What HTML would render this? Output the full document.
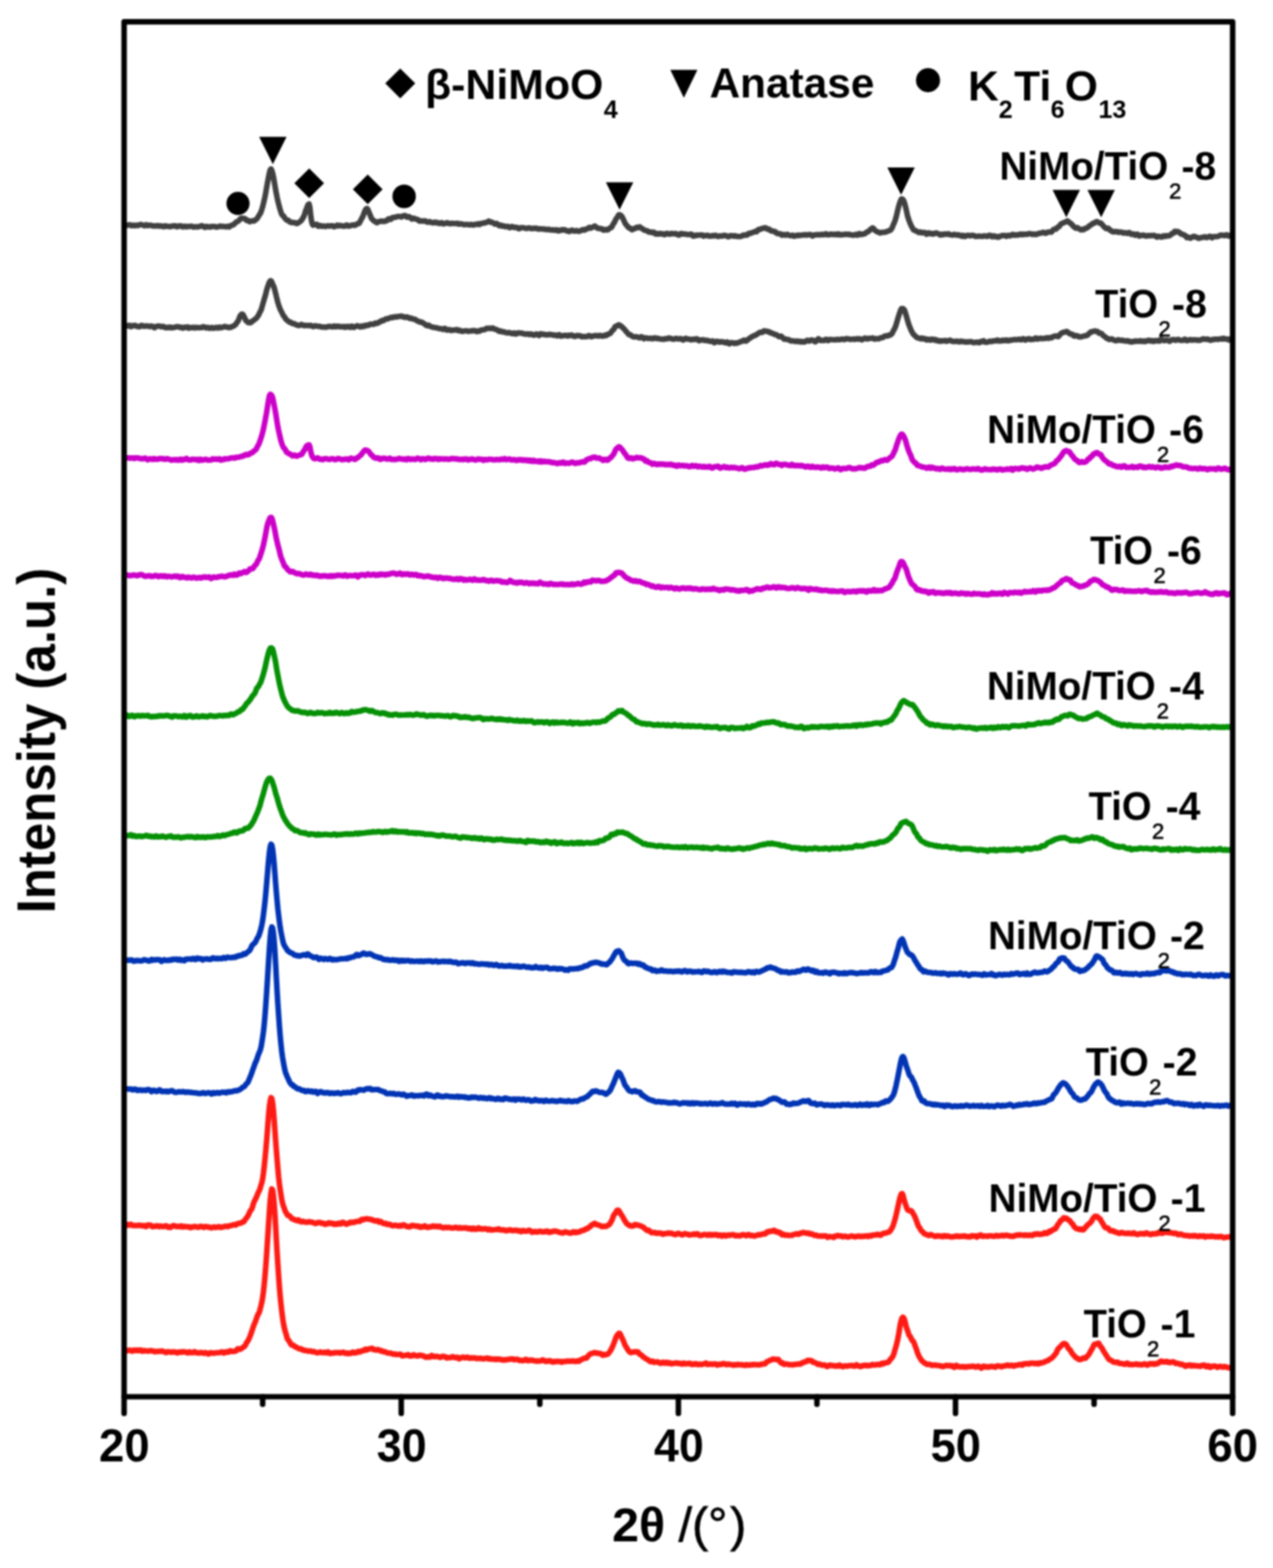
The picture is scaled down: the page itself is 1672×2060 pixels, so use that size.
<!DOCTYPE html>
<html><head><meta charset="utf-8"><title>XRD patterns</title>
<style>
html,body{margin:0;padding:0;background:#fff;}
svg{display:block;filter:blur(0.8px);}
text{font-family:"Liberation Sans",Arial,sans-serif;font-weight:bold;fill:#000;}
</style></head>
<body>
<svg width="1672" height="2060" viewBox="0 0 1672 2060">
<rect width="1672" height="2060" fill="#fff"/>
<g fill="none" stroke-width="7.3" stroke-linejoin="round" stroke-linecap="round">
<path d="M166.0 296.1L167.0 296.1L168.0 295.8L169.0 295.5L170.0 295.4L171.0 295.5L172.0 296.2L173.0 296.6L174.0 296.1L175.0 295.9L176.0 296.3L177.0 296.5L178.0 296.1L179.0 295.8L180.0 296.2L181.0 296.3L182.0 295.7L183.0 295.4L184.0 295.1L185.0 294.9L186.0 295.2L187.0 295.6L188.0 295.8L189.0 296.3L190.0 296.5L191.0 295.9L192.0 295.2L193.0 295.7L194.0 296.4L195.0 296.3L196.0 295.8L197.0 295.8L198.0 295.9L199.0 296.3L200.0 296.8L201.0 296.6L202.0 296.7L203.0 297.0L204.0 296.7L205.0 296.6L206.0 296.8L207.0 296.6L208.0 296.3L209.0 296.9L210.0 297.2L211.0 296.7L212.0 297.0L213.0 297.1L214.0 297.2L215.0 297.9L216.0 297.5L217.0 296.7L218.0 296.9L219.0 297.3L220.0 297.3L221.0 297.4L222.0 297.4L223.0 297.8L224.0 297.8L225.0 297.3L226.0 297.0L227.0 297.1L228.0 296.9L229.0 296.6L230.0 296.7L231.0 297.3L232.0 297.9L233.0 297.8L234.0 296.8L235.0 296.9L236.0 297.1L237.0 296.6L238.0 296.8L239.0 297.6L240.0 298.2L241.0 298.0L242.0 297.4L243.0 297.2L244.0 297.7L245.0 298.1L246.0 297.6L247.0 297.4L248.0 297.7L249.0 297.6L250.0 297.3L251.0 297.1L252.0 297.3L253.0 297.7L254.0 298.3L255.0 298.2L256.0 298.0L257.0 297.9L258.0 298.0L259.0 298.1L260.0 298.1L261.0 297.7L262.0 297.4L263.0 297.3L264.0 296.7L265.0 296.4L266.0 297.0L267.0 297.4L268.0 298.2L269.0 298.7L270.0 297.8L271.0 297.4L272.0 297.9L273.0 298.1L274.0 297.9L275.0 297.9L276.0 298.3L277.0 298.1L278.0 297.5L279.0 297.7L280.0 297.7L281.0 297.5L282.0 297.6L283.0 297.9L284.0 298.3L285.0 298.3L286.0 298.0L287.0 297.8L288.0 297.4L289.0 296.9L290.0 297.2L291.0 297.5L292.0 297.4L293.0 297.5L294.0 297.6L295.0 297.7L296.0 297.9L297.0 298.0L298.0 297.7L299.0 297.3L300.0 298.0L301.0 298.2L302.0 297.3L303.0 296.6L304.0 296.1L305.0 295.8L306.0 295.6L307.0 294.9L308.0 293.9L309.0 293.0L310.0 291.9L311.0 291.3L312.0 291.1L313.0 290.4L314.0 289.5L315.0 288.3L316.0 287.2L317.0 286.7L318.0 286.6L319.0 286.8L320.0 287.0L321.0 287.1L322.0 287.3L323.0 288.4L324.0 289.7L325.0 289.6L326.0 289.7L327.0 290.8L328.0 291.3L329.0 290.7L330.0 290.5L331.0 290.3L332.0 290.0L333.0 290.4L334.0 290.2L335.0 289.3L336.0 288.5L337.0 287.8L338.0 286.6L339.0 285.1L340.0 283.2L341.0 281.7L342.0 280.3L343.0 277.8L344.0 274.8L345.0 271.5L346.0 267.4L347.0 263.2L348.0 258.7L349.0 253.3L350.0 247.5L351.0 241.9L352.0 236.6L353.0 231.2L354.0 226.4L355.0 222.9L356.0 222.0L357.0 224.0L358.0 227.4L359.0 231.5L360.0 237.1L361.0 243.2L362.0 249.2L363.0 254.5L364.0 259.6L365.0 264.2L366.0 268.1L367.0 272.0L368.0 275.6L369.0 278.7L370.0 281.5L371.0 283.0L372.0 283.4L373.0 284.6L374.0 286.5L375.0 287.5L376.0 288.7L377.0 289.5L378.0 289.2L379.0 289.6L380.0 291.0L381.0 291.8L382.0 292.1L383.0 292.3L384.0 292.1L385.0 292.2L386.0 292.7L387.0 292.6L388.0 292.7L389.0 293.4L390.0 293.7L391.0 293.3L392.0 292.6L393.0 291.9L394.0 291.1L395.0 290.4L396.0 289.4L397.0 287.8L398.0 286.1L399.0 284.4L400.0 281.8L401.0 278.3L402.0 275.5L403.0 273.0L404.0 270.3L405.0 268.4L406.0 268.1L407.0 272.5L408.0 281.7L409.0 289.4L410.0 293.8L411.0 295.8L412.0 295.7L413.0 295.1L414.0 295.2L415.0 294.8L416.0 294.6L417.0 296.0L418.0 297.3L419.0 296.9L420.0 296.1L421.0 296.5L422.0 297.2L423.0 297.3L424.0 297.0L425.0 297.0L426.0 297.2L427.0 297.5L428.0 297.5L429.0 297.0L430.0 296.7L431.0 296.8L432.0 297.0L433.0 297.0L434.0 296.6L435.0 296.6L436.0 296.6L437.0 296.7L438.0 297.7L439.0 297.9L440.0 297.2L441.0 297.2L442.0 296.6L443.0 295.8L444.0 296.3L445.0 296.9L446.0 296.6L447.0 296.2L448.0 296.3L449.0 296.8L450.0 297.2L451.0 297.0L452.0 297.0L453.0 297.1L454.0 296.5L455.0 295.7L456.0 295.8L457.0 296.8L458.0 297.2L459.0 297.0L460.0 296.6L461.0 296.2L462.0 296.0L463.0 295.7L464.0 295.5L465.0 295.8L466.0 296.1L467.0 295.7L468.0 294.8L469.0 294.0L470.0 293.8L471.0 293.9L472.0 292.9L473.0 291.2L474.0 289.2L475.0 287.1L476.0 285.5L477.0 283.4L478.0 280.4L479.0 277.7L480.0 275.8L481.0 274.3L482.0 273.9L483.0 275.0L484.0 277.2L485.0 279.8L486.0 282.1L487.0 284.8L488.0 287.1L489.0 288.1L490.0 289.0L491.0 290.2L492.0 290.7L493.0 291.0L494.0 292.0L495.0 292.6L496.0 292.0L497.0 291.3L498.0 291.1L499.0 291.0L500.0 290.5L501.0 290.5L502.0 290.9L503.0 290.6L504.0 290.9L505.0 290.9L506.0 290.2L507.0 290.1L508.0 290.0L509.0 288.9L510.0 287.7L511.0 287.3L512.0 287.7L513.0 288.2L514.0 287.5L515.0 286.2L516.0 285.6L517.0 285.6L518.0 285.6L519.0 285.4L520.0 285.2L521.0 284.9L522.0 284.5L523.0 284.4L524.0 284.3L525.0 284.3L526.0 284.7L527.0 285.1L528.0 284.7L529.0 283.8L530.0 283.4L531.0 283.6L532.0 283.2L533.0 283.6L534.0 284.9L535.0 285.4L536.0 284.9L537.0 284.6L538.0 285.0L539.0 285.8L540.0 287.0L541.0 287.8L542.0 287.4L543.0 286.7L544.0 286.8L545.0 287.5L546.0 287.8L547.0 287.9L548.0 288.3L549.0 288.8L550.0 289.8L551.0 290.5L552.0 290.4L553.0 290.2L554.0 290.4L555.0 290.5L556.0 290.4L557.0 290.3L558.0 290.1L559.0 290.5L560.0 291.4L561.0 291.7L562.0 291.9L563.0 291.9L564.0 291.2L565.0 291.3L566.0 292.1L567.0 292.3L568.0 292.4L569.0 292.8L570.0 292.5L571.0 291.8L572.0 292.1L573.0 292.9L574.0 292.6L575.0 292.3L576.0 293.1L577.0 293.7L578.0 293.5L579.0 293.0L580.0 292.5L581.0 293.1L582.0 294.0L583.0 294.0L584.0 293.7L585.0 293.4L586.0 292.9L587.0 292.6L588.0 293.1L589.0 293.6L590.0 293.5L591.0 293.9L592.0 293.9L593.0 293.3L594.0 293.3L595.0 293.6L596.0 293.7L597.0 293.6L598.0 293.6L599.0 293.6L600.0 293.4L601.0 293.5L602.0 294.3L603.0 294.5L604.0 294.0L605.0 294.1L606.0 294.1L607.0 294.3L608.0 294.8L609.0 295.1L610.0 295.2L611.0 295.0L612.0 294.9L613.0 294.8L614.0 294.8L615.0 295.2L616.0 295.4L617.0 295.4L618.0 295.1L619.0 294.8L620.0 295.0L621.0 295.6L622.0 295.6L623.0 295.2L624.0 294.7L625.0 294.7L626.0 294.9L627.0 294.5L628.0 294.0L629.0 294.8L630.0 295.0L631.0 294.0L632.0 293.4L633.0 293.4L634.0 293.3L635.0 293.3L636.0 292.8L637.0 292.5L638.0 292.5L639.0 292.1L640.0 291.7L641.0 291.1L642.0 290.4L643.0 290.8L644.0 291.9L645.0 292.1L646.0 292.0L647.0 292.4L648.0 292.9L649.0 293.7L650.0 294.4L651.0 293.8L652.0 293.5L653.0 294.0L654.0 294.8L655.0 296.1L656.0 296.5L657.0 296.0L658.0 295.9L659.0 296.9L660.0 297.2L661.0 296.6L662.0 297.0L663.0 297.6L664.0 297.9L665.0 297.7L666.0 297.4L667.0 297.3L668.0 297.9L669.0 299.0L670.0 299.1L671.0 298.4L672.0 297.7L673.0 297.6L674.0 298.2L675.0 298.8L676.0 298.9L677.0 298.7L678.0 298.6L679.0 298.9L680.0 299.5L681.0 300.3L682.0 300.5L683.0 299.6L684.0 299.1L685.0 299.2L686.0 299.2L687.0 299.2L688.0 299.3L689.0 299.5L690.0 299.9L691.0 300.1L692.0 300.1L693.0 299.9L694.0 299.5L695.0 299.5L696.0 299.8L697.0 300.1L698.0 300.4L699.0 300.2L700.0 299.9L701.0 300.0L702.0 299.9L703.0 300.0L704.0 300.0L705.0 299.8L706.0 300.5L707.0 301.0L708.0 300.9L709.0 300.7L710.0 300.6L711.0 300.6L712.0 300.8L713.0 301.0L714.0 301.0L715.0 300.9L716.0 301.3L717.0 301.6L718.0 301.5L719.0 301.5L720.0 301.5L721.0 301.2L722.0 301.7L723.0 302.2L724.0 302.2L725.0 302.1L726.0 301.8L727.0 302.0L728.0 302.5L729.0 302.6L730.0 302.1L731.0 301.8L732.0 302.5L733.0 303.3L734.0 303.3L735.0 302.5L736.0 302.1L737.0 302.7L738.0 302.3L739.0 301.6L740.0 302.0L741.0 301.9L742.0 301.8L743.0 302.6L744.0 303.3L745.0 303.1L746.0 303.4L747.0 304.2L748.0 304.1L749.0 303.3L750.0 302.7L751.0 302.3L752.0 302.6L753.0 303.3L754.0 303.5L755.0 303.5L756.0 303.5L757.0 303.0L758.0 303.1L759.0 303.6L760.0 303.8L761.0 303.8L762.0 303.3L763.0 302.9L764.0 302.7L765.0 301.9L766.0 301.7L767.0 302.2L768.0 302.3L769.0 301.6L770.0 300.8L771.0 300.6L772.0 300.4L773.0 299.5L774.0 298.8L775.0 299.2L776.0 299.7L777.0 299.1L778.0 298.3L779.0 298.3L780.0 297.8L781.0 296.9L782.0 297.5L783.0 298.6L784.0 299.2L785.0 299.9L786.0 300.1L787.0 300.0L788.0 300.3L789.0 300.5L790.0 300.5L791.0 300.9L792.0 302.0L793.0 302.4L794.0 301.8L795.0 301.5L796.0 301.9L797.0 302.1L798.0 301.9L799.0 301.4L800.0 300.4L801.0 299.6L802.0 299.3L803.0 298.8L804.0 297.4L805.0 295.1L806.0 293.5L807.0 292.2L808.0 289.9L809.0 287.8L810.0 286.6L811.0 285.1L812.0 283.2L813.0 282.2L814.0 282.1L815.0 282.7L816.0 283.7L817.0 284.8L818.0 286.6L819.0 288.9L820.0 291.0L821.0 293.2L822.0 294.8L823.0 295.8L824.0 297.1L825.0 298.4L826.0 299.3L827.0 299.4L828.0 299.9L829.0 301.1L830.0 301.9L831.0 301.5L832.0 300.5L833.0 300.2L834.0 300.3L835.0 299.4L836.0 298.7L837.0 298.9L838.0 299.0L839.0 298.4L840.0 297.9L841.0 298.6L842.0 299.7L843.0 300.1L844.0 300.6L845.0 301.5L846.0 302.1L847.0 302.5L848.0 302.8L849.0 303.0L850.0 303.2L851.0 303.9L852.0 304.8L853.0 304.9L854.0 304.6L855.0 304.9L856.0 305.5L857.0 305.6L858.0 305.0L859.0 305.1L860.0 306.3L861.0 307.5L862.0 307.3L863.0 306.7L864.0 307.2L865.0 307.6L866.0 306.9L867.0 306.7L868.0 307.3L869.0 307.4L870.0 307.1L871.0 307.2L872.0 308.1L873.0 308.3L874.0 307.8L875.0 307.1L876.0 306.5L877.0 307.0L878.0 307.4L879.0 307.6L880.0 307.6L881.0 307.0L882.0 306.6L883.0 307.0L884.0 307.1L885.0 307.1L886.0 307.1L887.0 306.8L888.0 306.8L889.0 307.8L890.0 308.3L891.0 308.8L892.0 308.9L893.0 307.9L894.0 306.9L895.0 306.8L896.0 307.1L897.0 307.5L898.0 307.5L899.0 307.3L900.0 307.5L901.0 307.6L902.0 308.0L903.0 308.2L904.0 308.1L905.0 308.1L906.0 308.0L907.0 307.7L908.0 307.6L909.0 308.6L910.0 309.9L911.0 310.2L912.0 309.9L913.0 309.2L914.0 309.0L915.0 309.3L916.0 309.2L917.0 308.8L918.0 308.8L919.0 308.9L920.0 308.9L921.0 308.7L922.0 308.6L923.0 309.3L924.0 310.2L925.0 309.7L926.0 309.3L927.0 309.7L928.0 309.6L929.0 309.1L930.0 309.4L931.0 310.0L932.0 310.0L933.0 310.1L934.0 310.3L935.0 309.8L936.0 309.5L937.0 309.9L938.0 310.0L939.0 309.2L940.0 309.1L941.0 309.7L942.0 310.3L943.0 310.8L944.0 310.5L945.0 309.9L946.0 310.1L947.0 310.1L948.0 310.0L949.0 310.1L950.0 309.5L951.0 309.1L952.0 309.4L953.0 309.5L954.0 309.8L955.0 310.5L956.0 311.0L957.0 311.2L958.0 310.4L959.0 309.6L960.0 309.6L961.0 309.6L962.0 309.8L963.0 310.3L964.0 309.9L965.0 309.6L966.0 310.3L967.0 310.6L968.0 310.5L969.0 310.6L970.0 310.6L971.0 310.6L972.0 310.8L973.0 310.5L974.0 310.2L975.0 309.7L976.0 309.0L977.0 308.9L978.0 309.1L979.0 308.7L980.0 308.5L981.0 308.9L982.0 308.3L983.0 306.9L984.0 306.4L985.0 306.6L986.0 306.5L987.0 306.0L988.0 305.6L989.0 305.3L990.0 304.9L991.0 304.3L992.0 304.1L993.0 304.6L994.0 304.3L995.0 302.7L996.0 301.6L997.0 301.5L998.0 301.4L999.0 300.7L1000.0 300.4L1001.0 300.3L1002.0 299.9L1003.0 299.7L1004.0 299.6L1005.0 299.2L1006.0 299.5L1007.0 300.5L1008.0 301.1L1009.0 301.0L1010.0 300.9L1011.0 301.8L1012.0 303.0L1013.0 303.4L1014.0 303.3L1015.0 303.6L1016.0 304.2L1017.0 304.3L1018.0 304.2L1019.0 305.1L1020.0 306.3L1021.0 306.8L1022.0 306.9L1023.0 307.0L1024.0 307.2L1025.0 307.2L1026.0 307.9L1027.0 309.0L1028.0 308.8L1029.0 308.1L1030.0 308.2L1031.0 308.8L1032.0 309.1L1033.0 308.3L1034.0 307.8L1035.0 308.3L1036.0 308.9L1037.0 309.3L1038.0 309.7L1039.0 309.7L1040.0 309.3L1041.0 309.0L1042.0 309.7L1043.0 310.4L1044.0 310.0L1045.0 309.4L1046.0 309.6L1047.0 309.7L1048.0 309.0L1049.0 308.9L1050.0 309.3L1051.0 309.3L1052.0 309.0L1053.0 308.9L1054.0 308.9L1055.0 308.8L1056.0 308.5L1057.0 308.2L1058.0 308.7L1059.0 308.9L1060.0 308.4L1061.0 308.4L1062.0 308.6L1063.0 308.3L1064.0 308.1L1065.0 308.3L1066.0 309.2L1067.0 310.1L1068.0 309.7L1069.0 308.8L1070.0 308.6L1071.0 308.5L1072.0 308.6L1073.0 308.6L1074.0 308.1L1075.0 308.3L1076.0 308.6L1077.0 308.7L1078.0 308.3L1079.0 307.8L1080.0 308.1L1081.0 308.4L1082.0 308.3L1083.0 308.1L1084.0 307.3L1085.0 307.1L1086.0 308.0L1087.0 308.5L1088.0 308.2L1089.0 308.2L1090.0 308.3L1091.0 307.8L1092.0 307.5L1093.0 308.0L1094.0 308.2L1095.0 307.9L1096.0 308.1L1097.0 307.7L1098.0 307.7L1099.0 308.3L1100.0 308.0L1101.0 307.3L1102.0 307.8L1103.0 308.7L1104.0 308.7L1105.0 308.2L1106.0 308.3L1107.0 308.3L1108.0 308.0L1109.0 308.1L1110.0 308.0L1111.0 307.7L1112.0 307.7L1113.0 308.0L1114.0 308.0L1115.0 307.7L1116.0 308.0L1117.0 308.5L1118.0 308.6L1119.0 308.7L1120.0 308.9L1121.0 309.0L1122.0 308.9L1123.0 308.3L1124.0 308.0L1125.0 308.3L1126.0 309.0L1127.0 308.5L1128.0 307.0L1129.0 307.0L1130.0 307.9L1131.0 308.2L1132.0 307.9L1133.0 307.5L1134.0 307.5L1135.0 307.3L1136.0 307.0L1137.0 306.2L1138.0 305.1L1139.0 304.7L1140.0 304.4L1141.0 303.8L1142.0 302.7L1143.0 301.6L1144.0 301.0L1145.0 300.1L1146.0 299.5L1147.0 299.8L1148.0 301.0L1149.0 302.4L1150.0 303.2L1151.0 303.8L1152.0 304.5L1153.0 304.8L1154.0 305.1L1155.0 305.7L1156.0 306.0L1157.0 305.6L1158.0 305.3L1159.0 305.4L1160.0 305.2L1161.0 305.1L1162.0 305.2L1163.0 305.0L1164.0 304.5L1165.0 304.0L1166.0 303.8L1167.0 303.4L1168.0 302.9L1169.0 302.7L1170.0 301.8L1171.0 300.6L1172.0 298.7L1173.0 296.0L1174.0 293.8L1175.0 291.5L1176.0 288.6L1177.0 285.1L1178.0 281.0L1179.0 276.7L1180.0 272.7L1181.0 268.8L1182.0 265.8L1183.0 263.2L1184.0 261.4L1185.0 261.3L1186.0 262.3L1187.0 263.8L1188.0 266.6L1189.0 270.3L1190.0 274.3L1191.0 279.0L1192.0 283.6L1193.0 286.8L1194.0 289.7L1195.0 292.3L1196.0 294.8L1197.0 296.9L1198.0 298.7L1199.0 300.7L1200.0 302.2L1201.0 302.6L1202.0 302.7L1203.0 303.2L1204.0 303.9L1205.0 304.5L1206.0 305.0L1207.0 305.5L1208.0 305.5L1209.0 304.8L1210.0 305.2L1211.0 306.0L1212.0 305.7L1213.0 305.5L1214.0 305.5L1215.0 305.6L1216.0 306.6L1217.0 307.8L1218.0 307.3L1219.0 306.1L1220.0 305.9L1221.0 306.6L1222.0 307.0L1223.0 306.6L1224.0 306.6L1225.0 307.4L1226.0 307.6L1227.0 306.9L1228.0 306.3L1229.0 306.1L1230.0 306.1L1231.0 306.4L1232.0 307.1L1233.0 307.5L1234.0 308.1L1235.0 308.8L1236.0 308.4L1237.0 307.7L1238.0 308.2L1239.0 308.4L1240.0 307.6L1241.0 307.4L1242.0 307.4L1243.0 307.7L1244.0 307.9L1245.0 307.2L1246.0 307.2L1247.0 307.9L1248.0 308.3L1249.0 308.5L1250.0 308.6L1251.0 308.8L1252.0 308.6L1253.0 307.9L1254.0 308.1L1255.0 308.5L1256.0 308.8L1257.0 308.8L1258.0 308.4L1259.0 308.6L1260.0 309.3L1261.0 309.2L1262.0 309.3L1263.0 310.4L1264.0 310.4L1265.0 309.2L1266.0 309.7L1267.0 310.7L1268.0 310.4L1269.0 309.7L1270.0 309.3L1271.0 309.2L1272.0 309.2L1273.0 309.5L1274.0 309.8L1275.0 309.6L1276.0 309.2L1277.0 309.2L1278.0 309.4L1279.0 309.5L1280.0 309.9L1281.0 310.5L1282.0 310.6L1283.0 310.5L1284.0 310.4L1285.0 310.3L1286.0 310.1L1287.0 310.3L1288.0 310.3L1289.0 310.3L1290.0 310.7L1291.0 310.5L1292.0 310.0L1293.0 309.9L1294.0 310.1L1295.0 310.2L1296.0 310.5L1297.0 310.7L1298.0 309.9L1299.0 309.1L1300.0 309.2L1301.0 309.4L1302.0 310.2L1303.0 311.1L1304.0 310.7L1305.0 309.8L1306.0 310.1L1307.0 311.1L1308.0 310.9L1309.0 310.6L1310.0 311.3L1311.0 311.8L1312.0 311.3L1313.0 310.5L1314.0 310.4L1315.0 310.2L1316.0 309.6L1317.0 309.3L1318.0 309.4L1319.0 309.4L1320.0 309.5L1321.0 310.2L1322.0 310.5L1323.0 309.7L1324.0 309.2L1325.0 309.4L1326.0 309.8L1327.0 309.8L1328.0 309.1L1329.0 308.4L1330.0 308.0L1331.0 308.4L1332.0 309.1L1333.0 308.9L1334.0 308.4L1335.0 308.4L1336.0 308.8L1337.0 308.8L1338.0 308.4L1339.0 307.9L1340.0 307.4L1341.0 307.9L1342.0 308.4L1343.0 307.6L1344.0 307.7L1345.0 308.1L1346.0 307.8L1347.0 307.6L1348.0 307.8L1349.0 307.9L1350.0 307.4L1351.0 306.9L1352.0 307.0L1353.0 307.1L1354.0 307.2L1355.0 307.6L1356.0 308.0L1357.0 307.8L1358.0 307.5L1359.0 307.8L1360.0 308.1L1361.0 308.1L1362.0 307.8L1363.0 307.1L1364.0 306.9L1365.0 306.7L1366.0 306.2L1367.0 306.2L1368.0 306.2L1369.0 305.7L1370.0 305.2L1371.0 305.3L1372.0 306.0L1373.0 306.5L1374.0 306.3L1375.0 305.7L1376.0 305.1L1377.0 304.8L1378.0 304.9L1379.0 304.8L1380.0 304.9L1381.0 304.9L1382.0 303.6L1383.0 302.2L1384.0 301.5L1385.0 300.9L1386.0 300.8L1387.0 301.0L1388.0 299.9L1389.0 298.5L1390.0 298.3L1391.0 297.8L1392.0 296.2L1393.0 294.7L1394.0 294.0L1395.0 293.5L1396.0 293.1L1397.0 292.7L1398.0 292.2L1399.0 291.8L1400.0 291.5L1401.0 290.8L1402.0 290.2L1403.0 290.9L1404.0 291.8L1405.0 292.6L1406.0 293.6L1407.0 294.0L1408.0 294.9L1409.0 296.6L1410.0 297.5L1411.0 298.1L1412.0 299.1L1413.0 299.8L1414.0 299.5L1415.0 299.0L1416.0 299.7L1417.0 300.4L1418.0 300.8L1419.0 301.6L1420.0 302.0L1421.0 301.3L1422.0 301.3L1423.0 301.8L1424.0 301.0L1425.0 300.1L1426.0 300.2L1427.0 299.8L1428.0 299.1L1429.0 298.6L1430.0 297.5L1431.0 296.5L1432.0 296.2L1433.0 295.6L1434.0 294.5L1435.0 293.7L1436.0 293.6L1437.0 293.3L1438.0 292.3L1439.0 291.7L1440.0 291.3L1441.0 291.1L1442.0 291.7L1443.0 292.4L1444.0 293.0L1445.0 293.1L1446.0 293.2L1447.0 294.1L1448.0 295.5L1449.0 296.8L1450.0 297.9L1451.0 298.6L1452.0 299.6L1453.0 300.4L1454.0 300.2L1455.0 299.8L1456.0 300.1L1457.0 301.2L1458.0 302.5L1459.0 302.9L1460.0 303.5L1461.0 304.3L1462.0 304.7L1463.0 304.7L1464.0 304.2L1465.0 304.2L1466.0 304.5L1467.0 304.6L1468.0 304.5L1469.0 305.1L1470.0 305.3L1471.0 304.8L1472.0 304.8L1473.0 305.1L1474.0 305.6L1475.0 306.0L1476.0 306.1L1477.0 305.9L1478.0 305.7L1479.0 306.2L1480.0 306.4L1481.0 306.6L1482.0 306.2L1483.0 305.4L1484.0 306.0L1485.0 307.3L1486.0 307.9L1487.0 307.8L1488.0 307.3L1489.0 307.3L1490.0 308.4L1491.0 309.0L1492.0 308.3L1493.0 307.7L1494.0 307.7L1495.0 309.0L1496.0 310.1L1497.0 309.9L1498.0 309.6L1499.0 309.2L1500.0 309.0L1501.0 309.3L1502.0 309.0L1503.0 309.1L1504.0 309.8L1505.0 310.2L1506.0 310.2L1507.0 310.0L1508.0 309.4L1509.0 309.3L1510.0 309.8L1511.0 309.7L1512.0 309.3L1513.0 309.5L1514.0 309.6L1515.0 309.3L1516.0 309.2L1517.0 309.7L1518.0 310.5L1519.0 311.4L1520.0 311.5L1521.0 310.5L1522.0 310.4L1523.0 311.1L1524.0 310.9L1525.0 311.1L1526.0 311.5L1527.0 310.8L1528.0 309.9L1529.0 310.0L1530.0 310.6L1531.0 310.5L1532.0 309.7L1533.0 309.6L1534.0 310.1L1535.0 309.9L1536.0 309.3L1537.0 309.1L1538.0 308.3L1539.0 307.0L1540.0 306.6L1541.0 306.4L1542.0 305.1L1543.0 303.9L1544.0 304.1L1545.0 304.8L1546.0 304.4L1547.0 304.1L1548.0 304.9L1549.0 305.3L1550.0 306.1L1551.0 307.3L1552.0 307.8L1553.0 307.8L1554.0 308.1L1555.0 308.9L1556.0 308.9L1557.0 309.4L1558.0 311.3L1559.0 312.2L1560.0 311.8L1561.0 311.6L1562.0 312.2L1563.0 313.0L1564.0 312.7L1565.0 311.8L1566.0 311.3L1567.0 311.1L1568.0 310.5L1569.0 310.7L1570.0 311.4L1571.0 311.6L1572.0 311.7L1573.0 312.4L1574.0 313.2L1575.0 313.0L1576.0 312.6L1577.0 312.4L1578.0 311.8L1579.0 311.8L1580.0 311.9L1581.0 311.4L1582.0 311.1L1583.0 311.1L1584.0 311.8L1585.0 312.2L1586.0 311.6L1587.0 311.2L1588.0 310.8L1589.0 310.3L1590.0 310.7L1591.0 312.0L1592.0 312.5L1593.0 311.5L1594.0 310.8L1595.0 310.8L1596.0 310.8L1597.0 310.9L1598.0 310.8L1599.0 310.7L1600.0 310.5L1601.0 309.9L1602.0 309.4L1603.0 309.0L1604.0 309.0L1605.0 309.0L1606.0 309.1L1607.0 309.2L1608.0 309.5L1609.0 309.4L1610.0 308.7L1611.0 308.4L1612.0 308.8L1613.0 309.7L1614.0 310.2L1615.0 309.7L1616.0 309.0" stroke="#404040"/>
<path d="M166.0 428.3L167.0 428.0L168.0 428.2L169.0 427.5L170.0 427.3L171.0 429.0L172.0 429.2L173.0 428.1L174.0 427.9L175.0 428.1L176.0 427.9L177.0 427.4L178.0 427.7L179.0 428.4L180.0 428.8L181.0 428.9L182.0 429.2L183.0 429.3L184.0 428.7L185.0 428.0L186.0 427.4L187.0 427.8L188.0 428.6L189.0 428.5L190.0 428.6L191.0 428.5L192.0 428.1L193.0 428.2L194.0 428.3L195.0 428.6L196.0 429.1L197.0 429.1L198.0 428.5L199.0 428.4L200.0 428.8L201.0 429.1L202.0 430.0L203.0 430.6L204.0 429.9L205.0 429.1L206.0 428.8L207.0 428.4L208.0 428.3L209.0 428.4L210.0 428.6L211.0 429.1L212.0 429.3L213.0 429.2L214.0 428.8L215.0 429.1L216.0 429.9L217.0 430.3L218.0 430.5L219.0 430.5L220.0 430.2L221.0 429.8L222.0 430.3L223.0 430.6L224.0 429.8L225.0 430.2L226.0 430.7L227.0 430.3L228.0 430.3L229.0 430.2L230.0 429.7L231.0 429.5L232.0 429.3L233.0 429.1L234.0 429.3L235.0 429.6L236.0 430.0L237.0 429.8L238.0 429.8L239.0 430.7L240.0 431.1L241.0 430.5L242.0 429.9L243.0 430.0L244.0 430.3L245.0 430.0L246.0 429.5L247.0 430.7L248.0 431.2L249.0 430.2L250.0 430.3L251.0 430.5L252.0 430.5L253.0 430.5L254.0 430.0L255.0 430.4L256.0 430.9L257.0 430.4L258.0 430.1L259.0 430.2L260.0 430.5L261.0 430.7L262.0 430.5L263.0 430.3L264.0 430.2L265.0 430.4L266.0 429.9L267.0 429.2L268.0 429.6L269.0 429.9L270.0 430.4L271.0 430.8L272.0 430.1L273.0 430.1L274.0 430.9L275.0 431.2L276.0 431.3L277.0 430.8L278.0 430.2L279.0 430.5L280.0 431.3L281.0 431.2L282.0 430.7L283.0 430.4L284.0 430.2L285.0 430.6L286.0 431.1L287.0 430.5L288.0 429.7L289.0 430.0L290.0 430.6L291.0 430.6L292.0 430.1L293.0 429.7L294.0 429.5L295.0 428.9L296.0 429.1L297.0 429.7L298.0 429.7L299.0 429.9L300.0 430.3L301.0 429.9L302.0 429.9L303.0 430.2L304.0 429.6L305.0 428.9L306.0 428.8L307.0 428.3L308.0 427.3L309.0 426.8L310.0 425.6L311.0 423.9L312.0 422.8L313.0 421.2L314.0 418.6L315.0 415.9L316.0 414.2L317.0 413.1L318.0 412.6L319.0 413.2L320.0 414.9L321.0 416.7L322.0 419.0L323.0 421.2L324.0 421.9L325.0 422.9L326.0 423.9L327.0 423.9L328.0 423.7L329.0 424.0L330.0 423.5L331.0 422.1L332.0 421.4L333.0 420.9L334.0 420.2L335.0 419.4L336.0 418.6L337.0 417.7L338.0 416.2L339.0 414.9L340.0 413.2L341.0 410.9L342.0 409.1L343.0 407.1L344.0 403.8L345.0 400.1L346.0 396.7L347.0 393.1L348.0 389.9L349.0 386.3L350.0 382.0L351.0 378.6L352.0 375.8L353.0 372.8L354.0 370.5L355.0 369.0L356.0 368.9L357.0 370.6L358.0 373.1L359.0 375.2L360.0 377.7L361.0 381.3L362.0 385.4L363.0 389.5L364.0 393.6L365.0 397.5L366.0 400.7L367.0 403.6L368.0 406.3L369.0 408.3L370.0 410.0L371.0 412.3L372.0 414.4L373.0 415.5L374.0 416.8L375.0 418.7L376.0 419.9L377.0 420.6L378.0 421.5L379.0 422.4L380.0 423.0L381.0 423.0L382.0 423.5L383.0 424.6L384.0 425.1L385.0 425.1L386.0 425.1L387.0 425.4L388.0 426.3L389.0 426.7L390.0 426.8L391.0 427.5L392.0 427.7L393.0 427.4L394.0 427.3L395.0 426.6L396.0 426.2L397.0 426.7L398.0 427.3L399.0 427.6L400.0 427.8L401.0 427.6L402.0 427.4L403.0 427.7L404.0 427.7L405.0 427.7L406.0 427.9L407.0 427.6L408.0 427.5L409.0 427.9L410.0 428.6L411.0 429.1L412.0 428.9L413.0 428.3L414.0 428.0L415.0 428.4L416.0 428.4L417.0 428.4L418.0 428.9L419.0 428.9L420.0 428.6L421.0 429.2L422.0 429.6L423.0 429.7L424.0 429.6L425.0 429.6L426.0 429.9L427.0 429.9L428.0 429.7L429.0 429.8L430.0 429.5L431.0 429.0L432.0 428.7L433.0 429.0L434.0 429.2L435.0 428.9L436.0 429.3L437.0 429.6L438.0 428.9L439.0 428.3L440.0 428.9L441.0 429.4L442.0 429.1L443.0 428.6L444.0 428.4L445.0 428.9L446.0 429.4L447.0 429.2L448.0 428.9L449.0 429.2L450.0 429.6L451.0 429.5L452.0 429.0L453.0 429.4L454.0 430.0L455.0 429.3L456.0 428.8L457.0 428.8L458.0 429.1L459.0 430.0L460.0 430.2L461.0 428.9L462.0 428.5L463.0 429.6L464.0 430.1L465.0 430.0L466.0 429.6L467.0 428.8L468.0 428.4L469.0 427.9L470.0 428.1L471.0 428.7L472.0 429.1L473.0 429.5L474.0 428.9L475.0 428.3L476.0 428.9L477.0 429.2L478.0 428.3L479.0 427.5L480.0 427.9L481.0 428.1L482.0 427.3L483.0 427.0L484.0 427.3L485.0 426.9L486.0 426.1L487.0 425.8L488.0 425.8L489.0 425.9L490.0 426.0L491.0 426.1L492.0 425.4L493.0 424.4L494.0 424.6L495.0 424.9L496.0 424.6L497.0 424.1L498.0 423.1L499.0 422.6L500.0 422.6L501.0 421.5L502.0 420.9L503.0 421.4L504.0 421.0L505.0 420.2L506.0 419.5L507.0 418.9L508.0 418.8L509.0 419.0L510.0 418.6L511.0 417.9L512.0 417.8L513.0 417.3L514.0 417.0L515.0 417.4L516.0 416.8L517.0 416.4L518.0 416.8L519.0 416.3L520.0 416.0L521.0 416.3L522.0 416.3L523.0 415.9L524.0 415.7L525.0 415.6L526.0 415.6L527.0 415.2L528.0 415.5L529.0 416.4L530.0 416.2L531.0 416.4L532.0 417.1L533.0 416.7L534.0 416.3L535.0 416.6L536.0 416.9L537.0 417.8L538.0 418.3L539.0 417.9L540.0 418.0L541.0 418.7L542.0 419.0L543.0 419.3L544.0 419.6L545.0 419.5L546.0 420.1L547.0 420.9L548.0 421.6L549.0 422.0L550.0 422.2L551.0 423.0L552.0 423.3L553.0 423.2L554.0 423.2L555.0 423.9L556.0 424.7L557.0 425.1L558.0 425.9L559.0 426.9L560.0 427.6L561.0 427.8L562.0 427.2L563.0 427.2L564.0 428.2L565.0 428.8L566.0 429.1L567.0 429.3L568.0 429.8L569.0 430.2L570.0 430.2L571.0 430.3L572.0 430.4L573.0 430.6L574.0 430.9L575.0 431.1L576.0 431.3L577.0 431.8L578.0 431.9L579.0 431.9L580.0 431.8L581.0 432.2L582.0 432.8L583.0 432.2L584.0 431.5L585.0 431.8L586.0 432.8L587.0 433.7L588.0 433.6L589.0 433.2L590.0 432.9L591.0 433.3L592.0 434.1L593.0 434.2L594.0 433.7L595.0 433.8L596.0 433.7L597.0 433.4L598.0 433.5L599.0 433.3L600.0 433.0L601.0 433.9L602.0 434.4L603.0 433.8L604.0 433.9L605.0 434.8L606.0 435.1L607.0 435.3L608.0 435.3L609.0 434.8L610.0 434.8L611.0 434.7L612.0 434.6L613.0 434.7L614.0 435.0L615.0 435.3L616.0 435.1L617.0 434.8L618.0 434.8L619.0 434.8L620.0 434.4L621.0 434.4L622.0 434.6L623.0 434.5L624.0 434.4L625.0 434.8L626.0 435.6L627.0 435.6L628.0 434.8L629.0 434.7L630.0 435.0L631.0 434.3L632.0 433.6L633.0 433.4L634.0 433.4L635.0 433.3L636.0 433.1L637.0 432.8L638.0 432.0L639.0 431.4L640.0 431.4L641.0 431.6L642.0 431.3L643.0 431.1L644.0 431.7L645.0 431.7L646.0 431.1L647.0 430.9L648.0 431.3L649.0 432.0L650.0 432.6L651.0 432.7L652.0 433.0L653.0 433.4L654.0 433.9L655.0 435.0L656.0 435.3L657.0 434.7L658.0 435.0L659.0 435.7L660.0 436.0L661.0 435.9L662.0 435.9L663.0 436.3L664.0 436.9L665.0 437.1L666.0 437.1L667.0 437.3L668.0 436.9L669.0 436.8L670.0 437.5L671.0 437.8L672.0 437.9L673.0 438.4L674.0 438.3L675.0 437.5L676.0 437.7L677.0 438.8L678.0 438.9L679.0 437.8L680.0 437.3L681.0 437.5L682.0 437.5L683.0 437.5L684.0 437.7L685.0 437.6L686.0 437.8L687.0 438.5L688.0 438.5L689.0 438.6L690.0 439.1L691.0 439.1L692.0 438.8L693.0 438.6L694.0 438.9L695.0 439.7L696.0 439.4L697.0 438.6L698.0 439.0L699.0 439.5L700.0 439.9L701.0 440.4L702.0 440.1L703.0 439.3L704.0 438.9L705.0 438.8L706.0 439.3L707.0 440.2L708.0 440.8L709.0 439.7L710.0 438.5L711.0 438.9L712.0 439.3L713.0 439.0L714.0 439.0L715.0 439.5L716.0 439.9L717.0 439.7L718.0 439.7L719.0 440.0L720.0 439.8L721.0 439.4L722.0 439.2L723.0 439.6L724.0 439.9L725.0 439.6L726.0 440.0L727.0 440.5L728.0 440.4L729.0 440.1L730.0 440.3L731.0 441.0L732.0 441.3L733.0 440.5L734.0 439.6L735.0 440.0L736.0 441.2L737.0 441.7L738.0 441.5L739.0 441.2L740.0 440.8L741.0 440.6L742.0 440.9L743.0 440.7L744.0 440.6L745.0 441.3L746.0 441.5L747.0 440.5L748.0 440.3L749.0 440.8L750.0 440.4L751.0 440.1L752.0 441.1L753.0 441.4L754.0 441.5L755.0 442.1L756.0 441.7L757.0 441.0L758.0 441.0L759.0 440.8L760.0 440.9L761.0 441.3L762.0 441.2L763.0 441.5L764.0 442.3L765.0 442.5L766.0 442.2L767.0 442.1L768.0 442.2L769.0 442.4L770.0 442.4L771.0 442.2L772.0 441.6L773.0 441.0L774.0 440.9L775.0 441.3L776.0 442.2L777.0 442.3L778.0 441.7L779.0 441.5L780.0 441.4L781.0 441.0L782.0 441.0L783.0 441.1L784.0 440.9L785.0 441.3L786.0 441.5L787.0 441.1L788.0 440.6L789.0 441.1L790.0 441.6L791.0 441.5L792.0 441.7L793.0 441.5L794.0 440.5L795.0 440.2L796.0 440.8L797.0 440.7L798.0 439.3L799.0 438.8L800.0 438.7L801.0 438.3L802.0 437.5L803.0 436.0L804.0 434.5L805.0 433.6L806.0 432.9L807.0 430.9L808.0 428.9L809.0 428.4L810.0 428.4L811.0 428.0L812.0 427.0L813.0 426.7L814.0 427.4L815.0 428.1L816.0 428.6L817.0 429.6L818.0 430.6L819.0 431.4L820.0 432.6L821.0 433.7L822.0 434.9L823.0 436.2L824.0 437.1L825.0 438.5L826.0 439.6L827.0 439.6L828.0 439.8L829.0 440.6L830.0 441.6L831.0 442.1L832.0 442.5L833.0 442.6L834.0 442.5L835.0 442.3L836.0 442.3L837.0 443.0L838.0 443.2L839.0 443.3L840.0 443.9L841.0 443.3L842.0 442.4L843.0 442.6L844.0 443.2L845.0 444.4L846.0 445.0L847.0 444.2L848.0 443.8L849.0 443.9L850.0 444.3L851.0 444.7L852.0 444.6L853.0 444.4L854.0 444.5L855.0 444.3L856.0 444.5L857.0 445.1L858.0 444.8L859.0 444.0L860.0 443.8L861.0 444.1L862.0 444.7L863.0 444.8L864.0 444.4L865.0 444.7L866.0 445.2L867.0 445.2L868.0 445.5L869.0 445.7L870.0 445.6L871.0 445.5L872.0 445.8L873.0 445.5L874.0 444.8L875.0 445.1L876.0 445.2L877.0 444.7L878.0 444.2L879.0 444.0L880.0 444.5L881.0 444.9L882.0 445.0L883.0 445.1L884.0 445.7L885.0 445.7L886.0 445.2L887.0 444.9L888.0 444.7L889.0 444.7L890.0 445.0L891.0 445.4L892.0 445.2L893.0 444.9L894.0 445.0L895.0 445.2L896.0 446.0L897.0 446.7L898.0 446.4L899.0 445.4L900.0 444.7L901.0 444.4L902.0 444.9L903.0 445.6L904.0 445.7L905.0 445.6L906.0 445.7L907.0 446.2L908.0 446.5L909.0 446.0L910.0 445.6L911.0 445.9L912.0 446.1L913.0 445.7L914.0 445.2L915.0 445.1L916.0 445.5L917.0 446.9L918.0 447.5L919.0 446.9L920.0 446.9L921.0 446.8L922.0 446.3L923.0 446.4L924.0 446.6L925.0 447.1L926.0 447.4L927.0 446.9L928.0 447.2L929.0 447.6L930.0 447.5L931.0 447.9L932.0 448.3L933.0 448.3L934.0 448.5L935.0 448.2L936.0 447.9L937.0 449.2L938.0 450.2L939.0 449.9L940.0 449.2L941.0 448.5L942.0 448.5L943.0 448.7L944.0 449.1L945.0 449.5L946.0 449.3L947.0 448.9L948.0 448.8L949.0 449.3L950.0 449.7L951.0 449.5L952.0 450.0L953.0 450.5L954.0 449.8L955.0 449.3L956.0 450.0L957.0 451.2L958.0 451.7L959.0 450.9L960.0 450.1L961.0 450.3L962.0 450.6L963.0 450.5L964.0 451.1L965.0 451.2L966.0 450.7L967.0 450.5L968.0 450.8L969.0 450.4L970.0 449.8L971.0 449.7L972.0 449.2L973.0 448.6L974.0 448.6L975.0 448.2L976.0 447.4L977.0 446.8L978.0 447.1L979.0 448.1L980.0 448.2L981.0 447.4L982.0 446.5L983.0 445.5L984.0 444.9L985.0 444.3L986.0 443.3L987.0 442.7L988.0 442.5L989.0 441.8L990.0 441.1L991.0 440.9L992.0 440.6L993.0 440.2L994.0 439.4L995.0 438.5L996.0 438.0L997.0 437.4L998.0 436.7L999.0 436.5L1000.0 436.7L1001.0 436.7L1002.0 436.0L1003.0 434.9L1004.0 434.7L1005.0 435.1L1006.0 435.2L1007.0 435.1L1008.0 435.4L1009.0 436.1L1010.0 436.0L1011.0 436.2L1012.0 437.3L1013.0 437.7L1014.0 437.7L1015.0 438.1L1016.0 438.6L1017.0 439.3L1018.0 439.5L1019.0 439.5L1020.0 440.0L1021.0 440.6L1022.0 441.5L1023.0 442.1L1024.0 442.4L1025.0 441.9L1026.0 441.6L1027.0 442.6L1028.0 443.5L1029.0 444.6L1030.0 445.6L1031.0 445.7L1032.0 445.5L1033.0 445.8L1034.0 446.1L1035.0 446.2L1036.0 446.2L1037.0 446.8L1038.0 447.6L1039.0 447.9L1040.0 448.0L1041.0 447.9L1042.0 447.8L1043.0 448.0L1044.0 448.4L1045.0 448.7L1046.0 448.4L1047.0 447.9L1048.0 448.2L1049.0 448.9L1050.0 448.6L1051.0 448.5L1052.0 449.2L1053.0 449.3L1054.0 448.7L1055.0 448.8L1056.0 449.3L1057.0 449.1L1058.0 448.5L1059.0 447.9L1060.0 447.1L1061.0 447.2L1062.0 447.9L1063.0 448.1L1064.0 447.5L1065.0 446.8L1066.0 446.7L1067.0 446.8L1068.0 447.0L1069.0 447.8L1070.0 448.7L1071.0 449.0L1072.0 448.1L1073.0 446.9L1074.0 445.8L1075.0 445.1L1076.0 445.9L1077.0 446.9L1078.0 447.3L1079.0 447.4L1080.0 447.2L1081.0 447.0L1082.0 447.3L1083.0 447.1L1084.0 446.3L1085.0 445.7L1086.0 446.1L1087.0 447.1L1088.0 447.5L1089.0 446.7L1090.0 446.0L1091.0 446.1L1092.0 446.2L1093.0 446.2L1094.0 446.3L1095.0 446.3L1096.0 446.3L1097.0 446.5L1098.0 446.4L1099.0 446.0L1100.0 445.9L1101.0 446.1L1102.0 446.3L1103.0 446.2L1104.0 446.0L1105.0 445.6L1106.0 445.5L1107.0 445.8L1108.0 445.9L1109.0 446.1L1110.0 445.9L1111.0 445.0L1112.0 445.0L1113.0 445.2L1114.0 445.1L1115.0 445.3L1116.0 445.8L1117.0 445.9L1118.0 445.8L1119.0 445.7L1120.0 445.6L1121.0 445.4L1122.0 445.6L1123.0 445.9L1124.0 445.6L1125.0 445.1L1126.0 444.9L1127.0 445.4L1128.0 445.6L1129.0 445.2L1130.0 445.1L1131.0 446.0L1132.0 446.5L1133.0 445.7L1134.0 445.4L1135.0 444.8L1136.0 444.1L1137.0 444.4L1138.0 445.1L1139.0 445.4L1140.0 445.0L1141.0 444.4L1142.0 444.6L1143.0 444.7L1144.0 444.5L1145.0 444.2L1146.0 443.9L1147.0 444.3L1148.0 445.2L1149.0 445.6L1150.0 445.1L1151.0 444.8L1152.0 445.0L1153.0 445.1L1154.0 445.2L1155.0 444.7L1156.0 444.0L1157.0 443.7L1158.0 443.7L1159.0 443.6L1160.0 443.2L1161.0 442.2L1162.0 441.5L1163.0 441.3L1164.0 441.2L1165.0 441.5L1166.0 441.2L1167.0 440.5L1168.0 440.6L1169.0 440.4L1170.0 439.5L1171.0 439.1L1172.0 437.5L1173.0 435.2L1174.0 433.6L1175.0 431.8L1176.0 429.4L1177.0 426.6L1178.0 423.1L1179.0 419.6L1180.0 416.3L1181.0 413.2L1182.0 410.2L1183.0 407.3L1184.0 405.6L1185.0 405.3L1186.0 405.6L1187.0 406.2L1188.0 407.5L1189.0 410.3L1190.0 413.8L1191.0 417.3L1192.0 420.8L1193.0 424.3L1194.0 427.2L1195.0 429.7L1196.0 432.3L1197.0 434.5L1198.0 436.3L1199.0 438.2L1200.0 439.5L1201.0 440.3L1202.0 441.2L1203.0 442.3L1204.0 443.2L1205.0 443.7L1206.0 444.0L1207.0 444.3L1208.0 444.6L1209.0 445.0L1210.0 444.4L1211.0 444.2L1212.0 445.2L1213.0 445.3L1214.0 444.9L1215.0 445.0L1216.0 445.7L1217.0 446.7L1218.0 446.3L1219.0 445.6L1220.0 446.0L1221.0 446.7L1222.0 446.9L1223.0 446.0L1224.0 445.4L1225.0 446.1L1226.0 446.5L1227.0 446.1L1228.0 446.0L1229.0 447.1L1230.0 447.5L1231.0 446.9L1232.0 447.2L1233.0 447.8L1234.0 448.4L1235.0 448.1L1236.0 447.7L1237.0 448.1L1238.0 447.9L1239.0 447.7L1240.0 447.8L1241.0 447.3L1242.0 447.3L1243.0 448.3L1244.0 448.1L1245.0 447.7L1246.0 447.7L1247.0 447.1L1248.0 447.0L1249.0 447.5L1250.0 447.9L1251.0 448.4L1252.0 448.7L1253.0 448.5L1254.0 448.7L1255.0 448.6L1256.0 448.2L1257.0 448.2L1258.0 448.5L1259.0 449.0L1260.0 449.1L1261.0 448.5L1262.0 448.2L1263.0 448.4L1264.0 448.7L1265.0 449.0L1266.0 448.8L1267.0 448.8L1268.0 449.4L1269.0 449.4L1270.0 449.2L1271.0 449.4L1272.0 449.2L1273.0 449.0L1274.0 449.0L1275.0 448.8L1276.0 448.8L1277.0 449.4L1278.0 450.2L1279.0 450.2L1280.0 449.8L1281.0 449.9L1282.0 449.6L1283.0 449.5L1284.0 449.7L1285.0 450.0L1286.0 450.3L1287.0 449.5L1288.0 448.8L1289.0 449.2L1290.0 449.0L1291.0 448.0L1292.0 447.7L1293.0 448.8L1294.0 449.5L1295.0 449.5L1296.0 449.7L1297.0 449.6L1298.0 449.1L1299.0 448.8L1300.0 448.2L1301.0 448.3L1302.0 448.8L1303.0 448.4L1304.0 447.8L1305.0 448.0L1306.0 447.9L1307.0 447.7L1308.0 447.9L1309.0 447.5L1310.0 446.8L1311.0 447.4L1312.0 448.0L1313.0 447.5L1314.0 447.5L1315.0 448.0L1316.0 447.7L1317.0 447.0L1318.0 447.0L1319.0 447.5L1320.0 447.5L1321.0 446.8L1322.0 446.7L1323.0 447.5L1324.0 447.8L1325.0 447.2L1326.0 446.8L1327.0 446.9L1328.0 447.1L1329.0 446.8L1330.0 446.3L1331.0 446.3L1332.0 446.2L1333.0 446.0L1334.0 446.3L1335.0 446.3L1336.0 446.2L1337.0 446.0L1338.0 445.6L1339.0 445.9L1340.0 446.3L1341.0 446.4L1342.0 446.2L1343.0 445.2L1344.0 444.9L1345.0 445.6L1346.0 446.4L1347.0 446.8L1348.0 446.1L1349.0 445.4L1350.0 445.4L1351.0 444.8L1352.0 445.0L1353.0 446.1L1354.0 446.0L1355.0 445.6L1356.0 445.8L1357.0 445.9L1358.0 445.7L1359.0 445.2L1360.0 444.2L1361.0 444.1L1362.0 445.2L1363.0 445.6L1364.0 445.1L1365.0 444.7L1366.0 444.3L1367.0 444.4L1368.0 444.9L1369.0 444.9L1370.0 444.6L1371.0 444.6L1372.0 444.7L1373.0 444.6L1374.0 444.1L1375.0 443.6L1376.0 444.2L1377.0 444.6L1378.0 443.8L1379.0 443.5L1380.0 443.9L1381.0 443.9L1382.0 443.1L1383.0 442.3L1384.0 442.1L1385.0 441.7L1386.0 441.5L1387.0 441.6L1388.0 441.4L1389.0 441.9L1390.0 442.2L1391.0 441.2L1392.0 439.8L1393.0 438.6L1394.0 437.8L1395.0 437.3L1396.0 436.9L1397.0 436.5L1398.0 436.3L1399.0 436.3L1400.0 435.8L1401.0 435.4L1402.0 435.9L1403.0 436.9L1404.0 437.7L1405.0 438.4L1406.0 438.8L1407.0 438.9L1408.0 439.1L1409.0 439.7L1410.0 441.1L1411.0 441.6L1412.0 441.0L1413.0 441.0L1414.0 441.3L1415.0 441.1L1416.0 441.7L1417.0 442.6L1418.0 442.6L1419.0 442.6L1420.0 442.6L1421.0 442.2L1422.0 442.0L1423.0 441.7L1424.0 441.3L1425.0 441.1L1426.0 441.0L1427.0 440.9L1428.0 440.4L1429.0 439.7L1430.0 438.7L1431.0 437.7L1432.0 436.6L1433.0 435.9L1434.0 436.1L1435.0 435.7L1436.0 435.1L1437.0 435.1L1438.0 434.8L1439.0 434.9L1440.0 435.5L1441.0 435.5L1442.0 435.8L1443.0 437.2L1444.0 437.9L1445.0 437.9L1446.0 438.0L1447.0 438.4L1448.0 439.6L1449.0 441.1L1450.0 441.6L1451.0 441.9L1452.0 443.0L1453.0 444.2L1454.0 444.3L1455.0 444.7L1456.0 445.7L1457.0 446.0L1458.0 445.8L1459.0 445.5L1460.0 445.2L1461.0 445.6L1462.0 446.2L1463.0 446.8L1464.0 447.3L1465.0 447.6L1466.0 447.6L1467.0 447.4L1468.0 446.6L1469.0 446.3L1470.0 446.8L1471.0 447.1L1472.0 447.2L1473.0 447.3L1474.0 447.0L1475.0 447.2L1476.0 447.7L1477.0 447.9L1478.0 447.9L1479.0 448.1L1480.0 447.9L1481.0 447.6L1482.0 448.3L1483.0 448.8L1484.0 448.5L1485.0 448.8L1486.0 449.4L1487.0 448.9L1488.0 448.6L1489.0 448.9L1490.0 448.6L1491.0 448.0L1492.0 448.1L1493.0 448.3L1494.0 448.2L1495.0 448.3L1496.0 448.4L1497.0 447.8L1498.0 447.6L1499.0 448.3L1500.0 448.7L1501.0 448.4L1502.0 447.9L1503.0 448.3L1504.0 448.8L1505.0 448.5L1506.0 447.7L1507.0 447.6L1508.0 447.4L1509.0 446.9L1510.0 447.4L1511.0 448.0L1512.0 447.6L1513.0 447.5L1514.0 448.1L1515.0 448.5L1516.0 448.1L1517.0 447.5L1518.0 447.6L1519.0 447.9L1520.0 447.3L1521.0 447.3L1522.0 448.1L1523.0 448.1L1524.0 446.7L1525.0 445.7L1526.0 446.0L1527.0 446.6L1528.0 447.2L1529.0 447.6L1530.0 447.3L1531.0 447.0L1532.0 447.0L1533.0 446.9L1534.0 446.9L1535.0 447.5L1536.0 448.5L1537.0 448.0L1538.0 446.8L1539.0 446.4L1540.0 446.3L1541.0 446.1L1542.0 446.2L1543.0 446.8L1544.0 447.2L1545.0 446.8L1546.0 446.2L1547.0 445.9L1548.0 446.1L1549.0 446.6L1550.0 447.0L1551.0 447.2L1552.0 447.1L1553.0 447.2L1554.0 447.2L1555.0 446.4L1556.0 445.6L1557.0 445.9L1558.0 447.1L1559.0 447.5L1560.0 447.2L1561.0 446.9L1562.0 446.5L1563.0 446.2L1564.0 446.4L1565.0 446.9L1566.0 446.8L1567.0 446.4L1568.0 446.4L1569.0 446.7L1570.0 446.5L1571.0 446.5L1572.0 447.0L1573.0 446.9L1574.0 446.7L1575.0 447.2L1576.0 447.1L1577.0 446.6L1578.0 446.2L1579.0 445.7L1580.0 445.1L1581.0 445.3L1582.0 445.7L1583.0 445.7L1584.0 445.8L1585.0 445.6L1586.0 445.4L1587.0 445.8L1588.0 446.2L1589.0 446.7L1590.0 447.0L1591.0 446.7L1592.0 446.2L1593.0 446.0L1594.0 446.1L1595.0 445.9L1596.0 445.6L1597.0 445.6L1598.0 445.7L1599.0 445.9L1600.0 445.8L1601.0 445.4L1602.0 445.4L1603.0 445.4L1604.0 444.9L1605.0 445.3L1606.0 445.5L1607.0 444.5L1608.0 444.8L1609.0 445.3L1610.0 445.5L1611.0 445.7L1612.0 445.2L1613.0 445.9L1614.0 446.7L1615.0 446.1L1616.0 445.5" stroke="#404040"/>
<path d="M166.0 601.8L167.0 601.7L168.0 601.7L169.0 601.5L170.0 601.7L171.0 602.0L172.0 601.6L173.0 601.6L174.0 601.7L175.0 601.7L176.0 602.3L177.0 602.1L178.0 601.5L179.0 601.6L180.0 601.6L181.0 601.7L182.0 601.9L183.0 602.2L184.0 602.4L185.0 602.4L186.0 602.6L187.0 602.8L188.0 602.7L189.0 602.3L190.0 601.9L191.0 602.0L192.0 602.7L193.0 603.6L194.0 604.0L195.0 603.7L196.0 603.0L197.0 602.7L198.0 602.8L199.0 603.2L200.0 603.6L201.0 603.4L202.0 602.5L203.0 602.7L204.0 603.4L205.0 603.3L206.0 603.2L207.0 603.4L208.0 603.1L209.0 602.7L210.0 602.4L211.0 602.3L212.0 602.8L213.0 602.7L214.0 602.5L215.0 603.0L216.0 603.4L217.0 603.4L218.0 603.0L219.0 602.6L220.0 602.7L221.0 602.8L222.0 603.4L223.0 603.7L224.0 604.1L225.0 604.6L226.0 604.4L227.0 604.0L228.0 603.8L229.0 603.8L230.0 604.3L231.0 604.1L232.0 603.7L233.0 604.1L234.0 604.5L235.0 604.5L236.0 604.0L237.0 603.2L238.0 603.5L239.0 604.6L240.0 604.2L241.0 603.5L242.0 603.8L243.0 603.6L244.0 602.7L245.0 602.3L246.0 603.0L247.0 603.9L248.0 604.2L249.0 604.1L250.0 604.4L251.0 604.1L252.0 603.4L253.0 603.5L254.0 603.6L255.0 603.4L256.0 603.7L257.0 604.1L258.0 603.8L259.0 603.5L260.0 604.2L261.0 604.9L262.0 603.9L263.0 603.3L264.0 604.1L265.0 604.7L266.0 604.3L267.0 604.0L268.0 604.2L269.0 603.8L270.0 603.3L271.0 603.5L272.0 604.0L273.0 604.5L274.0 604.4L275.0 604.3L276.0 604.4L277.0 604.3L278.0 604.0L279.0 603.0L280.0 602.9L281.0 603.4L282.0 603.2L283.0 603.2L284.0 603.4L285.0 603.2L286.0 603.5L287.0 603.4L288.0 602.7L289.0 603.7L290.0 604.5L291.0 603.7L292.0 603.3L293.0 603.8L294.0 603.7L295.0 602.8L296.0 602.6L297.0 602.8L298.0 602.9L299.0 602.9L300.0 602.7L301.0 602.4L302.0 602.1L303.0 601.7L304.0 601.6L305.0 601.7L306.0 601.4L307.0 601.5L308.0 601.9L309.0 601.3L310.0 600.8L311.0 601.0L312.0 600.8L313.0 600.7L314.0 600.6L315.0 600.3L316.0 599.9L317.0 599.4L318.0 599.7L319.0 599.5L320.0 598.3L321.0 598.1L322.0 598.1L323.0 597.1L324.0 597.0L325.0 597.6L326.0 597.4L327.0 597.1L328.0 596.4L329.0 595.4L330.0 595.0L331.0 594.7L332.0 594.2L333.0 593.2L334.0 592.1L335.0 591.4L336.0 590.7L337.0 589.1L338.0 586.8L339.0 585.1L340.0 583.4L341.0 580.9L342.0 577.9L343.0 574.8L344.0 571.5L345.0 568.0L346.0 563.7L347.0 558.8L348.0 553.7L349.0 548.2L350.0 542.8L351.0 536.5L352.0 530.0L353.0 524.1L354.0 519.6L355.0 518.0L356.0 518.5L357.0 519.8L358.0 522.2L359.0 526.7L360.0 531.9L361.0 536.9L362.0 542.4L363.0 548.8L364.0 555.3L365.0 561.1L366.0 565.9L367.0 570.3L368.0 575.0L369.0 579.0L370.0 582.2L371.0 585.1L372.0 587.4L373.0 588.6L374.0 589.5L375.0 591.2L376.0 593.5L377.0 594.7L378.0 595.1L379.0 595.5L380.0 596.2L381.0 596.8L382.0 597.0L383.0 597.8L384.0 598.9L385.0 598.8L386.0 598.0L387.0 597.8L388.0 598.4L389.0 599.2L390.0 599.3L391.0 598.8L392.0 598.4L393.0 597.8L394.0 597.4L395.0 597.4L396.0 597.1L397.0 596.0L398.0 593.9L399.0 592.3L400.0 591.1L401.0 589.0L402.0 586.8L403.0 585.6L404.0 585.1L405.0 584.6L406.0 584.5L407.0 586.9L408.0 592.2L409.0 596.8L410.0 599.6L411.0 601.1L412.0 602.1L413.0 602.5L414.0 602.5L415.0 602.4L416.0 602.0L417.0 601.5L418.0 601.9L419.0 602.8L420.0 603.3L421.0 603.5L422.0 603.2L423.0 603.4L424.0 603.8L425.0 603.4L426.0 602.7L427.0 602.6L428.0 602.6L429.0 602.6L430.0 603.1L431.0 603.4L432.0 603.4L433.0 603.6L434.0 603.2L435.0 602.8L436.0 602.7L437.0 602.7L438.0 603.0L439.0 603.5L440.0 603.9L441.0 603.8L442.0 603.3L443.0 602.7L444.0 602.3L445.0 602.5L446.0 602.8L447.0 603.2L448.0 603.6L449.0 603.9L450.0 603.9L451.0 603.6L452.0 603.3L453.0 603.2L454.0 603.5L455.0 603.3L456.0 602.9L457.0 603.5L458.0 604.1L459.0 603.3L460.0 602.4L461.0 602.0L462.0 602.1L463.0 602.7L464.0 602.8L465.0 602.8L466.0 603.6L467.0 603.2L468.0 601.9L469.0 601.5L470.0 601.2L471.0 600.3L472.0 599.4L473.0 598.5L474.0 597.8L475.0 596.4L476.0 595.0L477.0 593.9L478.0 592.7L479.0 591.5L480.0 591.2L481.0 591.6L482.0 591.8L483.0 592.0L484.0 592.8L485.0 594.0L486.0 595.4L487.0 597.0L488.0 598.0L489.0 598.4L490.0 599.7L491.0 601.0L492.0 601.2L493.0 601.5L494.0 602.1L495.0 601.8L496.0 601.3L497.0 601.7L498.0 602.5L499.0 603.3L500.0 603.5L501.0 602.8L502.0 602.1L503.0 602.1L504.0 602.3L505.0 602.2L506.0 602.1L507.0 602.7L508.0 603.2L509.0 603.2L510.0 603.0L511.0 602.4L512.0 602.0L513.0 602.7L514.0 603.6L515.0 603.7L516.0 603.4L517.0 603.4L518.0 603.5L519.0 603.8L520.0 603.5L521.0 603.2L522.0 603.2L523.0 602.7L524.0 602.2L525.0 602.3L526.0 602.9L527.0 603.1L528.0 603.0L529.0 603.2L530.0 603.6L531.0 603.1L532.0 603.0L533.0 603.8L534.0 604.1L535.0 603.2L536.0 602.3L537.0 602.6L538.0 603.2L539.0 603.6L540.0 603.5L541.0 603.0L542.0 602.9L543.0 603.2L544.0 603.5L545.0 603.6L546.0 603.4L547.0 602.7L548.0 602.0L549.0 602.1L550.0 602.3L551.0 602.7L552.0 603.7L553.0 604.0L554.0 603.2L555.0 602.6L556.0 602.6L557.0 603.0L558.0 603.6L559.0 603.6L560.0 603.2L561.0 602.5L562.0 601.9L563.0 602.0L564.0 602.4L565.0 602.9L566.0 603.0L567.0 602.6L568.0 603.0L569.0 603.4L570.0 602.7L571.0 602.3L572.0 602.5L573.0 602.5L574.0 602.8L575.0 603.5L576.0 603.5L577.0 602.6L578.0 602.6L579.0 603.0L580.0 602.9L581.0 602.8L582.0 603.0L583.0 603.3L584.0 603.0L585.0 602.9L586.0 603.0L587.0 603.0L588.0 603.2L589.0 603.5L590.0 603.3L591.0 603.1L592.0 602.9L593.0 602.4L594.0 602.3L595.0 602.5L596.0 602.8L597.0 602.6L598.0 602.6L599.0 603.1L600.0 603.1L601.0 602.9L602.0 603.6L603.0 603.6L604.0 603.4L605.0 603.7L606.0 603.4L607.0 603.5L608.0 603.9L609.0 603.2L610.0 603.2L611.0 603.4L612.0 603.0L613.0 603.1L614.0 604.0L615.0 604.3L616.0 603.5L617.0 603.3L618.0 603.7L619.0 603.3L620.0 602.9L621.0 603.3L622.0 603.6L623.0 603.9L624.0 604.3L625.0 604.2L626.0 603.9L627.0 603.4L628.0 603.0L629.0 603.2L630.0 603.5L631.0 603.4L632.0 603.3L633.0 603.5L634.0 604.5L635.0 604.8L636.0 603.9L637.0 603.6L638.0 603.8L639.0 604.2L640.0 604.1L641.0 603.7L642.0 603.5L643.0 603.4L644.0 603.4L645.0 603.5L646.0 603.6L647.0 603.8L648.0 604.1L649.0 604.2L650.0 604.1L651.0 603.9L652.0 603.7L653.0 603.7L654.0 603.8L655.0 603.8L656.0 604.0L657.0 603.7L658.0 603.1L659.0 603.1L660.0 603.5L661.0 603.6L662.0 603.0L663.0 602.5L664.0 603.2L665.0 603.9L666.0 603.7L667.0 603.5L668.0 603.3L669.0 602.9L670.0 603.5L671.0 604.1L672.0 604.2L673.0 604.3L674.0 604.0L675.0 603.9L676.0 604.0L677.0 604.6L678.0 605.1L679.0 604.8L680.0 604.2L681.0 603.8L682.0 604.1L683.0 604.6L684.0 604.0L685.0 603.8L686.0 604.2L687.0 604.8L688.0 604.9L689.0 604.1L690.0 604.5L691.0 605.0L692.0 604.4L693.0 604.5L694.0 605.5L695.0 605.7L696.0 604.8L697.0 604.6L698.0 605.8L699.0 606.2L700.0 605.2L701.0 604.8L702.0 605.7L703.0 606.2L704.0 606.2L705.0 606.0L706.0 605.6L707.0 606.0L708.0 606.9L709.0 606.6L710.0 605.4L711.0 605.8L712.0 606.9L713.0 606.4L714.0 605.8L715.0 606.2L716.0 606.6L717.0 606.5L718.0 606.5L719.0 606.5L720.0 606.7L721.0 606.9L722.0 606.7L723.0 606.8L724.0 607.4L725.0 607.9L726.0 607.8L727.0 607.6L728.0 607.8L729.0 608.1L730.0 608.3L731.0 608.6L732.0 609.0L733.0 608.8L734.0 608.1L735.0 607.9L736.0 608.4L737.0 608.5L738.0 607.8L739.0 607.1L740.0 607.1L741.0 608.2L742.0 608.9L743.0 608.6L744.0 608.2L745.0 608.4L746.0 608.5L747.0 608.6L748.0 608.5L749.0 608.0L750.0 607.5L751.0 607.2L752.0 607.1L753.0 607.5L754.0 608.2L755.0 608.7L756.0 608.8L757.0 608.4L758.0 608.0L759.0 608.0L760.0 608.0L761.0 608.0L762.0 607.7L763.0 607.1L764.0 607.0L765.0 606.9L766.0 606.7L767.0 607.1L768.0 606.9L769.0 605.7L770.0 604.4L771.0 603.6L772.0 603.6L773.0 603.1L774.0 602.3L775.0 602.6L776.0 602.5L777.0 601.7L778.0 601.0L779.0 601.0L780.0 600.9L781.0 600.4L782.0 601.0L783.0 601.9L784.0 601.9L785.0 601.8L786.0 601.7L787.0 601.7L788.0 602.5L789.0 603.0L790.0 603.1L791.0 603.9L792.0 604.9L793.0 604.6L794.0 603.7L795.0 603.3L796.0 603.7L797.0 604.6L798.0 604.7L799.0 603.9L800.0 602.6L801.0 601.7L802.0 601.4L803.0 600.4L804.0 599.0L805.0 597.9L806.0 596.7L807.0 594.7L808.0 592.1L809.0 590.1L810.0 589.2L811.0 588.5L812.0 587.5L813.0 586.9L814.0 587.3L815.0 588.4L816.0 589.5L817.0 590.6L818.0 591.8L819.0 593.5L820.0 595.2L821.0 596.3L822.0 597.4L823.0 599.2L824.0 600.8L825.0 601.8L826.0 602.3L827.0 602.2L828.0 601.7L829.0 601.5L830.0 602.0L831.0 602.8L832.0 602.6L833.0 602.3L834.0 602.0L835.0 601.4L836.0 601.0L837.0 601.1L838.0 601.4L839.0 601.5L840.0 601.5L841.0 601.5L842.0 601.4L843.0 601.8L844.0 602.5L845.0 603.1L846.0 603.1L847.0 604.4L848.0 605.9L849.0 605.6L850.0 605.4L851.0 606.5L852.0 607.5L853.0 607.7L854.0 608.0L855.0 608.2L856.0 609.0L857.0 610.1L858.0 609.6L859.0 608.8L860.0 609.1L861.0 609.7L862.0 610.1L863.0 610.3L864.0 609.8L865.0 609.5L866.0 610.0L867.0 610.1L868.0 609.8L869.0 609.5L870.0 609.7L871.0 610.0L872.0 610.1L873.0 610.0L874.0 610.4L875.0 610.6L876.0 610.2L877.0 610.1L878.0 610.6L879.0 610.6L880.0 610.0L881.0 610.0L882.0 610.2L883.0 610.8L884.0 611.4L885.0 611.2L886.0 611.0L887.0 611.5L888.0 612.3L889.0 612.6L890.0 611.9L891.0 611.0L892.0 611.1L893.0 611.8L894.0 611.8L895.0 611.7L896.0 611.6L897.0 611.5L898.0 611.9L899.0 612.2L900.0 612.0L901.0 611.9L902.0 612.0L903.0 612.1L904.0 612.7L905.0 613.1L906.0 613.0L907.0 612.8L908.0 612.1L909.0 611.5L910.0 612.1L911.0 612.5L912.0 612.4L913.0 612.1L914.0 611.7L915.0 612.2L916.0 613.1L917.0 613.3L918.0 612.6L919.0 612.5L920.0 613.0L921.0 613.2L922.0 613.6L923.0 613.2L924.0 612.8L925.0 613.6L926.0 613.7L927.0 613.2L928.0 613.4L929.0 613.7L930.0 613.7L931.0 613.0L932.0 612.6L933.0 613.4L934.0 614.3L935.0 614.9L936.0 614.8L937.0 614.1L938.0 613.4L939.0 613.2L940.0 613.1L941.0 613.1L942.0 612.8L943.0 612.5L944.0 613.2L945.0 614.4L946.0 615.1L947.0 614.7L948.0 614.0L949.0 613.8L950.0 613.4L951.0 613.0L952.0 613.4L953.0 614.4L954.0 614.4L955.0 613.7L956.0 614.1L957.0 614.7L958.0 614.8L959.0 614.4L960.0 613.9L961.0 613.9L962.0 614.5L963.0 614.7L964.0 614.1L965.0 614.1L966.0 614.6L967.0 614.7L968.0 615.0L969.0 615.2L970.0 615.5L971.0 615.9L972.0 615.6L973.0 615.1L974.0 614.4L975.0 614.5L976.0 615.3L977.0 616.0L978.0 616.4L979.0 616.3L980.0 615.6L981.0 615.2L982.0 615.3L983.0 615.0L984.0 614.5L985.0 614.4L986.0 614.6L987.0 614.4L988.0 614.1L989.0 614.1L990.0 614.1L991.0 614.0L992.0 613.7L993.0 613.1L994.0 613.3L995.0 613.6L996.0 613.1L997.0 612.7L998.0 612.0L999.0 611.4L1000.0 612.0L1001.0 612.1L1002.0 611.6L1003.0 611.5L1004.0 611.0L1005.0 610.6L1006.0 610.7L1007.0 611.1L1008.0 611.3L1009.0 610.6L1010.0 610.7L1011.0 610.6L1012.0 609.2L1013.0 609.1L1014.0 609.9L1015.0 610.1L1016.0 610.4L1017.0 610.6L1018.0 609.9L1019.0 608.9L1020.0 608.7L1021.0 609.4L1022.0 609.8L1023.0 610.2L1024.0 610.1L1025.0 610.1L1026.0 611.1L1027.0 611.5L1028.0 610.8L1029.0 610.1L1030.0 610.0L1031.0 610.2L1032.0 610.2L1033.0 610.3L1034.0 610.9L1035.0 611.2L1036.0 611.1L1037.0 611.3L1038.0 611.7L1039.0 611.0L1040.0 610.0L1041.0 610.5L1042.0 611.5L1043.0 611.9L1044.0 611.6L1045.0 611.4L1046.0 611.6L1047.0 611.9L1048.0 611.7L1049.0 611.4L1050.0 611.7L1051.0 612.1L1052.0 611.7L1053.0 611.5L1054.0 612.1L1055.0 612.3L1056.0 612.6L1057.0 613.1L1058.0 613.5L1059.0 613.3L1060.0 612.7L1061.0 612.3L1062.0 612.7L1063.0 613.5L1064.0 613.9L1065.0 613.8L1066.0 612.9L1067.0 612.6L1068.0 613.6L1069.0 613.8L1070.0 613.6L1071.0 613.7L1072.0 614.0L1073.0 613.7L1074.0 613.4L1075.0 613.8L1076.0 613.8L1077.0 614.0L1078.0 614.9L1079.0 614.8L1080.0 613.8L1081.0 613.4L1082.0 614.1L1083.0 614.6L1084.0 614.2L1085.0 613.7L1086.0 613.6L1087.0 613.9L1088.0 614.7L1089.0 615.4L1090.0 615.3L1091.0 614.8L1092.0 615.0L1093.0 615.2L1094.0 614.9L1095.0 615.4L1096.0 616.1L1097.0 616.0L1098.0 615.6L1099.0 615.3L1100.0 614.9L1101.0 614.6L1102.0 615.3L1103.0 616.5L1104.0 617.0L1105.0 616.7L1106.0 616.1L1107.0 615.6L1108.0 615.3L1109.0 615.5L1110.0 615.6L1111.0 615.6L1112.0 615.6L1113.0 614.9L1114.0 614.3L1115.0 614.3L1116.0 614.2L1117.0 614.7L1118.0 615.6L1119.0 615.6L1120.0 615.7L1121.0 616.2L1122.0 616.0L1123.0 615.6L1124.0 615.8L1125.0 615.7L1126.0 615.3L1127.0 614.9L1128.0 614.3L1129.0 614.2L1130.0 614.7L1131.0 614.9L1132.0 614.5L1133.0 614.6L1134.0 615.1L1135.0 615.2L1136.0 614.9L1137.0 614.4L1138.0 613.6L1139.0 613.1L1140.0 613.0L1141.0 612.5L1142.0 612.4L1143.0 612.6L1144.0 611.7L1145.0 610.8L1146.0 611.2L1147.0 611.2L1148.0 610.5L1149.0 609.7L1150.0 608.7L1151.0 607.7L1152.0 607.2L1153.0 607.4L1154.0 607.2L1155.0 606.5L1156.0 606.1L1157.0 605.3L1158.0 605.0L1159.0 605.4L1160.0 605.2L1161.0 604.4L1162.0 603.8L1163.0 603.8L1164.0 604.3L1165.0 604.8L1166.0 604.1L1167.0 603.0L1168.0 602.1L1169.0 601.2L1170.0 600.6L1171.0 600.0L1172.0 598.8L1173.0 596.9L1174.0 594.7L1175.0 592.7L1176.0 590.5L1177.0 587.0L1178.0 583.7L1179.0 581.1L1180.0 578.0L1181.0 575.4L1182.0 573.3L1183.0 571.3L1184.0 570.3L1185.0 570.3L1186.0 571.7L1187.0 573.4L1188.0 575.1L1189.0 577.6L1190.0 580.8L1191.0 584.7L1192.0 588.0L1193.0 590.7L1194.0 593.6L1195.0 595.9L1196.0 597.8L1197.0 600.5L1198.0 603.5L1199.0 605.2L1200.0 606.0L1201.0 607.3L1202.0 608.2L1203.0 608.5L1204.0 610.0L1205.0 611.6L1206.0 611.6L1207.0 611.8L1208.0 612.3L1209.0 612.3L1210.0 612.9L1211.0 613.6L1212.0 613.7L1213.0 613.7L1214.0 613.8L1215.0 614.0L1216.0 614.5L1217.0 615.1L1218.0 615.0L1219.0 614.0L1220.0 613.7L1221.0 614.7L1222.0 615.2L1223.0 614.3L1224.0 613.7L1225.0 614.4L1226.0 615.1L1227.0 614.9L1228.0 615.0L1229.0 615.7L1230.0 616.1L1231.0 615.8L1232.0 615.4L1233.0 615.7L1234.0 616.5L1235.0 616.6L1236.0 615.7L1237.0 615.0L1238.0 615.3L1239.0 615.8L1240.0 616.0L1241.0 616.3L1242.0 616.4L1243.0 616.4L1244.0 616.5L1245.0 616.3L1246.0 615.8L1247.0 616.3L1248.0 616.9L1249.0 616.1L1250.0 616.0L1251.0 616.6L1252.0 616.3L1253.0 615.6L1254.0 615.7L1255.0 616.5L1256.0 617.2L1257.0 617.2L1258.0 617.0L1259.0 616.7L1260.0 616.2L1261.0 616.1L1262.0 616.2L1263.0 616.6L1264.0 617.1L1265.0 616.9L1266.0 616.6L1267.0 616.8L1268.0 616.4L1269.0 615.9L1270.0 615.9L1271.0 615.9L1272.0 616.3L1273.0 616.7L1274.0 616.7L1275.0 616.7L1276.0 616.6L1277.0 616.2L1278.0 616.0L1279.0 616.2L1280.0 616.2L1281.0 616.3L1282.0 616.6L1283.0 616.4L1284.0 615.6L1285.0 615.6L1286.0 616.3L1287.0 616.9L1288.0 617.2L1289.0 617.5L1290.0 617.6L1291.0 617.3L1292.0 616.6L1293.0 616.1L1294.0 616.0L1295.0 616.4L1296.0 616.8L1297.0 616.9L1298.0 616.8L1299.0 616.8L1300.0 617.0L1301.0 617.0L1302.0 617.0L1303.0 616.8L1304.0 616.3L1305.0 616.2L1306.0 616.8L1307.0 616.9L1308.0 616.6L1309.0 616.9L1310.0 617.4L1311.0 616.7L1312.0 616.4L1313.0 616.4L1314.0 616.1L1315.0 616.7L1316.0 617.5L1317.0 617.4L1318.0 617.1L1319.0 616.8L1320.0 616.8L1321.0 616.8L1322.0 616.4L1323.0 616.1L1324.0 616.4L1325.0 616.7L1326.0 616.7L1327.0 616.1L1328.0 615.6L1329.0 616.7L1330.0 617.7L1331.0 617.1L1332.0 615.9L1333.0 615.5L1334.0 615.6L1335.0 615.6L1336.0 615.8L1337.0 615.9L1338.0 616.4L1339.0 616.1L1340.0 615.1L1341.0 615.1L1342.0 615.0L1343.0 614.6L1344.0 614.8L1345.0 615.4L1346.0 615.5L1347.0 615.1L1348.0 615.9L1349.0 616.5L1350.0 616.1L1351.0 615.5L1352.0 615.0L1353.0 614.6L1354.0 615.1L1355.0 615.4L1356.0 615.9L1357.0 616.3L1358.0 615.8L1359.0 615.4L1360.0 615.1L1361.0 614.1L1362.0 613.6L1363.0 613.9L1364.0 614.1L1365.0 614.4L1366.0 614.6L1367.0 615.2L1368.0 615.3L1369.0 614.5L1370.0 613.9L1371.0 614.0L1372.0 613.8L1373.0 613.2L1374.0 613.3L1375.0 613.4L1376.0 613.4L1377.0 613.5L1378.0 612.9L1379.0 611.8L1380.0 611.1L1381.0 610.8L1382.0 610.3L1383.0 609.8L1384.0 609.5L1385.0 609.0L1386.0 608.0L1387.0 606.3L1388.0 605.2L1389.0 604.7L1390.0 603.7L1391.0 602.5L1392.0 601.1L1393.0 599.9L1394.0 598.7L1395.0 597.2L1396.0 595.5L1397.0 593.9L1398.0 593.1L1399.0 592.5L1400.0 592.0L1401.0 592.1L1402.0 592.8L1403.0 593.2L1404.0 593.1L1405.0 594.0L1406.0 595.6L1407.0 597.2L1408.0 598.4L1409.0 599.5L1410.0 600.8L1411.0 602.4L1412.0 603.5L1413.0 604.1L1414.0 604.6L1415.0 605.2L1416.0 606.5L1417.0 607.4L1418.0 607.7L1419.0 607.7L1420.0 606.9L1421.0 606.5L1422.0 606.9L1423.0 607.3L1424.0 607.4L1425.0 607.1L1426.0 606.7L1427.0 606.1L1428.0 604.8L1429.0 603.3L1430.0 603.0L1431.0 602.5L1432.0 600.6L1433.0 599.9L1434.0 599.8L1435.0 598.3L1436.0 596.7L1437.0 596.1L1438.0 596.0L1439.0 595.3L1440.0 594.6L1441.0 594.7L1442.0 595.3L1443.0 596.2L1444.0 596.8L1445.0 596.8L1446.0 597.4L1447.0 599.4L1448.0 601.4L1449.0 602.3L1450.0 603.5L1451.0 604.7L1452.0 605.2L1453.0 606.0L1454.0 606.8L1455.0 607.6L1456.0 608.9L1457.0 609.7L1458.0 609.6L1459.0 609.5L1460.0 610.1L1461.0 611.0L1462.0 611.6L1463.0 611.7L1464.0 611.7L1465.0 612.2L1466.0 612.9L1467.0 613.0L1468.0 613.2L1469.0 613.3L1470.0 612.7L1471.0 612.6L1472.0 613.4L1473.0 613.8L1474.0 613.4L1475.0 612.4L1476.0 611.8L1477.0 612.0L1478.0 612.9L1479.0 614.0L1480.0 614.1L1481.0 613.8L1482.0 613.9L1483.0 614.0L1484.0 613.8L1485.0 613.9L1486.0 613.4L1487.0 612.7L1488.0 613.4L1489.0 614.3L1490.0 613.9L1491.0 613.6L1492.0 613.5L1493.0 613.8L1494.0 614.2L1495.0 613.8L1496.0 612.7L1497.0 612.2L1498.0 612.6L1499.0 612.6L1500.0 612.9L1501.0 614.1L1502.0 614.1L1503.0 613.5L1504.0 614.1L1505.0 614.3L1506.0 614.0L1507.0 613.9L1508.0 613.3L1509.0 612.9L1510.0 613.0L1511.0 613.6L1512.0 614.1L1513.0 613.6L1514.0 613.2L1515.0 613.6L1516.0 614.1L1517.0 614.4L1518.0 614.5L1519.0 613.9L1520.0 613.5L1521.0 613.8L1522.0 614.1L1523.0 614.0L1524.0 614.7L1525.0 615.1L1526.0 614.5L1527.0 614.5L1528.0 614.7L1529.0 614.1L1530.0 613.4L1531.0 613.5L1532.0 614.0L1533.0 614.2L1534.0 613.8L1535.0 613.9L1536.0 614.2L1537.0 613.6L1538.0 612.6L1539.0 612.5L1540.0 612.8L1541.0 612.6L1542.0 612.0L1543.0 611.5L1544.0 611.0L1545.0 610.8L1546.0 611.1L1547.0 611.5L1548.0 611.7L1549.0 611.5L1550.0 611.6L1551.0 611.7L1552.0 612.2L1553.0 613.0L1554.0 613.3L1555.0 613.4L1556.0 613.4L1557.0 613.4L1558.0 613.3L1559.0 613.7L1560.0 614.3L1561.0 614.9L1562.0 615.0L1563.0 615.1L1564.0 615.4L1565.0 615.5L1566.0 615.6L1567.0 615.7L1568.0 615.4L1569.0 615.3L1570.0 615.4L1571.0 615.4L1572.0 615.8L1573.0 616.3L1574.0 616.1L1575.0 615.3L1576.0 614.9L1577.0 615.3L1578.0 615.8L1579.0 616.1L1580.0 615.7L1581.0 615.7L1582.0 615.9L1583.0 615.7L1584.0 616.0L1585.0 616.9L1586.0 617.1L1587.0 616.6L1588.0 616.0L1589.0 615.7L1590.0 616.0L1591.0 616.2L1592.0 616.0L1593.0 615.8L1594.0 615.9L1595.0 616.1L1596.0 616.5L1597.0 616.9L1598.0 616.3L1599.0 615.3L1600.0 615.0L1601.0 615.1L1602.0 615.6L1603.0 616.4L1604.0 616.4L1605.0 616.2L1606.0 616.1L1607.0 615.7L1608.0 615.2L1609.0 615.2L1610.0 616.0L1611.0 616.5L1612.0 616.4L1613.0 617.0L1614.0 617.3L1615.0 616.6L1616.0 616.4" stroke="#cc00c8"/>
<path d="M166.0 755.2L167.0 755.5L168.0 755.8L169.0 755.9L170.0 756.3L171.0 756.4L172.0 756.1L173.0 755.8L174.0 755.8L175.0 755.6L176.0 755.4L177.0 755.7L178.0 755.8L179.0 756.0L180.0 756.4L181.0 755.7L182.0 755.4L183.0 755.5L184.0 755.0L185.0 754.9L186.0 755.0L187.0 755.3L188.0 755.9L189.0 756.5L190.0 757.0L191.0 757.1L192.0 757.1L193.0 756.8L194.0 756.5L195.0 756.7L196.0 756.3L197.0 756.4L198.0 757.2L199.0 757.3L200.0 757.0L201.0 757.2L202.0 756.9L203.0 756.3L204.0 756.1L205.0 756.2L206.0 756.4L207.0 756.9L208.0 757.5L209.0 757.3L210.0 756.7L211.0 756.5L212.0 756.5L213.0 756.9L214.0 757.4L215.0 756.9L216.0 756.3L217.0 756.7L218.0 757.5L219.0 757.8L220.0 757.6L221.0 757.1L222.0 757.2L223.0 757.3L224.0 757.5L225.0 757.9L226.0 757.8L227.0 757.5L228.0 757.3L229.0 756.8L230.0 756.9L231.0 757.6L232.0 757.5L233.0 756.8L234.0 757.0L235.0 758.0L236.0 758.8L237.0 758.9L238.0 758.1L239.0 757.3L240.0 757.6L241.0 758.3L242.0 758.4L243.0 758.3L244.0 758.5L245.0 759.2L246.0 759.2L247.0 758.3L248.0 758.2L249.0 758.8L250.0 758.8L251.0 759.2L252.0 759.3L253.0 758.5L254.0 758.2L255.0 758.5L256.0 758.7L257.0 759.2L258.0 759.6L259.0 759.2L260.0 759.0L261.0 759.0L262.0 758.7L263.0 758.9L264.0 759.4L265.0 758.7L266.0 758.3L267.0 758.4L268.0 757.8L269.0 757.8L270.0 758.6L271.0 758.6L272.0 758.3L273.0 758.3L274.0 758.0L275.0 758.1L276.0 759.2L277.0 760.1L278.0 759.8L279.0 758.9L280.0 758.2L281.0 758.1L282.0 758.3L283.0 758.6L284.0 758.6L285.0 758.4L286.0 758.2L287.0 757.7L288.0 757.5L289.0 757.7L290.0 757.2L291.0 756.9L292.0 757.2L293.0 757.3L294.0 757.6L295.0 757.9L296.0 757.6L297.0 757.2L298.0 757.1L299.0 756.7L300.0 756.0L301.0 755.9L302.0 755.6L303.0 755.2L304.0 755.5L305.0 755.6L306.0 755.9L307.0 755.4L308.0 754.2L309.0 754.7L310.0 755.7L311.0 755.6L312.0 755.1L313.0 754.0L314.0 752.9L315.0 752.8L316.0 753.5L317.0 753.4L318.0 752.5L319.0 752.1L320.0 751.7L321.0 750.9L322.0 751.1L323.0 752.1L324.0 751.9L325.0 751.0L326.0 750.3L327.0 749.2L328.0 747.7L329.0 747.1L330.0 747.3L331.0 747.3L332.0 747.0L333.0 745.8L334.0 743.9L335.0 742.6L336.0 742.0L337.0 740.5L338.0 738.1L339.0 736.1L340.0 734.9L341.0 732.8L342.0 729.5L343.0 726.5L344.0 723.4L345.0 719.8L346.0 715.8L347.0 711.4L348.0 706.2L349.0 700.8L350.0 695.5L351.0 690.3L352.0 686.9L353.0 684.4L354.0 681.7L355.0 680.0L356.0 679.7L357.0 680.7L358.0 683.7L359.0 688.1L360.0 692.4L361.0 697.0L362.0 702.6L363.0 707.9L364.0 712.2L365.0 716.3L366.0 719.8L367.0 723.7L368.0 728.2L369.0 731.8L370.0 734.5L371.0 736.8L372.0 739.3L373.0 742.0L374.0 744.0L375.0 744.5L376.0 745.3L377.0 747.3L378.0 748.6L379.0 749.2L380.0 750.2L381.0 751.2L382.0 751.3L383.0 751.0L384.0 750.7L385.0 751.1L386.0 751.8L387.0 752.5L388.0 752.9L389.0 753.3L390.0 753.8L391.0 753.4L392.0 753.4L393.0 753.7L394.0 753.8L395.0 754.5L396.0 754.9L397.0 755.1L398.0 755.6L399.0 755.4L400.0 754.9L401.0 754.4L402.0 754.1L403.0 754.6L404.0 755.0L405.0 755.4L406.0 755.3L407.0 754.5L408.0 754.3L409.0 755.0L410.0 755.9L411.0 755.9L412.0 755.4L413.0 755.6L414.0 756.2L415.0 756.2L416.0 755.7L417.0 755.6L418.0 756.4L419.0 756.9L420.0 757.0L421.0 757.0L422.0 756.6L423.0 756.5L424.0 756.9L425.0 756.8L426.0 756.5L427.0 756.4L428.0 756.5L429.0 757.0L430.0 757.2L431.0 757.3L432.0 757.1L433.0 756.3L434.0 756.6L435.0 757.3L436.0 756.5L437.0 756.2L438.0 757.0L439.0 756.9L440.0 756.4L441.0 756.5L442.0 756.0L443.0 755.7L444.0 756.1L445.0 756.0L446.0 755.8L447.0 755.9L448.0 756.0L449.0 756.2L450.0 756.6L451.0 756.6L452.0 756.0L453.0 755.3L454.0 755.4L455.0 756.2L456.0 757.1L457.0 756.8L458.0 756.3L459.0 756.2L460.0 756.0L461.0 756.2L462.0 756.3L463.0 756.4L464.0 756.4L465.0 756.0L466.0 755.7L467.0 755.4L468.0 755.8L469.0 757.2L470.0 758.0L471.0 757.0L472.0 755.7L473.0 755.5L474.0 755.5L475.0 754.9L476.0 754.9L477.0 755.2L478.0 755.4L479.0 756.1L480.0 756.1L481.0 755.2L482.0 754.6L483.0 754.2L484.0 754.4L485.0 755.2L486.0 755.6L487.0 755.5L488.0 755.2L489.0 754.9L490.0 754.7L491.0 754.4L492.0 754.9L493.0 755.9L494.0 755.7L495.0 754.8L496.0 754.8L497.0 755.7L498.0 755.5L499.0 754.3L500.0 754.1L501.0 754.9L502.0 755.0L503.0 754.5L504.0 754.5L505.0 755.0L506.0 755.5L507.0 755.1L508.0 754.3L509.0 754.3L510.0 754.8L511.0 754.5L512.0 753.9L513.0 753.7L514.0 753.4L515.0 753.2L516.0 753.1L517.0 753.0L518.0 753.3L519.0 753.6L520.0 754.3L521.0 754.5L522.0 753.9L523.0 753.8L524.0 753.8L525.0 753.0L526.0 753.1L527.0 754.3L528.0 755.0L529.0 754.9L530.0 754.3L531.0 753.8L532.0 754.2L533.0 754.6L534.0 754.4L535.0 754.0L536.0 753.9L537.0 754.4L538.0 755.3L539.0 755.3L540.0 754.6L541.0 754.5L542.0 755.1L543.0 755.4L544.0 755.2L545.0 755.0L546.0 754.6L547.0 755.0L548.0 756.2L549.0 756.4L550.0 755.8L551.0 756.0L552.0 756.6L553.0 756.5L554.0 756.5L555.0 757.0L556.0 757.4L557.0 757.7L558.0 757.6L559.0 757.1L560.0 757.1L561.0 757.0L562.0 756.7L563.0 757.1L564.0 757.6L565.0 757.5L566.0 758.1L567.0 758.3L568.0 758.2L569.0 758.5L570.0 758.9L571.0 758.9L572.0 758.5L573.0 758.3L574.0 758.9L575.0 759.8L576.0 759.5L577.0 758.6L578.0 758.5L579.0 758.7L580.0 759.1L581.0 759.9L582.0 760.0L583.0 759.3L584.0 759.6L585.0 759.8L586.0 759.3L587.0 759.3L588.0 759.5L589.0 759.9L590.0 760.0L591.0 759.8L592.0 760.1L593.0 760.5L594.0 760.8L595.0 761.0L596.0 761.0L597.0 761.1L598.0 761.0L599.0 760.5L600.0 760.2L601.0 760.8L602.0 761.5L603.0 761.3L604.0 760.2L605.0 760.4L606.0 760.9L607.0 760.5L608.0 761.0L609.0 762.2L610.0 761.9L611.0 761.3L612.0 761.8L613.0 762.2L614.0 761.9L615.0 761.7L616.0 761.4L617.0 761.0L618.0 761.2L619.0 761.8L620.0 762.2L621.0 762.4L622.0 761.4L623.0 760.5L624.0 761.2L625.0 762.0L626.0 762.2L627.0 761.9L628.0 762.0L629.0 762.4L630.0 762.3L631.0 762.3L632.0 762.0L633.0 762.0L634.0 762.2L635.0 761.4L636.0 761.6L637.0 762.5L638.0 762.7L639.0 762.9L640.0 762.7L641.0 763.0L642.0 763.6L643.0 763.2L644.0 762.6L645.0 762.3L646.0 762.6L647.0 763.3L648.0 763.5L649.0 763.2L650.0 763.1L651.0 763.1L652.0 762.7L653.0 762.8L654.0 763.1L655.0 763.1L656.0 763.3L657.0 763.2L658.0 763.6L659.0 764.6L660.0 764.8L661.0 764.6L662.0 764.4L663.0 764.6L664.0 764.9L665.0 765.3L666.0 765.4L667.0 764.7L668.0 764.3L669.0 763.6L670.0 762.5L671.0 763.0L672.0 764.3L673.0 764.7L674.0 764.7L675.0 765.3L676.0 765.4L677.0 765.2L678.0 765.8L679.0 766.1L680.0 765.3L681.0 765.0L682.0 765.4L683.0 765.3L684.0 765.0L685.0 765.0L686.0 765.3L687.0 765.8L688.0 766.2L689.0 766.3L690.0 765.8L691.0 765.3L692.0 765.5L693.0 765.9L694.0 766.3L695.0 766.9L696.0 766.2L697.0 765.8L698.0 766.4L699.0 766.5L700.0 766.1L701.0 766.0L702.0 766.4L703.0 766.8L704.0 766.7L705.0 766.4L706.0 766.6L707.0 767.0L708.0 766.2L709.0 765.0L710.0 765.2L711.0 766.0L712.0 766.4L713.0 766.9L714.0 767.3L715.0 767.2L716.0 766.9L717.0 767.2L718.0 767.6L719.0 767.2L720.0 767.4L721.0 767.9L722.0 767.2L723.0 766.4L724.0 766.8L725.0 767.1L726.0 767.4L727.0 767.9L728.0 767.8L729.0 767.6L730.0 767.9L731.0 767.9L732.0 767.8L733.0 767.8L734.0 767.8L735.0 767.5L736.0 767.4L737.0 767.5L738.0 767.1L739.0 767.3L740.0 768.1L741.0 768.1L742.0 767.8L743.0 767.9L744.0 768.0L745.0 768.0L746.0 767.9L747.0 767.9L748.0 768.1L749.0 768.2L750.0 767.9L751.0 767.1L752.0 767.3L753.0 768.1L754.0 767.9L755.0 767.7L756.0 767.6L757.0 767.4L758.0 767.0L759.0 766.5L760.0 766.7L761.0 767.1L762.0 767.6L763.0 767.4L764.0 767.1L765.0 767.1L766.0 766.2L767.0 764.7L768.0 764.9L769.0 765.9L770.0 765.6L771.0 764.7L772.0 764.1L773.0 764.2L774.0 764.6L775.0 764.6L776.0 764.4L777.0 763.1L778.0 762.2L779.0 762.6L780.0 762.7L781.0 762.7L782.0 763.1L783.0 763.0L784.0 763.0L785.0 762.7L786.0 762.5L787.0 762.7L788.0 763.1L789.0 763.7L790.0 763.9L791.0 763.6L792.0 763.7L793.0 763.6L794.0 763.4L795.0 763.3L796.0 763.1L797.0 762.5L798.0 761.8L799.0 761.5L800.0 761.1L801.0 760.0L802.0 759.1L803.0 758.6L804.0 757.9L805.0 756.8L806.0 756.3L807.0 755.8L808.0 754.2L809.0 752.6L810.0 752.4L811.0 752.4L812.0 752.0L813.0 752.2L814.0 752.4L815.0 752.5L816.0 752.7L817.0 753.3L818.0 754.4L819.0 755.6L820.0 756.9L821.0 757.7L822.0 758.4L823.0 759.3L824.0 759.9L825.0 760.0L826.0 760.5L827.0 761.4L828.0 762.0L829.0 762.5L830.0 762.7L831.0 762.9L832.0 763.6L833.0 763.4L834.0 762.9L835.0 763.0L836.0 763.5L837.0 764.1L838.0 763.9L839.0 763.6L840.0 763.9L841.0 764.1L842.0 764.7L843.0 765.4L844.0 765.6L845.0 766.0L846.0 766.2L847.0 766.3L848.0 767.2L849.0 767.8L850.0 767.6L851.0 767.6L852.0 768.2L853.0 768.6L854.0 769.0L855.0 770.0L856.0 770.0L857.0 769.6L858.0 770.0L859.0 770.8L860.0 771.1L861.0 771.3L862.0 771.7L863.0 771.5L864.0 770.6L865.0 770.4L866.0 770.7L867.0 771.5L868.0 772.3L869.0 771.9L870.0 771.2L871.0 771.6L872.0 772.1L873.0 771.8L874.0 771.8L875.0 771.7L876.0 771.5L877.0 772.1L878.0 772.6L879.0 772.4L880.0 771.8L881.0 771.6L882.0 772.0L883.0 772.4L884.0 772.6L885.0 773.0L886.0 773.7L887.0 773.5L888.0 772.5L889.0 772.7L890.0 773.3L891.0 773.4L892.0 773.8L893.0 773.8L894.0 773.0L895.0 772.7L896.0 772.8L897.0 772.5L898.0 772.4L899.0 772.9L900.0 773.4L901.0 773.2L902.0 772.9L903.0 772.7L904.0 772.9L905.0 773.2L906.0 772.5L907.0 772.7L908.0 773.3L909.0 773.1L910.0 773.8L911.0 774.1L912.0 773.6L913.0 773.3L914.0 773.3L915.0 773.7L916.0 774.0L917.0 774.2L918.0 774.6L919.0 774.7L920.0 774.7L921.0 774.2L922.0 773.6L923.0 774.0L924.0 774.0L925.0 773.8L926.0 774.4L927.0 774.5L928.0 774.1L929.0 773.9L930.0 774.1L931.0 774.3L932.0 774.2L933.0 773.8L934.0 773.7L935.0 774.3L936.0 773.7L937.0 773.0L938.0 773.4L939.0 774.1L940.0 774.4L941.0 774.4L942.0 774.3L943.0 774.8L944.0 775.6L945.0 775.9L946.0 775.5L947.0 774.9L948.0 774.7L949.0 774.7L950.0 775.1L951.0 775.0L952.0 774.1L953.0 773.8L954.0 773.9L955.0 773.9L956.0 774.2L957.0 774.2L958.0 774.3L959.0 775.0L960.0 775.2L961.0 774.6L962.0 774.7L963.0 775.1L964.0 775.1L965.0 775.2L966.0 775.8L967.0 776.1L968.0 775.9L969.0 776.0L970.0 776.7L971.0 776.7L972.0 775.7L973.0 775.7L974.0 775.9L975.0 775.6L976.0 775.6L977.0 775.6L978.0 775.3L979.0 775.0L980.0 774.7L981.0 774.6L982.0 775.1L983.0 776.5L984.0 777.0L985.0 776.4L986.0 776.0L987.0 776.1L988.0 776.3L989.0 776.1L990.0 775.4L991.0 774.8L992.0 774.6L993.0 774.2L994.0 773.5L995.0 773.6L996.0 774.2L997.0 774.1L998.0 773.7L999.0 774.3L1000.0 774.3L1001.0 773.2L1002.0 772.6L1003.0 772.8L1004.0 772.9L1005.0 772.2L1006.0 771.7L1007.0 771.5L1008.0 771.1L1009.0 771.7L1010.0 772.3L1011.0 772.2L1012.0 772.1L1013.0 772.0L1014.0 771.9L1015.0 771.4L1016.0 771.0L1017.0 771.0L1018.0 771.5L1019.0 772.3L1020.0 772.5L1021.0 771.8L1022.0 771.0L1023.0 770.9L1024.0 771.6L1025.0 772.2L1026.0 772.1L1027.0 771.5L1028.0 771.6L1029.0 772.1L1030.0 772.2L1031.0 772.0L1032.0 772.4L1033.0 772.8L1034.0 772.8L1035.0 773.2L1036.0 773.2L1037.0 772.8L1038.0 772.8L1039.0 772.4L1040.0 772.1L1041.0 772.1L1042.0 772.3L1043.0 772.8L1044.0 773.1L1045.0 773.3L1046.0 772.8L1047.0 771.9L1048.0 772.1L1049.0 772.5L1050.0 772.7L1051.0 773.0L1052.0 773.5L1053.0 773.7L1054.0 773.1L1055.0 773.3L1056.0 773.2L1057.0 773.0L1058.0 773.7L1059.0 773.9L1060.0 773.5L1061.0 774.3L1062.0 775.3L1063.0 774.3L1064.0 773.1L1065.0 773.4L1066.0 773.9L1067.0 774.1L1068.0 774.1L1069.0 774.2L1070.0 774.5L1071.0 774.3L1072.0 773.8L1073.0 774.0L1074.0 774.7L1075.0 775.3L1076.0 775.3L1077.0 775.0L1078.0 775.1L1079.0 775.8L1080.0 776.1L1081.0 775.6L1082.0 775.6L1083.0 775.7L1084.0 775.3L1085.0 775.5L1086.0 775.7L1087.0 775.7L1088.0 776.2L1089.0 776.7L1090.0 776.6L1091.0 776.2L1092.0 776.6L1093.0 777.0L1094.0 776.2L1095.0 776.3L1096.0 776.8L1097.0 776.7L1098.0 776.8L1099.0 776.8L1100.0 777.2L1101.0 777.2L1102.0 776.8L1103.0 776.6L1104.0 776.6L1105.0 776.5L1106.0 776.4L1107.0 776.4L1108.0 777.3L1109.0 778.1L1110.0 778.3L1111.0 777.6L1112.0 777.1L1113.0 777.2L1114.0 776.9L1115.0 777.2L1116.0 777.5L1117.0 777.1L1118.0 777.2L1119.0 777.3L1120.0 776.8L1121.0 776.7L1122.0 776.9L1123.0 777.1L1124.0 777.6L1125.0 777.5L1126.0 776.5L1127.0 776.4L1128.0 776.5L1129.0 776.1L1130.0 776.2L1131.0 776.7L1132.0 776.5L1133.0 776.0L1134.0 776.4L1135.0 776.8L1136.0 776.3L1137.0 776.6L1138.0 777.7L1139.0 777.4L1140.0 776.1L1141.0 775.9L1142.0 776.4L1143.0 776.2L1144.0 776.2L1145.0 776.5L1146.0 776.2L1147.0 775.0L1148.0 774.6L1149.0 775.6L1150.0 776.5L1151.0 776.0L1152.0 775.5L1153.0 776.0L1154.0 776.3L1155.0 775.8L1156.0 775.6L1157.0 775.9L1158.0 776.0L1159.0 775.6L1160.0 775.1L1161.0 774.6L1162.0 773.9L1163.0 773.5L1164.0 773.3L1165.0 772.8L1166.0 772.4L1167.0 772.1L1168.0 771.5L1169.0 770.0L1170.0 768.3L1171.0 767.1L1172.0 765.5L1173.0 763.3L1174.0 761.7L1175.0 760.3L1176.0 757.8L1177.0 754.3L1178.0 751.2L1179.0 748.6L1180.0 746.3L1181.0 743.7L1182.0 740.4L1183.0 738.1L1184.0 737.7L1185.0 738.0L1186.0 738.9L1187.0 741.0L1188.0 743.4L1189.0 745.1L1190.0 747.1L1191.0 749.9L1192.0 753.5L1193.0 756.8L1194.0 759.3L1195.0 761.8L1196.0 764.1L1197.0 766.2L1198.0 767.4L1199.0 768.1L1200.0 769.0L1201.0 769.8L1202.0 770.9L1203.0 772.7L1204.0 774.4L1205.0 775.1L1206.0 774.9L1207.0 774.6L1208.0 775.1L1209.0 776.0L1210.0 776.3L1211.0 776.2L1212.0 776.8L1213.0 776.7L1214.0 776.4L1215.0 777.0L1216.0 777.4L1217.0 777.1L1218.0 777.6L1219.0 778.7L1220.0 779.3L1221.0 778.8L1222.0 777.7L1223.0 777.7L1224.0 778.2L1225.0 777.8L1226.0 777.3L1227.0 777.9L1228.0 779.2L1229.0 779.6L1230.0 779.1L1231.0 778.8L1232.0 778.5L1233.0 778.7L1234.0 778.9L1235.0 779.0L1236.0 779.3L1237.0 778.9L1238.0 778.9L1239.0 779.5L1240.0 779.5L1241.0 779.4L1242.0 778.7L1243.0 778.3L1244.0 778.8L1245.0 779.2L1246.0 779.3L1247.0 778.6L1248.0 778.4L1249.0 779.4L1250.0 779.9L1251.0 779.5L1252.0 779.3L1253.0 779.5L1254.0 779.2L1255.0 779.1L1256.0 779.3L1257.0 779.7L1258.0 780.0L1259.0 779.9L1260.0 780.2L1261.0 780.0L1262.0 779.1L1263.0 779.0L1264.0 779.5L1265.0 779.8L1266.0 779.7L1267.0 779.5L1268.0 780.2L1269.0 780.6L1270.0 780.0L1271.0 779.6L1272.0 779.8L1273.0 780.2L1274.0 780.4L1275.0 780.6L1276.0 780.6L1277.0 780.7L1278.0 780.4L1279.0 779.5L1280.0 779.6L1281.0 780.1L1282.0 780.1L1283.0 780.2L1284.0 780.1L1285.0 780.1L1286.0 780.0L1287.0 780.2L1288.0 780.5L1289.0 780.4L1290.0 780.8L1291.0 781.4L1292.0 780.8L1293.0 780.3L1294.0 780.9L1295.0 781.3L1296.0 781.6L1297.0 781.3L1298.0 780.6L1299.0 780.9L1300.0 781.1L1301.0 780.6L1302.0 779.7L1303.0 778.8L1304.0 779.6L1305.0 780.4L1306.0 779.5L1307.0 779.4L1308.0 780.1L1309.0 780.6L1310.0 780.3L1311.0 779.4L1312.0 779.6L1313.0 779.8L1314.0 779.2L1315.0 779.7L1316.0 780.6L1317.0 780.6L1318.0 779.3L1319.0 778.2L1320.0 778.7L1321.0 779.3L1322.0 779.1L1323.0 779.7L1324.0 780.4L1325.0 779.3L1326.0 778.5L1327.0 778.7L1328.0 778.6L1329.0 778.5L1330.0 778.7L1331.0 779.0L1332.0 778.5L1333.0 778.0L1334.0 778.2L1335.0 778.4L1336.0 778.4L1337.0 778.8L1338.0 778.5L1339.0 777.9L1340.0 778.4L1341.0 779.3L1342.0 779.0L1343.0 778.3L1344.0 778.0L1345.0 777.3L1346.0 776.9L1347.0 777.5L1348.0 777.8L1349.0 777.7L1350.0 777.5L1351.0 777.3L1352.0 777.1L1353.0 777.4L1354.0 777.5L1355.0 777.3L1356.0 776.8L1357.0 776.0L1358.0 776.3L1359.0 777.5L1360.0 777.8L1361.0 777.0L1362.0 776.1L1363.0 775.8L1364.0 776.3L1365.0 776.3L1366.0 775.7L1367.0 776.0L1368.0 776.4L1369.0 775.9L1370.0 775.4L1371.0 775.3L1372.0 775.3L1373.0 775.7L1374.0 775.4L1375.0 774.9L1376.0 775.5L1377.0 775.4L1378.0 775.0L1379.0 774.9L1380.0 774.1L1381.0 773.8L1382.0 773.4L1383.0 772.3L1384.0 772.3L1385.0 772.0L1386.0 770.9L1387.0 770.1L1388.0 769.4L1389.0 768.3L1390.0 767.3L1391.0 766.5L1392.0 766.0L1393.0 765.5L1394.0 764.0L1395.0 762.7L1396.0 762.3L1397.0 761.9L1398.0 761.7L1399.0 761.2L1400.0 760.4L1401.0 760.2L1402.0 760.7L1403.0 761.5L1404.0 761.9L1405.0 761.6L1406.0 762.4L1407.0 764.5L1408.0 765.7L1409.0 766.0L1410.0 766.5L1411.0 766.9L1412.0 767.4L1413.0 768.3L1414.0 769.0L1415.0 769.2L1416.0 769.4L1417.0 770.2L1418.0 770.9L1419.0 770.9L1420.0 770.4L1421.0 769.9L1422.0 770.2L1423.0 770.1L1424.0 769.2L1425.0 768.7L1426.0 768.8L1427.0 768.4L1428.0 767.8L1429.0 767.1L1430.0 766.4L1431.0 765.1L1432.0 763.8L1433.0 763.3L1434.0 763.0L1435.0 762.4L1436.0 761.6L1437.0 761.2L1438.0 761.6L1439.0 761.9L1440.0 762.0L1441.0 762.3L1442.0 762.7L1443.0 763.4L1444.0 764.2L1445.0 764.9L1446.0 765.5L1447.0 766.9L1448.0 768.3L1449.0 768.6L1450.0 768.8L1451.0 769.5L1452.0 770.4L1453.0 771.0L1454.0 770.9L1455.0 771.2L1456.0 772.1L1457.0 772.6L1458.0 773.4L1459.0 774.3L1460.0 775.2L1461.0 775.6L1462.0 775.1L1463.0 774.4L1464.0 774.2L1465.0 774.6L1466.0 774.7L1467.0 774.5L1468.0 775.1L1469.0 775.7L1470.0 775.9L1471.0 775.8L1472.0 775.6L1473.0 775.5L1474.0 775.2L1475.0 775.1L1476.0 776.0L1477.0 776.9L1478.0 776.7L1479.0 776.2L1480.0 776.2L1481.0 776.5L1482.0 776.5L1483.0 776.6L1484.0 776.4L1485.0 776.3L1486.0 776.8L1487.0 776.8L1488.0 776.8L1489.0 776.9L1490.0 776.7L1491.0 776.6L1492.0 776.8L1493.0 776.7L1494.0 776.6L1495.0 776.2L1496.0 775.9L1497.0 776.2L1498.0 776.6L1499.0 777.2L1500.0 777.2L1501.0 776.6L1502.0 776.3L1503.0 775.9L1504.0 776.1L1505.0 776.2L1506.0 775.7L1507.0 775.9L1508.0 777.0L1509.0 777.4L1510.0 777.1L1511.0 777.5L1512.0 778.2L1513.0 777.7L1514.0 777.4L1515.0 778.2L1516.0 778.1L1517.0 777.8L1518.0 778.1L1519.0 778.1L1520.0 778.0L1521.0 777.7L1522.0 777.5L1523.0 778.0L1524.0 777.8L1525.0 777.2L1526.0 777.5L1527.0 778.0L1528.0 777.9L1529.0 778.0L1530.0 778.2L1531.0 777.8L1532.0 777.5L1533.0 778.2L1534.0 778.8L1535.0 779.0L1536.0 779.1L1537.0 778.8L1538.0 778.9L1539.0 779.0L1540.0 778.8L1541.0 779.3L1542.0 779.6L1543.0 779.4L1544.0 779.5L1545.0 778.9L1546.0 778.4L1547.0 778.8L1548.0 778.9L1549.0 778.7L1550.0 778.9L1551.0 779.2L1552.0 778.9L1553.0 778.4L1554.0 778.8L1555.0 778.8L1556.0 778.3L1557.0 778.2L1558.0 778.2L1559.0 778.4L1560.0 778.9L1561.0 779.7L1562.0 780.1L1563.0 780.0L1564.0 779.8L1565.0 779.9L1566.0 779.6L1567.0 779.2L1568.0 779.2L1569.0 779.2L1570.0 778.9L1571.0 778.6L1572.0 778.6L1573.0 778.5L1574.0 778.6L1575.0 779.0L1576.0 779.2L1577.0 779.2L1578.0 779.5L1579.0 779.4L1580.0 779.1L1581.0 778.7L1582.0 778.0L1583.0 777.5L1584.0 778.3L1585.0 779.2L1586.0 779.0L1587.0 779.5L1588.0 780.1L1589.0 779.9L1590.0 780.5L1591.0 780.9L1592.0 780.9L1593.0 780.9L1594.0 780.2L1595.0 779.5L1596.0 779.6L1597.0 779.2L1598.0 778.7L1599.0 779.3L1600.0 780.3L1601.0 780.0L1602.0 779.5L1603.0 779.5L1604.0 779.6L1605.0 779.6L1606.0 779.3L1607.0 778.9L1608.0 778.8L1609.0 779.3L1610.0 780.3L1611.0 781.2L1612.0 781.3L1613.0 781.1L1614.0 780.6L1615.0 779.8L1616.0 779.4" stroke="#cc00c8"/>
<path d="M166.0 940.0L167.0 939.5L168.0 940.3L169.0 941.3L170.0 941.3L171.0 941.0L172.0 940.3L173.0 939.7L174.0 940.0L175.0 940.6L176.0 941.5L177.0 941.6L178.0 940.6L179.0 940.3L180.0 940.4L181.0 940.2L182.0 940.0L183.0 940.5L184.0 940.9L185.0 940.7L186.0 940.2L187.0 940.0L188.0 940.1L189.0 940.5L190.0 940.4L191.0 940.3L192.0 940.4L193.0 940.2L194.0 939.8L195.0 940.1L196.0 941.2L197.0 941.4L198.0 941.5L199.0 941.8L200.0 941.4L201.0 941.1L202.0 941.3L203.0 941.5L204.0 941.4L205.0 941.1L206.0 940.9L207.0 941.2L208.0 941.0L209.0 940.2L210.0 940.3L211.0 940.7L212.0 940.3L213.0 940.2L214.0 940.7L215.0 940.7L216.0 940.6L217.0 940.3L218.0 940.0L219.0 940.0L220.0 939.9L221.0 940.1L222.0 940.7L223.0 941.0L224.0 941.0L225.0 941.5L226.0 942.1L227.0 941.5L228.0 940.5L229.0 940.4L230.0 940.6L231.0 940.7L232.0 940.6L233.0 940.9L234.0 941.6L235.0 941.4L236.0 940.9L237.0 940.9L238.0 941.3L239.0 941.8L240.0 941.9L241.0 941.0L242.0 940.0L243.0 940.8L244.0 942.1L245.0 942.2L246.0 941.2L247.0 940.5L248.0 940.9L249.0 940.6L250.0 940.0L251.0 940.7L252.0 941.7L253.0 942.1L254.0 941.5L255.0 941.4L256.0 941.7L257.0 941.1L258.0 940.5L259.0 940.7L260.0 941.4L261.0 941.8L262.0 941.6L263.0 941.3L264.0 941.1L265.0 940.7L266.0 940.4L267.0 941.2L268.0 941.5L269.0 941.0L270.0 940.9L271.0 941.4L272.0 941.8L273.0 941.5L274.0 940.9L275.0 940.3L276.0 939.9L277.0 940.2L278.0 940.6L279.0 940.7L280.0 940.9L281.0 941.2L282.0 941.1L283.0 941.0L284.0 941.0L285.0 940.8L286.0 940.6L287.0 940.3L288.0 940.0L289.0 940.2L290.0 940.2L291.0 940.3L292.0 940.6L293.0 940.6L294.0 940.1L295.0 939.8L296.0 940.2L297.0 940.1L298.0 939.7L299.0 939.8L300.0 940.0L301.0 939.9L302.0 939.0L303.0 938.1L304.0 938.2L305.0 938.8L306.0 939.1L307.0 938.5L308.0 937.9L309.0 937.7L310.0 937.1L311.0 936.4L312.0 935.7L313.0 935.0L314.0 935.0L315.0 934.5L316.0 933.2L317.0 932.2L318.0 932.1L319.0 931.5L320.0 929.8L321.0 928.5L322.0 927.5L323.0 925.6L324.0 924.1L325.0 923.4L326.0 922.4L327.0 921.1L328.0 919.9L329.0 918.6L330.0 917.0L331.0 915.2L332.0 913.8L333.0 912.9L334.0 911.7L335.0 910.2L336.0 907.6L337.0 904.7L338.0 903.3L339.0 902.6L340.0 900.7L341.0 898.7L342.0 897.3L343.0 894.8L344.0 891.6L345.0 888.7L346.0 885.2L347.0 881.5L348.0 877.7L349.0 873.1L350.0 868.3L351.0 864.1L352.0 860.0L353.0 856.4L354.0 853.6L355.0 851.5L356.0 851.2L357.0 851.5L358.0 852.5L359.0 856.0L360.0 860.6L361.0 865.0L362.0 870.0L363.0 876.5L364.0 882.6L365.0 887.5L366.0 892.8L367.0 898.0L368.0 902.3L369.0 906.4L370.0 910.4L371.0 914.3L372.0 917.0L373.0 919.3L374.0 921.7L375.0 923.4L376.0 925.2L377.0 927.1L378.0 928.5L379.0 929.6L380.0 930.4L381.0 931.1L382.0 931.8L383.0 932.7L384.0 933.3L385.0 933.3L386.0 933.7L387.0 934.1L388.0 933.9L389.0 934.0L390.0 934.2L391.0 933.8L392.0 934.1L393.0 934.7L394.0 935.0L395.0 935.6L396.0 935.8L397.0 935.7L398.0 936.0L399.0 936.0L400.0 935.9L401.0 935.8L402.0 936.3L403.0 936.9L404.0 937.3L405.0 937.3L406.0 936.8L407.0 936.1L408.0 935.9L409.0 936.7L410.0 937.1L411.0 936.8L412.0 937.3L413.0 937.5L414.0 937.3L415.0 937.3L416.0 936.8L417.0 936.0L418.0 936.1L419.0 936.6L420.0 936.8L421.0 936.5L422.0 936.2L423.0 936.3L424.0 936.6L425.0 937.1L426.0 937.5L427.0 937.5L428.0 937.2L429.0 937.0L430.0 937.0L431.0 937.3L432.0 937.0L433.0 936.0L434.0 936.3L435.0 937.2L436.0 937.2L437.0 936.7L438.0 937.0L439.0 937.2L440.0 936.5L441.0 935.9L442.0 936.0L443.0 936.4L444.0 936.7L445.0 937.1L446.0 937.5L447.0 937.2L448.0 936.4L449.0 936.2L450.0 936.3L451.0 937.1L452.0 937.5L453.0 937.2L454.0 936.9L455.0 936.5L456.0 937.0L457.0 937.3L458.0 936.6L459.0 936.8L460.0 936.6L461.0 935.2L462.0 934.7L463.0 935.3L464.0 935.8L465.0 935.5L466.0 935.3L467.0 935.4L468.0 935.2L469.0 934.7L470.0 934.6L471.0 934.5L472.0 934.3L473.0 934.4L474.0 933.7L475.0 933.2L476.0 933.6L477.0 933.1L478.0 932.4L479.0 932.4L480.0 932.3L481.0 932.6L482.0 933.1L483.0 933.1L484.0 933.3L485.0 933.9L486.0 934.6L487.0 934.2L488.0 933.5L489.0 933.6L490.0 934.2L491.0 934.9L492.0 935.6L493.0 936.0L494.0 936.1L495.0 936.2L496.0 936.4L497.0 936.6L498.0 937.0L499.0 937.5L500.0 937.5L501.0 936.8L502.0 936.4L503.0 936.9L504.0 937.1L505.0 936.7L506.0 937.3L507.0 938.1L508.0 937.8L509.0 938.0L510.0 939.2L511.0 939.4L512.0 939.0L513.0 939.4L514.0 939.3L515.0 939.1L516.0 939.5L517.0 938.9L518.0 938.3L519.0 938.3L520.0 938.4L521.0 938.4L522.0 938.9L523.0 939.6L524.0 939.3L525.0 939.4L526.0 939.6L527.0 939.3L528.0 939.3L529.0 939.3L530.0 939.3L531.0 939.4L532.0 939.3L533.0 939.1L534.0 938.9L535.0 939.0L536.0 939.4L537.0 939.2L538.0 938.7L539.0 938.7L540.0 939.0L541.0 939.4L542.0 939.6L543.0 939.5L544.0 939.3L545.0 939.2L546.0 938.4L547.0 938.0L548.0 938.6L549.0 938.7L550.0 938.7L551.0 939.1L552.0 939.5L553.0 939.5L554.0 939.6L555.0 939.4L556.0 938.8L557.0 939.0L558.0 939.8L559.0 940.4L560.0 940.8L561.0 941.0L562.0 940.6L563.0 940.2L564.0 940.1L565.0 940.0L566.0 939.7L567.0 940.1L568.0 940.4L569.0 939.8L570.0 940.0L571.0 940.5L572.0 940.2L573.0 939.8L574.0 939.9L575.0 939.8L576.0 939.8L577.0 940.0L578.0 940.1L579.0 940.3L580.0 940.5L581.0 940.3L582.0 940.4L583.0 940.6L584.0 940.8L585.0 940.9L586.0 940.7L587.0 940.3L588.0 940.1L589.0 940.4L590.0 941.1L591.0 941.7L592.0 941.7L593.0 941.2L594.0 940.8L595.0 940.1L596.0 939.8L597.0 940.4L598.0 940.7L599.0 940.3L600.0 940.6L601.0 941.4L602.0 941.2L603.0 941.4L604.0 942.6L605.0 942.5L606.0 942.1L607.0 942.2L608.0 942.3L609.0 942.4L610.0 941.7L611.0 941.4L612.0 941.9L613.0 942.4L614.0 942.7L615.0 942.1L616.0 942.1L617.0 942.8L618.0 943.3L619.0 943.5L620.0 943.8L621.0 944.0L622.0 943.4L623.0 943.3L624.0 943.6L625.0 943.3L626.0 943.0L627.0 943.0L628.0 942.8L629.0 942.8L630.0 942.7L631.0 942.9L632.0 943.2L633.0 943.6L634.0 944.8L635.0 945.4L636.0 944.8L637.0 944.1L638.0 944.1L639.0 944.6L640.0 944.7L641.0 944.4L642.0 944.4L643.0 944.6L644.0 944.4L645.0 944.0L646.0 943.7L647.0 944.1L648.0 944.7L649.0 944.6L650.0 944.8L651.0 945.2L652.0 945.4L653.0 945.1L654.0 944.5L655.0 945.0L656.0 945.3L657.0 944.5L658.0 944.7L659.0 945.3L660.0 945.1L661.0 945.2L662.0 945.7L663.0 945.8L664.0 945.7L665.0 945.6L666.0 946.1L667.0 946.6L668.0 945.9L669.0 945.3L670.0 946.0L671.0 946.2L672.0 946.2L673.0 946.4L674.0 946.4L675.0 946.8L676.0 947.0L677.0 947.2L678.0 946.7L679.0 946.1L680.0 946.6L681.0 947.2L682.0 947.5L683.0 947.4L684.0 947.0L685.0 947.3L686.0 947.6L687.0 947.1L688.0 946.6L689.0 946.9L690.0 947.7L691.0 947.8L692.0 947.1L693.0 947.1L694.0 947.6L695.0 947.4L696.0 947.4L697.0 947.2L698.0 947.0L699.0 947.6L700.0 948.3L701.0 949.2L702.0 949.5L703.0 948.9L704.0 949.0L705.0 948.9L706.0 948.2L707.0 948.3L708.0 949.0L709.0 948.8L710.0 948.5L711.0 948.5L712.0 948.5L713.0 948.7L714.0 949.4L715.0 949.6L716.0 948.8L717.0 948.3L718.0 948.4L719.0 948.3L720.0 948.8L721.0 950.1L722.0 950.6L723.0 949.7L724.0 949.1L725.0 948.9L726.0 948.4L727.0 948.9L728.0 950.1L729.0 949.8L730.0 948.6L731.0 948.6L732.0 949.5L733.0 949.6L734.0 949.4L735.0 949.5L736.0 949.0L737.0 948.8L738.0 949.4L739.0 949.3L740.0 948.8L741.0 948.9L742.0 949.3L743.0 949.5L744.0 949.8L745.0 950.0L746.0 950.1L747.0 949.7L748.0 949.0L749.0 948.5L750.0 949.0L751.0 950.6L752.0 951.1L753.0 949.7L754.0 949.2L755.0 949.9L756.0 950.0L757.0 949.7L758.0 949.4L759.0 949.1L760.0 949.6L761.0 950.6L762.0 950.8L763.0 950.1L764.0 949.8L765.0 950.3L766.0 950.6L767.0 950.2L768.0 949.7L769.0 950.1L770.0 950.2L771.0 949.4L772.0 949.2L773.0 949.8L774.0 950.3L775.0 950.3L776.0 949.8L777.0 949.3L778.0 949.0L779.0 948.8L780.0 948.7L781.0 948.8L782.0 949.2L783.0 949.3L784.0 948.7L785.0 948.5L786.0 948.8L787.0 949.1L788.0 948.7L789.0 948.1L790.0 948.1L791.0 947.6L792.0 947.2L793.0 947.4L794.0 947.3L795.0 947.0L796.0 946.4L797.0 945.4L798.0 944.1L799.0 943.2L800.0 942.9L801.0 942.5L802.0 941.7L803.0 940.6L804.0 939.3L805.0 938.6L806.0 938.7L807.0 938.2L808.0 937.1L809.0 936.6L810.0 936.1L811.0 934.9L812.0 934.0L813.0 934.0L814.0 934.4L815.0 934.3L816.0 933.7L817.0 933.5L818.0 934.6L819.0 935.6L820.0 935.9L821.0 936.4L822.0 937.2L823.0 937.6L824.0 938.7L825.0 939.8L826.0 940.1L827.0 940.8L828.0 942.0L829.0 942.9L830.0 943.6L831.0 944.5L832.0 945.0L833.0 945.2L834.0 945.9L835.0 947.1L836.0 948.3L837.0 948.5L838.0 948.4L839.0 949.1L840.0 949.6L841.0 949.6L842.0 950.0L843.0 950.8L844.0 950.9L845.0 950.4L846.0 950.5L847.0 950.7L848.0 951.0L849.0 951.7L850.0 951.5L851.0 950.9L852.0 951.1L853.0 951.2L854.0 951.2L855.0 951.7L856.0 951.9L857.0 951.9L858.0 952.5L859.0 952.8L860.0 952.3L861.0 952.3L862.0 952.7L863.0 952.2L864.0 951.6L865.0 951.8L866.0 952.6L867.0 952.8L868.0 952.7L869.0 952.6L870.0 952.3L871.0 952.0L872.0 952.2L873.0 952.7L874.0 953.2L875.0 953.3L876.0 952.7L877.0 952.2L878.0 952.6L879.0 953.0L880.0 952.8L881.0 953.3L882.0 953.7L883.0 953.4L884.0 952.8L885.0 952.2L886.0 952.1L887.0 952.4L888.0 952.9L889.0 953.1L890.0 953.1L891.0 953.6L892.0 953.6L893.0 953.1L894.0 952.7L895.0 952.6L896.0 953.5L897.0 954.3L898.0 953.8L899.0 953.5L900.0 953.7L901.0 954.0L902.0 954.1L903.0 953.4L904.0 952.9L905.0 953.5L906.0 954.3L907.0 954.3L908.0 954.1L909.0 953.6L910.0 953.3L911.0 954.0L912.0 954.3L913.0 954.0L914.0 954.1L915.0 954.3L916.0 954.3L917.0 954.4L918.0 954.0L919.0 953.4L920.0 953.9L921.0 954.2L922.0 954.3L923.0 954.6L924.0 954.8L925.0 955.2L926.0 955.5L927.0 954.9L928.0 954.1L929.0 954.5L930.0 955.2L931.0 955.0L932.0 954.7L933.0 955.1L934.0 955.5L935.0 955.7L936.0 955.5L937.0 955.1L938.0 955.0L939.0 955.3L940.0 955.0L941.0 954.5L942.0 954.7L943.0 955.3L944.0 956.3L945.0 957.1L946.0 957.0L947.0 956.4L948.0 956.0L949.0 956.1L950.0 956.2L951.0 956.0L952.0 955.6L953.0 955.7L954.0 956.5L955.0 957.0L956.0 957.0L957.0 957.8L958.0 957.6L959.0 956.2L960.0 955.7L961.0 955.8L962.0 955.9L963.0 956.0L964.0 956.4L965.0 957.0L966.0 957.0L967.0 956.7L968.0 956.5L969.0 956.5L970.0 956.6L971.0 956.6L972.0 956.6L973.0 956.3L974.0 956.0L975.0 956.7L976.0 957.2L977.0 956.3L978.0 955.8L979.0 956.2L980.0 955.4L981.0 954.4L982.0 955.1L983.0 955.9L984.0 956.0L985.0 956.0L986.0 955.7L987.0 954.6L988.0 953.6L989.0 953.5L990.0 954.2L991.0 954.0L992.0 953.2L993.0 952.9L994.0 952.7L995.0 951.5L996.0 951.0L997.0 951.6L998.0 951.6L999.0 950.7L1000.0 949.9L1001.0 949.8L1002.0 949.9L1003.0 949.9L1004.0 949.8L1005.0 949.6L1006.0 949.4L1007.0 949.0L1008.0 949.2L1009.0 949.4L1010.0 949.2L1011.0 948.9L1012.0 948.6L1013.0 948.7L1014.0 948.6L1015.0 948.2L1016.0 948.4L1017.0 948.6L1018.0 948.8L1019.0 949.6L1020.0 950.1L1021.0 950.1L1022.0 949.9L1023.0 950.0L1024.0 950.8L1025.0 951.9L1026.0 952.2L1027.0 952.0L1028.0 951.7L1029.0 951.8L1030.0 952.0L1031.0 952.0L1032.0 952.5L1033.0 953.3L1034.0 953.7L1035.0 954.0L1036.0 953.8L1037.0 953.7L1038.0 953.9L1039.0 954.0L1040.0 954.1L1041.0 954.4L1042.0 954.6L1043.0 954.8L1044.0 955.4L1045.0 955.7L1046.0 955.4L1047.0 955.5L1048.0 955.5L1049.0 955.8L1050.0 955.8L1051.0 954.7L1052.0 954.2L1053.0 954.4L1054.0 954.8L1055.0 956.1L1056.0 957.2L1057.0 956.8L1058.0 956.6L1059.0 956.3L1060.0 955.6L1061.0 955.9L1062.0 956.3L1063.0 955.9L1064.0 955.6L1065.0 955.3L1066.0 954.6L1067.0 954.7L1068.0 955.4L1069.0 955.4L1070.0 954.9L1071.0 954.9L1072.0 955.1L1073.0 955.3L1074.0 955.5L1075.0 955.4L1076.0 954.9L1077.0 954.3L1078.0 954.4L1079.0 954.6L1080.0 954.5L1081.0 954.6L1082.0 954.6L1083.0 954.6L1084.0 954.9L1085.0 954.6L1086.0 954.2L1087.0 954.4L1088.0 955.3L1089.0 955.6L1090.0 954.4L1091.0 954.2L1092.0 954.8L1093.0 955.0L1094.0 954.1L1095.0 953.7L1096.0 954.4L1097.0 954.3L1098.0 953.9L1099.0 953.6L1100.0 953.5L1101.0 954.1L1102.0 954.8L1103.0 954.7L1104.0 954.3L1105.0 954.2L1106.0 954.1L1107.0 954.1L1108.0 954.3L1109.0 954.1L1110.0 953.7L1111.0 953.7L1112.0 953.9L1113.0 953.6L1114.0 953.7L1115.0 954.1L1116.0 953.9L1117.0 953.8L1118.0 953.9L1119.0 953.4L1120.0 953.0L1121.0 953.6L1122.0 953.2L1123.0 952.5L1124.0 953.3L1125.0 954.1L1126.0 953.3L1127.0 952.2L1128.0 952.5L1129.0 952.8L1130.0 952.2L1131.0 952.0L1132.0 952.7L1133.0 953.1L1134.0 952.8L1135.0 952.5L1136.0 951.8L1137.0 951.7L1138.0 952.3L1139.0 951.9L1140.0 951.2L1141.0 951.6L1142.0 951.8L1143.0 951.3L1144.0 951.3L1145.0 951.3L1146.0 950.8L1147.0 950.5L1148.0 950.4L1149.0 950.2L1150.0 950.0L1151.0 949.9L1152.0 949.8L1153.0 950.0L1154.0 949.9L1155.0 949.8L1156.0 950.5L1157.0 951.2L1158.0 950.4L1159.0 949.5L1160.0 949.7L1161.0 949.5L1162.0 948.9L1163.0 948.5L1164.0 948.7L1165.0 948.9L1166.0 948.3L1167.0 947.2L1168.0 946.4L1169.0 946.1L1170.0 946.3L1171.0 945.6L1172.0 943.9L1173.0 942.5L1174.0 941.3L1175.0 939.9L1176.0 938.7L1177.0 936.9L1178.0 934.3L1179.0 932.5L1180.0 931.3L1181.0 929.4L1182.0 927.0L1183.0 924.7L1184.0 923.2L1185.0 922.2L1186.0 921.0L1187.0 920.5L1188.0 921.1L1189.0 921.7L1190.0 922.2L1191.0 923.3L1192.0 923.9L1193.0 924.0L1194.0 924.5L1195.0 925.3L1196.0 925.9L1197.0 926.0L1198.0 925.5L1199.0 926.0L1200.0 927.6L1201.0 928.7L1202.0 929.9L1203.0 931.6L1204.0 933.1L1205.0 934.4L1206.0 936.1L1207.0 937.8L1208.0 939.9L1209.0 941.5L1210.0 942.3L1211.0 943.7L1212.0 945.0L1213.0 946.1L1214.0 946.9L1215.0 947.4L1216.0 948.3L1217.0 949.7L1218.0 950.4L1219.0 950.1L1220.0 950.6L1221.0 952.1L1222.0 952.6L1223.0 951.9L1224.0 951.5L1225.0 951.7L1226.0 952.1L1227.0 952.5L1228.0 953.2L1229.0 953.3L1230.0 952.9L1231.0 952.5L1232.0 952.4L1233.0 952.8L1234.0 953.3L1235.0 953.4L1236.0 953.5L1237.0 953.8L1238.0 954.3L1239.0 954.6L1240.0 954.0L1241.0 953.6L1242.0 954.2L1243.0 954.7L1244.0 954.4L1245.0 954.2L1246.0 954.4L1247.0 954.7L1248.0 954.6L1249.0 954.3L1250.0 954.6L1251.0 955.4L1252.0 955.8L1253.0 955.8L1254.0 955.5L1255.0 955.0L1256.0 955.1L1257.0 955.2L1258.0 954.9L1259.0 954.6L1260.0 954.4L1261.0 954.7L1262.0 954.8L1263.0 955.0L1264.0 955.4L1265.0 955.4L1266.0 955.3L1267.0 955.4L1268.0 955.7L1269.0 956.2L1270.0 956.0L1271.0 955.7L1272.0 955.4L1273.0 955.5L1274.0 955.8L1275.0 955.8L1276.0 955.9L1277.0 956.5L1278.0 957.0L1279.0 956.6L1280.0 956.2L1281.0 956.8L1282.0 957.9L1283.0 957.9L1284.0 957.3L1285.0 956.9L1286.0 956.4L1287.0 956.5L1288.0 956.7L1289.0 956.6L1290.0 956.2L1291.0 956.3L1292.0 956.8L1293.0 956.5L1294.0 955.8L1295.0 956.5L1296.0 957.1L1297.0 956.6L1298.0 956.2L1299.0 956.1L1300.0 956.3L1301.0 955.8L1302.0 955.5L1303.0 956.4L1304.0 957.1L1305.0 956.2L1306.0 955.5L1307.0 956.0L1308.0 956.5L1309.0 956.4L1310.0 955.3L1311.0 954.7L1312.0 955.3L1313.0 955.8L1314.0 956.0L1315.0 955.7L1316.0 954.8L1317.0 954.5L1318.0 955.1L1319.0 955.6L1320.0 955.3L1321.0 954.6L1322.0 954.5L1323.0 955.1L1324.0 955.9L1325.0 956.0L1326.0 955.4L1327.0 954.8L1328.0 954.1L1329.0 953.6L1330.0 953.7L1331.0 953.5L1332.0 953.4L1333.0 953.5L1334.0 953.6L1335.0 953.7L1336.0 953.8L1337.0 953.7L1338.0 953.8L1339.0 954.1L1340.0 953.8L1341.0 953.3L1342.0 953.2L1343.0 953.2L1344.0 953.0L1345.0 952.9L1346.0 953.4L1347.0 953.9L1348.0 953.3L1349.0 952.1L1350.0 951.5L1351.0 951.8L1352.0 952.3L1353.0 952.4L1354.0 952.0L1355.0 952.0L1356.0 952.2L1357.0 951.9L1358.0 952.1L1359.0 951.8L1360.0 951.0L1361.0 951.0L1362.0 950.8L1363.0 950.1L1364.0 949.6L1365.0 949.8L1366.0 950.5L1367.0 950.6L1368.0 950.3L1369.0 949.9L1370.0 949.8L1371.0 949.6L1372.0 948.9L1373.0 948.9L1374.0 949.5L1375.0 949.5L1376.0 948.9L1377.0 949.0L1378.0 949.6L1379.0 949.4L1380.0 948.5L1381.0 948.7L1382.0 948.9L1383.0 948.3L1384.0 947.2L1385.0 946.2L1386.0 946.4L1387.0 945.8L1388.0 944.7L1389.0 945.1L1390.0 945.3L1391.0 944.9L1392.0 944.1L1393.0 942.9L1394.0 941.8L1395.0 941.3L1396.0 941.1L1397.0 940.7L1398.0 940.1L1399.0 939.9L1400.0 940.0L1401.0 940.1L1402.0 940.6L1403.0 940.2L1404.0 938.8L1405.0 938.3L1406.0 938.3L1407.0 938.9L1408.0 939.6L1409.0 939.7L1410.0 939.9L1411.0 940.9L1412.0 941.7L1413.0 941.9L1414.0 942.4L1415.0 943.2L1416.0 943.7L1417.0 944.0L1418.0 944.1L1419.0 943.8L1420.0 943.9L1421.0 944.3L1422.0 944.8L1423.0 944.7L1424.0 944.3L1425.0 944.3L1426.0 944.0L1427.0 944.0L1428.0 943.6L1429.0 942.5L1430.0 941.9L1431.0 941.9L1432.0 941.6L1433.0 941.1L1434.0 940.6L1435.0 939.9L1436.0 939.6L1437.0 939.1L1438.0 938.4L1439.0 938.3L1440.0 937.6L1441.0 937.0L1442.0 937.6L1443.0 938.5L1444.0 939.0L1445.0 939.3L1446.0 940.2L1447.0 941.1L1448.0 941.5L1449.0 941.9L1450.0 941.9L1451.0 942.3L1452.0 943.3L1453.0 944.3L1454.0 944.6L1455.0 944.6L1456.0 945.1L1457.0 946.3L1458.0 946.9L1459.0 947.0L1460.0 947.9L1461.0 948.8L1462.0 949.3L1463.0 949.9L1464.0 950.0L1465.0 949.7L1466.0 950.2L1467.0 951.2L1468.0 952.0L1469.0 951.8L1470.0 951.1L1471.0 951.6L1472.0 952.6L1473.0 953.3L1474.0 953.2L1475.0 952.4L1476.0 952.0L1477.0 952.4L1478.0 952.7L1479.0 952.8L1480.0 953.5L1481.0 953.9L1482.0 953.1L1483.0 952.2L1484.0 952.7L1485.0 953.2L1486.0 952.9L1487.0 953.0L1488.0 953.6L1489.0 954.0L1490.0 954.0L1491.0 953.7L1492.0 953.5L1493.0 953.6L1494.0 953.8L1495.0 954.0L1496.0 954.1L1497.0 953.8L1498.0 953.6L1499.0 954.0L1500.0 954.3L1501.0 954.4L1502.0 954.4L1503.0 954.7L1504.0 954.7L1505.0 954.1L1506.0 953.9L1507.0 954.0L1508.0 953.8L1509.0 953.4L1510.0 953.6L1511.0 953.8L1512.0 953.7L1513.0 953.6L1514.0 953.8L1515.0 954.6L1516.0 955.2L1517.0 955.0L1518.0 954.0L1519.0 953.6L1520.0 953.8L1521.0 953.7L1522.0 953.9L1523.0 954.0L1524.0 954.1L1525.0 954.4L1526.0 954.9L1527.0 955.4L1528.0 954.8L1529.0 954.2L1530.0 954.3L1531.0 954.1L1532.0 954.0L1533.0 953.8L1534.0 954.2L1535.0 954.8L1536.0 954.5L1537.0 954.0L1538.0 954.1L1539.0 954.7L1540.0 954.9L1541.0 954.1L1542.0 954.0L1543.0 954.3L1544.0 954.0L1545.0 954.4L1546.0 955.1L1547.0 954.9L1548.0 954.3L1549.0 954.1L1550.0 954.0L1551.0 954.3L1552.0 955.0L1553.0 955.6L1554.0 955.4L1555.0 954.6L1556.0 954.5L1557.0 954.6L1558.0 954.1L1559.0 954.2L1560.0 954.4L1561.0 954.1L1562.0 954.3L1563.0 954.5L1564.0 954.0L1565.0 954.0L1566.0 954.5L1567.0 954.5L1568.0 954.6L1569.0 955.1L1570.0 955.0L1571.0 954.7L1572.0 954.6L1573.0 954.4L1574.0 954.7L1575.0 955.4L1576.0 955.4L1577.0 955.3L1578.0 955.3L1579.0 955.1L1580.0 955.2L1581.0 955.0L1582.0 954.9L1583.0 954.9L1584.0 954.8L1585.0 954.9L1586.0 955.0L1587.0 955.5L1588.0 956.0L1589.0 955.6L1590.0 955.0L1591.0 955.0L1592.0 954.8L1593.0 954.4L1594.0 954.5L1595.0 955.1L1596.0 955.1L1597.0 954.6L1598.0 955.0L1599.0 955.5L1600.0 955.2L1601.0 955.1L1602.0 955.3L1603.0 955.2L1604.0 955.7L1605.0 955.7L1606.0 954.9L1607.0 955.1L1608.0 955.6L1609.0 955.4L1610.0 955.0L1611.0 954.8L1612.0 954.7L1613.0 955.3L1614.0 955.5L1615.0 955.0L1616.0 954.9" stroke="#059005"/>
<path d="M166.0 1097.7L167.0 1097.8L168.0 1097.9L169.0 1097.9L170.0 1097.7L171.0 1096.8L172.0 1096.7L173.0 1098.0L174.0 1098.5L175.0 1097.6L176.0 1097.6L177.0 1098.3L178.0 1098.8L179.0 1099.0L180.0 1098.9L181.0 1098.6L182.0 1098.5L183.0 1098.5L184.0 1098.5L185.0 1098.9L186.0 1099.1L187.0 1098.9L188.0 1098.7L189.0 1098.6L190.0 1098.3L191.0 1097.9L192.0 1097.3L193.0 1097.7L194.0 1098.6L195.0 1098.6L196.0 1098.3L197.0 1098.3L198.0 1099.2L199.0 1099.3L200.0 1099.0L201.0 1099.0L202.0 1099.4L203.0 1099.6L204.0 1098.9L205.0 1098.2L206.0 1098.8L207.0 1099.6L208.0 1099.4L209.0 1099.1L210.0 1099.2L211.0 1099.4L212.0 1099.0L213.0 1098.3L214.0 1098.5L215.0 1099.2L216.0 1099.3L217.0 1099.7L218.0 1100.1L219.0 1099.6L220.0 1099.2L221.0 1099.0L222.0 1098.9L223.0 1098.9L224.0 1098.2L225.0 1098.4L226.0 1099.5L227.0 1099.9L228.0 1100.0L229.0 1099.8L230.0 1099.7L231.0 1100.0L232.0 1099.7L233.0 1099.5L234.0 1099.6L235.0 1099.5L236.0 1100.1L237.0 1100.8L238.0 1100.6L239.0 1100.4L240.0 1100.0L241.0 1099.9L242.0 1100.0L243.0 1099.8L244.0 1099.3L245.0 1099.3L246.0 1099.4L247.0 1099.0L248.0 1099.3L249.0 1099.8L250.0 1099.5L251.0 1099.1L252.0 1099.2L253.0 1099.6L254.0 1099.8L255.0 1099.9L256.0 1100.3L257.0 1100.6L258.0 1099.7L259.0 1099.0L260.0 1099.6L261.0 1100.0L262.0 1099.7L263.0 1099.6L264.0 1100.1L265.0 1100.2L266.0 1099.6L267.0 1099.4L268.0 1099.8L269.0 1100.3L270.0 1100.4L271.0 1099.8L272.0 1099.3L273.0 1099.5L274.0 1099.6L275.0 1099.6L276.0 1099.4L277.0 1099.4L278.0 1099.5L279.0 1099.4L280.0 1099.1L281.0 1098.9L282.0 1099.0L283.0 1098.9L284.0 1098.9L285.0 1098.3L286.0 1097.7L287.0 1098.4L288.0 1099.1L289.0 1098.8L290.0 1098.5L291.0 1098.1L292.0 1097.2L293.0 1096.9L294.0 1097.5L295.0 1097.8L296.0 1097.4L297.0 1097.0L298.0 1096.6L299.0 1096.3L300.0 1096.0L301.0 1095.8L302.0 1095.4L303.0 1094.8L304.0 1094.7L305.0 1094.9L306.0 1094.1L307.0 1093.3L308.0 1093.2L309.0 1093.4L310.0 1094.2L311.0 1094.4L312.0 1093.6L313.0 1092.6L314.0 1092.0L315.0 1092.1L316.0 1091.9L317.0 1091.5L318.0 1091.5L319.0 1091.5L320.0 1090.7L321.0 1089.3L322.0 1088.4L323.0 1088.4L324.0 1088.1L325.0 1088.0L326.0 1088.0L327.0 1087.1L328.0 1085.7L329.0 1084.8L330.0 1083.6L331.0 1081.8L332.0 1080.2L333.0 1078.7L334.0 1076.5L335.0 1074.1L336.0 1072.0L337.0 1069.8L338.0 1067.5L339.0 1065.0L340.0 1062.3L341.0 1059.7L342.0 1056.2L343.0 1052.2L344.0 1048.8L345.0 1045.5L346.0 1042.1L347.0 1038.4L348.0 1034.7L349.0 1031.4L350.0 1028.3L351.0 1026.0L352.0 1024.3L353.0 1023.0L354.0 1022.4L355.0 1022.5L356.0 1023.6L357.0 1025.3L358.0 1028.0L359.0 1031.2L360.0 1034.1L361.0 1037.8L362.0 1042.0L363.0 1045.1L364.0 1048.0L365.0 1051.7L366.0 1055.5L367.0 1058.8L368.0 1061.7L369.0 1064.4L370.0 1067.1L371.0 1070.0L372.0 1072.5L373.0 1074.3L374.0 1076.1L375.0 1078.0L376.0 1079.3L377.0 1080.9L378.0 1082.5L379.0 1083.5L380.0 1085.0L381.0 1085.9L382.0 1086.6L383.0 1087.9L384.0 1088.8L385.0 1089.1L386.0 1089.8L387.0 1090.9L388.0 1091.4L389.0 1091.3L390.0 1091.2L391.0 1091.5L392.0 1092.2L393.0 1093.1L394.0 1093.6L395.0 1093.9L396.0 1094.2L397.0 1093.9L398.0 1093.8L399.0 1094.4L400.0 1094.8L401.0 1094.2L402.0 1094.6L403.0 1095.2L404.0 1095.7L405.0 1096.5L406.0 1096.5L407.0 1095.9L408.0 1095.5L409.0 1095.6L410.0 1095.8L411.0 1095.9L412.0 1096.0L413.0 1096.0L414.0 1096.6L415.0 1097.2L416.0 1097.1L417.0 1096.2L418.0 1095.8L419.0 1096.7L420.0 1097.1L421.0 1096.6L422.0 1096.4L423.0 1096.6L424.0 1096.6L425.0 1096.6L426.0 1096.2L427.0 1096.1L428.0 1096.2L429.0 1096.1L430.0 1096.5L431.0 1096.7L432.0 1096.5L433.0 1096.7L434.0 1096.8L435.0 1096.9L436.0 1096.8L437.0 1096.4L438.0 1096.0L439.0 1095.7L440.0 1095.8L441.0 1096.5L442.0 1097.3L443.0 1097.0L444.0 1096.3L445.0 1096.5L446.0 1096.6L447.0 1096.3L448.0 1096.6L449.0 1096.6L450.0 1096.1L451.0 1096.0L452.0 1095.9L453.0 1095.7L454.0 1095.9L455.0 1095.8L456.0 1095.4L457.0 1095.4L458.0 1095.9L459.0 1096.2L460.0 1095.8L461.0 1095.4L462.0 1095.7L463.0 1095.8L464.0 1095.9L465.0 1095.7L466.0 1095.0L467.0 1094.7L468.0 1094.6L469.0 1094.9L470.0 1095.7L471.0 1095.3L472.0 1094.3L473.0 1094.3L474.0 1094.7L475.0 1094.9L476.0 1094.7L477.0 1094.3L478.0 1094.4L479.0 1094.4L480.0 1094.1L481.0 1093.9L482.0 1093.9L483.0 1093.8L484.0 1093.4L485.0 1093.4L486.0 1093.5L487.0 1093.5L488.0 1093.4L489.0 1092.9L490.0 1092.7L491.0 1092.9L492.0 1093.2L493.0 1093.1L494.0 1093.1L495.0 1092.9L496.0 1092.5L497.0 1092.6L498.0 1092.6L499.0 1092.5L500.0 1092.8L501.0 1093.2L502.0 1093.5L503.0 1093.6L504.0 1093.0L505.0 1092.3L506.0 1092.4L507.0 1093.0L508.0 1093.4L509.0 1092.9L510.0 1092.4L511.0 1092.5L512.0 1092.7L513.0 1092.4L514.0 1091.7L515.0 1091.2L516.0 1092.0L517.0 1092.9L518.0 1092.4L519.0 1091.7L520.0 1091.8L521.0 1092.3L522.0 1093.2L523.0 1093.0L524.0 1092.5L525.0 1092.8L526.0 1092.9L527.0 1093.1L528.0 1092.9L529.0 1092.7L530.0 1092.9L531.0 1093.1L532.0 1093.6L533.0 1093.5L534.0 1092.6L535.0 1092.9L536.0 1094.2L537.0 1094.4L538.0 1093.9L539.0 1094.3L540.0 1094.3L541.0 1093.9L542.0 1094.0L543.0 1094.4L544.0 1094.9L545.0 1094.4L546.0 1094.2L547.0 1095.2L548.0 1095.2L549.0 1094.4L550.0 1094.3L551.0 1094.5L552.0 1094.9L553.0 1095.3L554.0 1095.3L555.0 1094.9L556.0 1095.1L557.0 1095.6L558.0 1096.2L559.0 1096.4L560.0 1096.0L561.0 1096.0L562.0 1095.9L563.0 1096.0L564.0 1096.5L565.0 1096.3L566.0 1095.9L567.0 1096.2L568.0 1096.5L569.0 1096.5L570.0 1097.1L571.0 1097.2L572.0 1097.1L573.0 1097.8L574.0 1098.1L575.0 1097.7L576.0 1097.7L577.0 1098.4L578.0 1098.1L579.0 1097.3L580.0 1097.2L581.0 1097.4L582.0 1097.2L583.0 1097.3L584.0 1098.0L585.0 1098.2L586.0 1098.4L587.0 1098.7L588.0 1098.3L589.0 1098.3L590.0 1098.5L591.0 1098.4L592.0 1098.7L593.0 1099.1L594.0 1099.3L595.0 1099.4L596.0 1099.1L597.0 1098.8L598.0 1098.7L599.0 1098.8L600.0 1099.4L601.0 1100.1L602.0 1100.3L603.0 1100.5L604.0 1101.0L605.0 1101.0L606.0 1100.4L607.0 1099.6L608.0 1099.4L609.0 1099.8L610.0 1100.0L611.0 1100.0L612.0 1099.9L613.0 1100.1L614.0 1100.7L615.0 1100.4L616.0 1100.4L617.0 1100.6L618.0 1100.6L619.0 1101.3L620.0 1101.6L621.0 1101.0L622.0 1100.6L623.0 1100.5L624.0 1100.8L625.0 1101.7L626.0 1101.7L627.0 1101.1L628.0 1101.2L629.0 1102.1L630.0 1102.3L631.0 1101.5L632.0 1101.0L633.0 1101.3L634.0 1102.0L635.0 1102.8L636.0 1103.2L637.0 1102.6L638.0 1101.9L639.0 1102.2L640.0 1102.3L641.0 1102.1L642.0 1102.6L643.0 1102.8L644.0 1102.3L645.0 1102.5L646.0 1103.5L647.0 1103.8L648.0 1103.2L649.0 1103.5L650.0 1103.8L651.0 1103.1L652.0 1102.7L653.0 1102.6L654.0 1102.9L655.0 1103.2L656.0 1103.0L657.0 1102.7L658.0 1102.4L659.0 1102.4L660.0 1103.0L661.0 1103.6L662.0 1103.5L663.0 1103.4L664.0 1104.0L665.0 1104.1L666.0 1103.6L667.0 1103.7L668.0 1104.3L669.0 1104.2L670.0 1103.9L671.0 1104.1L672.0 1104.5L673.0 1104.6L674.0 1104.4L675.0 1104.7L676.0 1104.6L677.0 1104.4L678.0 1105.0L679.0 1105.0L680.0 1104.7L681.0 1105.1L682.0 1104.5L683.0 1104.1L684.0 1104.7L685.0 1105.3L686.0 1105.4L687.0 1105.4L688.0 1105.7L689.0 1105.9L690.0 1106.5L691.0 1106.8L692.0 1105.4L693.0 1104.2L694.0 1104.4L695.0 1104.9L696.0 1105.3L697.0 1105.3L698.0 1104.8L699.0 1104.8L700.0 1105.3L701.0 1105.0L702.0 1104.8L703.0 1105.7L704.0 1106.1L705.0 1106.0L706.0 1105.9L707.0 1105.6L708.0 1106.1L709.0 1106.8L710.0 1107.0L711.0 1106.6L712.0 1106.1L713.0 1106.2L714.0 1106.9L715.0 1106.8L716.0 1105.9L717.0 1105.3L718.0 1105.2L719.0 1105.8L720.0 1106.8L721.0 1106.8L722.0 1106.3L723.0 1107.0L724.0 1108.1L725.0 1107.6L726.0 1106.5L727.0 1106.2L728.0 1105.9L729.0 1105.9L730.0 1107.2L731.0 1108.4L732.0 1108.2L733.0 1107.3L734.0 1107.0L735.0 1107.3L736.0 1107.3L737.0 1106.3L738.0 1106.4L739.0 1107.7L740.0 1108.1L741.0 1108.1L742.0 1108.1L743.0 1107.9L744.0 1107.5L745.0 1107.8L746.0 1108.4L747.0 1108.1L748.0 1107.6L749.0 1107.6L750.0 1107.0L751.0 1106.8L752.0 1107.7L753.0 1108.4L754.0 1107.9L755.0 1107.4L756.0 1107.8L757.0 1108.0L758.0 1107.0L759.0 1106.6L760.0 1107.7L761.0 1108.3L762.0 1107.6L763.0 1106.6L764.0 1106.8L765.0 1107.9L766.0 1108.3L767.0 1107.9L768.0 1107.7L769.0 1107.6L770.0 1107.3L771.0 1107.0L772.0 1107.1L773.0 1107.2L774.0 1107.4L775.0 1107.8L776.0 1107.6L777.0 1107.4L778.0 1107.4L779.0 1106.9L780.0 1107.0L781.0 1107.5L782.0 1106.8L783.0 1105.9L784.0 1106.4L785.0 1107.0L786.0 1106.1L787.0 1104.6L788.0 1104.3L789.0 1104.5L790.0 1104.6L791.0 1104.5L792.0 1104.0L793.0 1103.9L794.0 1103.1L795.0 1101.7L796.0 1101.1L797.0 1101.0L798.0 1101.1L799.0 1100.8L800.0 1100.1L801.0 1099.2L802.0 1097.4L803.0 1096.2L804.0 1096.6L805.0 1096.8L806.0 1095.9L807.0 1095.2L808.0 1095.5L809.0 1095.5L810.0 1094.3L811.0 1093.2L812.0 1093.3L813.0 1093.8L814.0 1093.5L815.0 1093.4L816.0 1093.7L817.0 1093.4L818.0 1093.1L819.0 1093.7L820.0 1094.3L821.0 1094.7L822.0 1095.0L823.0 1095.0L824.0 1095.3L825.0 1096.2L826.0 1097.0L827.0 1097.5L828.0 1098.0L829.0 1098.5L830.0 1099.2L831.0 1100.0L832.0 1100.8L833.0 1101.5L834.0 1102.1L835.0 1102.2L836.0 1102.6L837.0 1103.8L838.0 1104.4L839.0 1104.6L840.0 1105.3L841.0 1106.0L842.0 1106.3L843.0 1107.1L844.0 1108.2L845.0 1108.8L846.0 1108.9L847.0 1108.4L848.0 1108.4L849.0 1109.3L850.0 1110.0L851.0 1110.0L852.0 1110.0L853.0 1109.7L854.0 1109.8L855.0 1110.6L856.0 1110.7L857.0 1110.3L858.0 1110.6L859.0 1111.0L860.0 1111.2L861.0 1111.3L862.0 1111.7L863.0 1111.9L864.0 1111.4L865.0 1110.9L866.0 1111.3L867.0 1111.3L868.0 1111.1L869.0 1111.2L870.0 1111.3L871.0 1112.1L872.0 1112.5L873.0 1112.1L874.0 1112.2L875.0 1112.4L876.0 1112.0L877.0 1111.7L878.0 1112.0L879.0 1112.5L880.0 1112.5L881.0 1112.6L882.0 1112.8L883.0 1112.8L884.0 1113.0L885.0 1113.2L886.0 1113.1L887.0 1113.1L888.0 1113.0L889.0 1112.8L890.0 1112.7L891.0 1113.2L892.0 1113.5L893.0 1113.2L894.0 1113.3L895.0 1113.0L896.0 1112.6L897.0 1113.2L898.0 1113.6L899.0 1112.7L900.0 1112.2L901.0 1112.7L902.0 1113.4L903.0 1113.9L904.0 1113.6L905.0 1113.1L906.0 1113.1L907.0 1113.2L908.0 1113.0L909.0 1112.9L910.0 1113.1L911.0 1113.4L912.0 1113.7L913.0 1113.3L914.0 1113.2L915.0 1113.0L916.0 1113.3L917.0 1113.7L918.0 1113.5L919.0 1113.6L920.0 1113.5L921.0 1114.1L922.0 1114.4L923.0 1113.2L924.0 1113.1L925.0 1114.3L926.0 1114.2L927.0 1113.8L928.0 1113.7L929.0 1113.7L930.0 1114.3L931.0 1114.7L932.0 1114.4L933.0 1114.4L934.0 1115.2L935.0 1115.3L936.0 1114.5L937.0 1114.2L938.0 1114.0L939.0 1113.9L940.0 1113.9L941.0 1113.7L942.0 1113.1L943.0 1113.1L944.0 1113.8L945.0 1114.7L946.0 1115.0L947.0 1114.6L948.0 1114.6L949.0 1115.0L950.0 1115.1L951.0 1114.8L952.0 1115.1L953.0 1115.5L954.0 1114.9L955.0 1114.1L956.0 1114.1L957.0 1114.6L958.0 1115.2L959.0 1115.5L960.0 1115.3L961.0 1115.4L962.0 1115.8L963.0 1115.5L964.0 1115.0L965.0 1115.3L966.0 1115.2L967.0 1114.8L968.0 1114.7L969.0 1114.6L970.0 1114.1L971.0 1113.9L972.0 1114.6L973.0 1114.8L974.0 1114.4L975.0 1115.0L976.0 1115.8L977.0 1115.3L978.0 1114.9L979.0 1115.0L980.0 1114.5L981.0 1114.0L982.0 1114.0L983.0 1114.1L984.0 1114.5L985.0 1114.2L986.0 1113.6L987.0 1113.4L988.0 1113.4L989.0 1113.1L990.0 1112.8L991.0 1112.3L992.0 1112.1L993.0 1112.0L994.0 1111.7L995.0 1111.7L996.0 1111.3L997.0 1110.6L998.0 1110.3L999.0 1110.2L1000.0 1110.1L1001.0 1109.9L1002.0 1109.4L1003.0 1109.2L1004.0 1109.6L1005.0 1109.5L1006.0 1108.9L1007.0 1108.7L1008.0 1108.3L1009.0 1107.8L1010.0 1108.2L1011.0 1108.9L1012.0 1108.7L1013.0 1108.0L1014.0 1107.6L1015.0 1108.2L1016.0 1108.8L1017.0 1108.6L1018.0 1108.7L1019.0 1109.0L1020.0 1109.2L1021.0 1109.5L1022.0 1109.4L1023.0 1109.3L1024.0 1109.8L1025.0 1110.8L1026.0 1110.8L1027.0 1110.8L1028.0 1111.2L1029.0 1111.0L1030.0 1110.9L1031.0 1111.1L1032.0 1111.5L1033.0 1112.0L1034.0 1112.4L1035.0 1112.4L1036.0 1112.3L1037.0 1112.6L1038.0 1112.9L1039.0 1113.2L1040.0 1113.9L1041.0 1114.1L1042.0 1113.7L1043.0 1113.5L1044.0 1113.7L1045.0 1113.7L1046.0 1114.0L1047.0 1114.2L1048.0 1114.0L1049.0 1113.8L1050.0 1114.5L1051.0 1115.3L1052.0 1114.9L1053.0 1114.7L1054.0 1115.2L1055.0 1115.4L1056.0 1115.1L1057.0 1114.3L1058.0 1114.8L1059.0 1116.1L1060.0 1115.5L1061.0 1114.8L1062.0 1115.1L1063.0 1115.1L1064.0 1114.7L1065.0 1114.8L1066.0 1115.1L1067.0 1115.3L1068.0 1115.0L1069.0 1114.6L1070.0 1113.9L1071.0 1113.9L1072.0 1114.5L1073.0 1114.4L1074.0 1114.8L1075.0 1115.5L1076.0 1115.2L1077.0 1115.1L1078.0 1115.1L1079.0 1115.2L1080.0 1115.0L1081.0 1115.0L1082.0 1115.3L1083.0 1114.8L1084.0 1114.2L1085.0 1114.6L1086.0 1114.8L1087.0 1114.7L1088.0 1115.1L1089.0 1115.8L1090.0 1115.8L1091.0 1115.1L1092.0 1114.6L1093.0 1114.1L1094.0 1114.2L1095.0 1114.8L1096.0 1114.9L1097.0 1114.7L1098.0 1114.4L1099.0 1114.2L1100.0 1114.3L1101.0 1114.6L1102.0 1114.9L1103.0 1115.0L1104.0 1115.1L1105.0 1114.6L1106.0 1113.5L1107.0 1113.4L1108.0 1113.6L1109.0 1113.8L1110.0 1114.2L1111.0 1114.2L1112.0 1113.7L1113.0 1113.7L1114.0 1113.8L1115.0 1113.3L1116.0 1113.1L1117.0 1113.4L1118.0 1113.5L1119.0 1113.5L1120.0 1113.2L1121.0 1112.7L1122.0 1112.0L1123.0 1111.6L1124.0 1111.2L1125.0 1110.8L1126.0 1111.5L1127.0 1112.1L1128.0 1111.6L1129.0 1111.4L1130.0 1111.5L1131.0 1111.4L1132.0 1111.7L1133.0 1111.9L1134.0 1111.5L1135.0 1111.0L1136.0 1110.6L1137.0 1110.3L1138.0 1110.0L1139.0 1110.0L1140.0 1109.6L1141.0 1108.8L1142.0 1108.9L1143.0 1109.1L1144.0 1108.6L1145.0 1108.3L1146.0 1108.3L1147.0 1108.6L1148.0 1108.9L1149.0 1108.9L1150.0 1108.2L1151.0 1107.5L1152.0 1107.5L1153.0 1107.9L1154.0 1107.3L1155.0 1106.3L1156.0 1106.0L1157.0 1105.9L1158.0 1106.2L1159.0 1106.4L1160.0 1106.2L1161.0 1106.0L1162.0 1105.3L1163.0 1104.6L1164.0 1104.6L1165.0 1104.4L1166.0 1103.5L1167.0 1102.4L1168.0 1101.8L1169.0 1101.4L1170.0 1100.3L1171.0 1098.9L1172.0 1097.8L1173.0 1096.7L1174.0 1095.9L1175.0 1095.3L1176.0 1094.1L1177.0 1092.8L1178.0 1090.9L1179.0 1088.7L1180.0 1087.4L1181.0 1086.9L1182.0 1085.3L1183.0 1082.7L1184.0 1081.3L1185.0 1081.2L1186.0 1080.5L1187.0 1080.0L1188.0 1080.0L1189.0 1079.5L1190.0 1079.1L1191.0 1080.0L1192.0 1080.9L1193.0 1081.6L1194.0 1082.2L1195.0 1082.5L1196.0 1083.0L1197.0 1083.6L1198.0 1084.8L1199.0 1087.0L1200.0 1089.5L1201.0 1091.9L1202.0 1093.8L1203.0 1094.7L1204.0 1095.9L1205.0 1098.4L1206.0 1100.1L1207.0 1100.6L1208.0 1101.6L1209.0 1103.5L1210.0 1104.7L1211.0 1105.1L1212.0 1105.8L1213.0 1106.3L1214.0 1106.6L1215.0 1107.3L1216.0 1108.2L1217.0 1108.6L1218.0 1108.3L1219.0 1108.6L1220.0 1109.7L1221.0 1109.9L1222.0 1109.7L1223.0 1109.9L1224.0 1110.2L1225.0 1110.2L1226.0 1110.6L1227.0 1111.2L1228.0 1111.3L1229.0 1110.9L1230.0 1110.9L1231.0 1111.8L1232.0 1112.2L1233.0 1111.7L1234.0 1111.6L1235.0 1111.9L1236.0 1112.3L1237.0 1112.7L1238.0 1112.6L1239.0 1112.7L1240.0 1112.6L1241.0 1112.5L1242.0 1112.2L1243.0 1112.1L1244.0 1112.3L1245.0 1112.6L1246.0 1113.1L1247.0 1113.6L1248.0 1113.8L1249.0 1114.0L1250.0 1113.6L1251.0 1112.9L1252.0 1113.4L1253.0 1113.9L1254.0 1113.6L1255.0 1113.5L1256.0 1114.3L1257.0 1115.0L1258.0 1114.9L1259.0 1114.6L1260.0 1114.8L1261.0 1115.4L1262.0 1115.8L1263.0 1115.6L1264.0 1115.1L1265.0 1114.9L1266.0 1115.0L1267.0 1115.0L1268.0 1115.0L1269.0 1115.2L1270.0 1114.9L1271.0 1114.9L1272.0 1115.2L1273.0 1115.2L1274.0 1114.8L1275.0 1114.8L1276.0 1115.5L1277.0 1115.9L1278.0 1115.8L1279.0 1116.1L1280.0 1116.0L1281.0 1116.2L1282.0 1116.7L1283.0 1116.6L1284.0 1116.9L1285.0 1117.1L1286.0 1116.5L1287.0 1116.1L1288.0 1116.3L1289.0 1116.7L1290.0 1116.4L1291.0 1116.3L1292.0 1117.2L1293.0 1117.2L1294.0 1116.8L1295.0 1117.1L1296.0 1117.7L1297.0 1118.4L1298.0 1118.0L1299.0 1116.9L1300.0 1116.4L1301.0 1116.4L1302.0 1116.7L1303.0 1117.0L1304.0 1117.2L1305.0 1116.7L1306.0 1116.0L1307.0 1116.5L1308.0 1117.5L1309.0 1117.6L1310.0 1117.0L1311.0 1116.7L1312.0 1116.7L1313.0 1116.4L1314.0 1116.2L1315.0 1116.6L1316.0 1116.7L1317.0 1116.1L1318.0 1115.7L1319.0 1116.5L1320.0 1116.8L1321.0 1116.3L1322.0 1116.9L1323.0 1117.0L1324.0 1116.0L1325.0 1116.0L1326.0 1116.8L1327.0 1117.0L1328.0 1116.7L1329.0 1116.3L1330.0 1116.2L1331.0 1116.4L1332.0 1116.4L1333.0 1116.2L1334.0 1115.6L1335.0 1115.2L1336.0 1115.7L1337.0 1116.1L1338.0 1115.5L1339.0 1115.4L1340.0 1116.2L1341.0 1116.8L1342.0 1117.4L1343.0 1117.4L1344.0 1116.8L1345.0 1115.9L1346.0 1115.0L1347.0 1114.9L1348.0 1115.3L1349.0 1115.2L1350.0 1114.7L1351.0 1114.6L1352.0 1115.0L1353.0 1115.6L1354.0 1115.5L1355.0 1114.9L1356.0 1114.8L1357.0 1114.7L1358.0 1114.3L1359.0 1113.8L1360.0 1113.6L1361.0 1114.2L1362.0 1114.4L1363.0 1114.0L1364.0 1113.7L1365.0 1113.7L1366.0 1113.7L1367.0 1112.6L1368.0 1111.3L1369.0 1111.1L1370.0 1111.6L1371.0 1111.6L1372.0 1111.1L1373.0 1110.5L1374.0 1109.4L1375.0 1108.2L1376.0 1107.4L1377.0 1106.8L1378.0 1106.5L1379.0 1106.1L1380.0 1105.9L1381.0 1105.1L1382.0 1104.3L1383.0 1104.5L1384.0 1104.0L1385.0 1102.9L1386.0 1102.7L1387.0 1102.6L1388.0 1102.1L1389.0 1101.8L1390.0 1101.6L1391.0 1101.4L1392.0 1100.9L1393.0 1100.6L1394.0 1100.8L1395.0 1101.0L1396.0 1100.7L1397.0 1100.3L1398.0 1100.3L1399.0 1100.6L1400.0 1101.0L1401.0 1101.6L1402.0 1102.0L1403.0 1102.3L1404.0 1102.6L1405.0 1103.3L1406.0 1104.2L1407.0 1104.3L1408.0 1103.9L1409.0 1104.1L1410.0 1104.2L1411.0 1104.3L1412.0 1104.3L1413.0 1104.1L1414.0 1103.5L1415.0 1103.5L1416.0 1104.6L1417.0 1105.1L1418.0 1104.6L1419.0 1104.4L1420.0 1104.2L1421.0 1103.9L1422.0 1103.4L1423.0 1103.2L1424.0 1102.5L1425.0 1101.8L1426.0 1102.0L1427.0 1101.6L1428.0 1100.8L1429.0 1101.1L1430.0 1101.3L1431.0 1100.9L1432.0 1100.6L1433.0 1100.0L1434.0 1099.5L1435.0 1099.5L1436.0 1100.2L1437.0 1101.3L1438.0 1101.2L1439.0 1100.3L1440.0 1100.2L1441.0 1100.9L1442.0 1101.2L1443.0 1101.1L1444.0 1101.8L1445.0 1103.2L1446.0 1103.4L1447.0 1102.6L1448.0 1102.7L1449.0 1103.8L1450.0 1105.1L1451.0 1105.8L1452.0 1105.8L1453.0 1105.9L1454.0 1107.1L1455.0 1108.0L1456.0 1108.2L1457.0 1108.6L1458.0 1109.2L1459.0 1109.4L1460.0 1109.4L1461.0 1109.8L1462.0 1110.3L1463.0 1111.2L1464.0 1111.5L1465.0 1111.3L1466.0 1112.0L1467.0 1112.3L1468.0 1111.7L1469.0 1112.4L1470.0 1113.1L1471.0 1112.6L1472.0 1112.4L1473.0 1112.6L1474.0 1112.6L1475.0 1112.2L1476.0 1112.3L1477.0 1113.2L1478.0 1113.9L1479.0 1114.3L1480.0 1114.6L1481.0 1114.9L1482.0 1115.0L1483.0 1114.6L1484.0 1114.1L1485.0 1114.9L1486.0 1116.4L1487.0 1116.4L1488.0 1115.6L1489.0 1115.4L1490.0 1115.2L1491.0 1115.2L1492.0 1115.5L1493.0 1115.1L1494.0 1115.2L1495.0 1115.4L1496.0 1114.6L1497.0 1114.3L1498.0 1114.2L1499.0 1114.3L1500.0 1114.8L1501.0 1115.0L1502.0 1114.9L1503.0 1114.8L1504.0 1114.7L1505.0 1114.6L1506.0 1114.5L1507.0 1114.7L1508.0 1115.0L1509.0 1115.0L1510.0 1115.2L1511.0 1115.2L1512.0 1115.4L1513.0 1115.9L1514.0 1115.3L1515.0 1114.7L1516.0 1114.6L1517.0 1114.3L1518.0 1114.9L1519.0 1115.1L1520.0 1114.8L1521.0 1115.2L1522.0 1115.9L1523.0 1116.3L1524.0 1116.3L1525.0 1116.7L1526.0 1116.5L1527.0 1115.5L1528.0 1115.5L1529.0 1116.1L1530.0 1116.0L1531.0 1115.7L1532.0 1115.4L1533.0 1115.1L1534.0 1115.1L1535.0 1114.9L1536.0 1114.8L1537.0 1115.7L1538.0 1116.9L1539.0 1116.9L1540.0 1116.2L1541.0 1116.0L1542.0 1116.4L1543.0 1116.7L1544.0 1116.2L1545.0 1115.7L1546.0 1115.9L1547.0 1116.9L1548.0 1117.2L1549.0 1115.8L1550.0 1115.1L1551.0 1115.9L1552.0 1116.2L1553.0 1116.3L1554.0 1116.6L1555.0 1116.1L1556.0 1115.0L1557.0 1114.9L1558.0 1115.4L1559.0 1115.6L1560.0 1115.7L1561.0 1115.5L1562.0 1115.4L1563.0 1115.3L1564.0 1115.6L1565.0 1116.0L1566.0 1116.6L1567.0 1116.9L1568.0 1116.2L1569.0 1116.2L1570.0 1117.0L1571.0 1117.0L1572.0 1116.7L1573.0 1117.0L1574.0 1117.3L1575.0 1117.2L1576.0 1117.0L1577.0 1116.6L1578.0 1116.0L1579.0 1115.8L1580.0 1116.2L1581.0 1116.4L1582.0 1116.5L1583.0 1116.5L1584.0 1116.4L1585.0 1115.8L1586.0 1115.8L1587.0 1116.6L1588.0 1116.7L1589.0 1116.3L1590.0 1116.6L1591.0 1116.8L1592.0 1116.2L1593.0 1115.4L1594.0 1115.4L1595.0 1116.3L1596.0 1116.9L1597.0 1116.4L1598.0 1115.9L1599.0 1115.9L1600.0 1116.2L1601.0 1116.1L1602.0 1115.1L1603.0 1115.0L1604.0 1116.3L1605.0 1116.6L1606.0 1116.6L1607.0 1117.1L1608.0 1116.8L1609.0 1115.9L1610.0 1116.3L1611.0 1117.0L1612.0 1116.5L1613.0 1116.6L1614.0 1117.0L1615.0 1116.5L1616.0 1116.1" stroke="#059005"/>
<path d="M166.0 1261.4L167.0 1261.3L168.0 1261.5L169.0 1261.5L170.0 1261.6L171.0 1261.4L172.0 1261.2L173.0 1261.2L174.0 1261.6L175.0 1262.5L176.0 1262.9L177.0 1262.7L178.0 1262.1L179.0 1261.9L180.0 1262.1L181.0 1262.0L182.0 1262.0L183.0 1262.2L184.0 1262.4L185.0 1262.4L186.0 1262.3L187.0 1261.9L188.0 1261.4L189.0 1261.0L190.0 1260.9L191.0 1261.2L192.0 1261.6L193.0 1261.6L194.0 1261.9L195.0 1262.7L196.0 1262.5L197.0 1262.3L198.0 1261.7L199.0 1260.5L200.0 1261.1L201.0 1261.5L202.0 1260.8L203.0 1261.0L204.0 1261.1L205.0 1261.0L206.0 1260.9L207.0 1260.6L208.0 1260.8L209.0 1260.9L210.0 1261.0L211.0 1262.2L212.0 1263.1L213.0 1262.3L214.0 1261.5L215.0 1261.1L216.0 1260.9L217.0 1261.5L218.0 1261.9L219.0 1261.7L220.0 1261.5L221.0 1261.7L222.0 1261.8L223.0 1261.0L224.0 1261.0L225.0 1261.4L226.0 1261.0L227.0 1260.3L228.0 1260.1L229.0 1260.6L230.0 1260.6L231.0 1260.1L232.0 1260.2L233.0 1261.1L234.0 1261.3L235.0 1260.6L236.0 1260.2L237.0 1260.8L238.0 1261.8L239.0 1261.5L240.0 1261.0L241.0 1261.6L242.0 1262.2L243.0 1261.3L244.0 1260.2L245.0 1260.1L246.0 1260.3L247.0 1260.0L248.0 1259.8L249.0 1259.8L250.0 1259.9L251.0 1260.3L252.0 1260.2L253.0 1259.3L254.0 1259.1L255.0 1259.9L256.0 1260.6L257.0 1260.6L258.0 1259.6L259.0 1258.6L260.0 1259.0L261.0 1259.6L262.0 1259.5L263.0 1259.4L264.0 1259.4L265.0 1260.2L266.0 1261.2L267.0 1260.8L268.0 1260.0L269.0 1259.8L270.0 1259.8L271.0 1259.8L272.0 1259.6L273.0 1259.9L274.0 1260.3L275.0 1260.3L276.0 1260.2L277.0 1260.3L278.0 1259.7L279.0 1258.7L280.0 1258.3L281.0 1258.7L282.0 1259.3L283.0 1259.7L284.0 1259.7L285.0 1259.0L286.0 1258.8L287.0 1259.5L288.0 1259.6L289.0 1259.1L290.0 1259.3L291.0 1259.6L292.0 1259.2L293.0 1258.3L294.0 1258.0L295.0 1258.8L296.0 1259.1L297.0 1258.5L298.0 1257.9L299.0 1257.5L300.0 1257.8L301.0 1258.2L302.0 1258.2L303.0 1257.9L304.0 1258.1L305.0 1258.2L306.0 1257.8L307.0 1257.3L308.0 1257.5L309.0 1257.8L310.0 1257.0L311.0 1256.1L312.0 1256.3L313.0 1256.3L314.0 1255.4L315.0 1255.1L316.0 1255.3L317.0 1255.2L318.0 1254.9L319.0 1253.9L320.0 1253.0L321.0 1253.4L322.0 1253.6L323.0 1252.6L324.0 1251.8L325.0 1251.0L326.0 1250.1L327.0 1249.5L328.0 1248.5L329.0 1246.7L330.0 1244.4L331.0 1242.3L332.0 1240.9L333.0 1240.2L334.0 1239.3L335.0 1238.3L336.0 1236.7L337.0 1234.4L338.0 1232.4L339.0 1231.0L340.0 1229.0L341.0 1226.0L342.0 1222.9L343.0 1219.0L344.0 1214.5L345.0 1209.0L346.0 1201.7L347.0 1193.6L348.0 1185.0L349.0 1174.7L350.0 1163.1L351.0 1151.3L352.0 1139.4L353.0 1128.0L354.0 1118.5L355.0 1111.9L356.0 1109.1L357.0 1110.3L358.0 1115.2L359.0 1123.4L360.0 1134.2L361.0 1147.0L362.0 1160.4L363.0 1172.4L364.0 1183.8L365.0 1194.4L366.0 1202.9L367.0 1210.9L368.0 1218.2L369.0 1224.1L370.0 1229.1L371.0 1234.0L372.0 1238.4L373.0 1241.2L374.0 1243.2L375.0 1244.6L376.0 1246.0L377.0 1247.9L378.0 1249.2L379.0 1249.7L380.0 1250.7L381.0 1251.5L382.0 1251.8L383.0 1252.1L384.0 1252.6L385.0 1253.3L386.0 1254.2L387.0 1254.8L388.0 1255.0L389.0 1254.9L390.0 1255.5L391.0 1255.8L392.0 1255.4L393.0 1255.8L394.0 1256.1L395.0 1255.6L396.0 1255.3L397.0 1255.0L398.0 1254.5L399.0 1254.4L400.0 1254.4L401.0 1254.5L402.0 1255.2L403.0 1254.8L404.0 1253.2L405.0 1253.6L406.0 1254.9L407.0 1255.5L408.0 1255.8L409.0 1256.3L410.0 1256.9L411.0 1257.6L412.0 1258.0L413.0 1257.9L414.0 1257.7L415.0 1257.4L416.0 1257.5L417.0 1258.2L418.0 1259.6L419.0 1260.4L420.0 1259.6L421.0 1258.8L422.0 1259.1L423.0 1259.6L424.0 1260.0L425.0 1260.5L426.0 1259.9L427.0 1259.3L428.0 1259.9L429.0 1260.0L430.0 1260.0L431.0 1260.6L432.0 1260.1L433.0 1259.2L434.0 1259.3L435.0 1260.2L436.0 1261.0L437.0 1261.1L438.0 1260.4L439.0 1260.4L440.0 1260.8L441.0 1260.8L442.0 1260.9L443.0 1260.7L444.0 1260.3L445.0 1260.2L446.0 1260.1L447.0 1259.8L448.0 1259.6L449.0 1259.6L450.0 1259.6L451.0 1259.7L452.0 1259.7L453.0 1259.3L454.0 1259.1L455.0 1259.4L456.0 1259.7L457.0 1259.0L458.0 1258.2L459.0 1258.2L460.0 1258.3L461.0 1257.9L462.0 1257.4L463.0 1257.1L464.0 1257.1L465.0 1256.9L466.0 1256.2L467.0 1255.1L468.0 1254.2L469.0 1254.0L470.0 1255.0L471.0 1255.6L472.0 1255.2L473.0 1254.6L474.0 1254.3L475.0 1253.7L476.0 1252.9L477.0 1252.2L478.0 1252.2L479.0 1252.7L480.0 1253.6L481.0 1253.9L482.0 1253.4L483.0 1253.5L484.0 1253.6L485.0 1253.1L486.0 1253.0L487.0 1253.4L488.0 1253.9L489.0 1254.6L490.0 1255.3L491.0 1255.7L492.0 1256.3L493.0 1256.6L494.0 1256.9L495.0 1257.2L496.0 1257.2L497.0 1257.8L498.0 1258.4L499.0 1258.1L500.0 1258.2L501.0 1259.0L502.0 1259.5L503.0 1260.1L504.0 1260.5L505.0 1260.4L506.0 1260.6L507.0 1261.1L508.0 1260.9L509.0 1260.6L510.0 1261.0L511.0 1261.5L512.0 1261.5L513.0 1261.5L514.0 1261.4L515.0 1261.3L516.0 1260.9L517.0 1261.1L518.0 1261.8L519.0 1261.8L520.0 1261.5L521.0 1261.3L522.0 1261.5L523.0 1262.4L524.0 1263.0L525.0 1262.1L526.0 1261.7L527.0 1262.6L528.0 1262.5L529.0 1261.6L530.0 1262.1L531.0 1262.5L532.0 1262.1L533.0 1262.3L534.0 1262.1L535.0 1261.8L536.0 1262.0L537.0 1261.9L538.0 1262.3L539.0 1263.1L540.0 1262.7L541.0 1262.3L542.0 1262.8L543.0 1263.1L544.0 1263.1L545.0 1262.9L546.0 1262.8L547.0 1262.8L548.0 1262.7L549.0 1262.6L550.0 1263.0L551.0 1263.3L552.0 1262.7L553.0 1262.3L554.0 1262.7L555.0 1263.1L556.0 1263.3L557.0 1263.1L558.0 1262.5L559.0 1262.7L560.0 1262.8L561.0 1262.8L562.0 1262.5L563.0 1262.2L564.0 1262.7L565.0 1262.8L566.0 1262.4L567.0 1263.0L568.0 1263.6L569.0 1263.4L570.0 1263.2L571.0 1263.0L572.0 1262.5L573.0 1262.5L574.0 1263.1L575.0 1263.9L576.0 1263.7L577.0 1263.4L578.0 1263.6L579.0 1263.3L580.0 1263.1L581.0 1263.2L582.0 1262.8L583.0 1262.9L584.0 1263.4L585.0 1263.2L586.0 1263.1L587.0 1263.1L588.0 1263.4L589.0 1263.6L590.0 1263.1L591.0 1262.8L592.0 1263.5L593.0 1263.8L594.0 1263.7L595.0 1264.2L596.0 1264.5L597.0 1264.3L598.0 1264.1L599.0 1264.1L600.0 1264.6L601.0 1265.5L602.0 1266.1L603.0 1265.7L604.0 1265.5L605.0 1265.3L606.0 1265.0L607.0 1265.1L608.0 1264.9L609.0 1264.9L610.0 1265.5L611.0 1265.9L612.0 1265.6L613.0 1265.0L614.0 1265.1L615.0 1265.2L616.0 1264.9L617.0 1264.9L618.0 1265.7L619.0 1265.8L620.0 1265.1L621.0 1264.8L622.0 1265.5L623.0 1266.4L624.0 1266.2L625.0 1266.0L626.0 1266.3L627.0 1266.4L628.0 1266.6L629.0 1266.8L630.0 1266.9L631.0 1266.7L632.0 1266.2L633.0 1266.3L634.0 1266.6L635.0 1266.7L636.0 1266.7L637.0 1266.5L638.0 1266.9L639.0 1267.2L640.0 1266.8L641.0 1266.6L642.0 1267.4L643.0 1267.8L644.0 1267.4L645.0 1267.2L646.0 1267.1L647.0 1267.5L648.0 1268.2L649.0 1268.3L650.0 1267.9L651.0 1267.3L652.0 1267.1L653.0 1267.8L654.0 1268.5L655.0 1269.0L656.0 1269.3L657.0 1269.0L658.0 1268.5L659.0 1268.3L660.0 1268.8L661.0 1269.3L662.0 1269.4L663.0 1269.2L664.0 1269.3L665.0 1269.3L666.0 1268.9L667.0 1269.2L668.0 1269.3L669.0 1268.5L670.0 1268.4L671.0 1269.0L672.0 1269.4L673.0 1269.6L674.0 1269.5L675.0 1269.2L676.0 1269.6L677.0 1269.9L678.0 1269.5L679.0 1269.1L680.0 1269.2L681.0 1270.2L682.0 1270.4L683.0 1269.8L684.0 1270.1L685.0 1270.3L686.0 1269.8L687.0 1269.5L688.0 1269.4L689.0 1269.6L690.0 1270.2L691.0 1270.6L692.0 1270.7L693.0 1270.8L694.0 1270.5L695.0 1270.4L696.0 1271.2L697.0 1271.3L698.0 1271.0L699.0 1271.5L700.0 1271.4L701.0 1271.4L702.0 1271.2L703.0 1270.0L704.0 1269.9L705.0 1271.0L706.0 1271.0L707.0 1271.1L708.0 1271.8L709.0 1271.6L710.0 1270.8L711.0 1271.1L712.0 1272.1L713.0 1272.1L714.0 1271.2L715.0 1271.3L716.0 1271.2L717.0 1270.9L718.0 1271.0L719.0 1271.0L720.0 1271.7L721.0 1272.7L722.0 1272.8L723.0 1272.7L724.0 1272.7L725.0 1272.7L726.0 1272.5L727.0 1272.0L728.0 1272.2L729.0 1272.6L730.0 1272.3L731.0 1272.5L732.0 1273.4L733.0 1273.4L734.0 1272.6L735.0 1272.4L736.0 1272.9L737.0 1272.9L738.0 1272.7L739.0 1273.1L740.0 1273.3L741.0 1273.7L742.0 1274.6L743.0 1274.4L744.0 1273.9L745.0 1274.3L746.0 1274.8L747.0 1274.0L748.0 1273.0L749.0 1273.0L750.0 1273.0L751.0 1272.8L752.0 1273.0L753.0 1273.1L754.0 1272.8L755.0 1272.8L756.0 1272.7L757.0 1272.4L758.0 1272.6L759.0 1272.7L760.0 1272.0L761.0 1271.6L762.0 1271.8L763.0 1271.2L764.0 1270.9L765.0 1271.1L766.0 1270.6L767.0 1269.7L768.0 1268.9L769.0 1269.0L770.0 1269.2L771.0 1268.9L772.0 1268.1L773.0 1267.6L774.0 1267.0L775.0 1265.9L776.0 1265.7L777.0 1265.7L778.0 1265.1L779.0 1264.8L780.0 1264.8L781.0 1264.6L782.0 1264.2L783.0 1264.3L784.0 1264.6L785.0 1264.7L786.0 1264.9L787.0 1265.1L788.0 1265.5L789.0 1266.1L790.0 1266.7L791.0 1266.6L792.0 1266.3L793.0 1266.7L794.0 1266.9L795.0 1267.0L796.0 1267.4L797.0 1267.3L798.0 1266.4L799.0 1265.3L800.0 1264.6L801.0 1263.7L802.0 1262.2L803.0 1261.0L804.0 1259.6L805.0 1257.8L806.0 1255.9L807.0 1254.1L808.0 1252.5L809.0 1250.6L810.0 1249.8L811.0 1249.8L812.0 1249.1L813.0 1249.2L814.0 1250.8L815.0 1251.4L816.0 1252.2L817.0 1255.0L818.0 1257.7L819.0 1259.6L820.0 1261.2L821.0 1262.1L822.0 1262.8L823.0 1263.5L824.0 1264.8L825.0 1266.0L826.0 1266.2L827.0 1265.6L828.0 1265.1L829.0 1265.2L830.0 1265.5L831.0 1265.8L832.0 1265.7L833.0 1265.4L834.0 1265.5L835.0 1265.7L836.0 1265.3L837.0 1265.8L838.0 1266.8L839.0 1266.3L840.0 1265.9L841.0 1266.9L842.0 1267.9L843.0 1267.8L844.0 1267.6L845.0 1268.0L846.0 1268.9L847.0 1270.4L848.0 1270.9L849.0 1271.0L850.0 1271.9L851.0 1272.1L852.0 1272.4L853.0 1273.2L854.0 1273.0L855.0 1272.9L856.0 1274.3L857.0 1275.2L858.0 1275.2L859.0 1274.7L860.0 1274.5L861.0 1275.3L862.0 1276.0L863.0 1276.1L864.0 1275.8L865.0 1275.4L866.0 1275.7L867.0 1275.6L868.0 1274.6L869.0 1274.2L870.0 1274.8L871.0 1275.5L872.0 1275.8L873.0 1275.6L874.0 1275.6L875.0 1275.7L876.0 1275.9L877.0 1276.2L878.0 1276.2L879.0 1276.0L880.0 1275.9L881.0 1276.0L882.0 1276.1L883.0 1276.3L884.0 1276.6L885.0 1276.5L886.0 1276.0L887.0 1275.8L888.0 1275.9L889.0 1276.2L890.0 1276.1L891.0 1275.7L892.0 1275.6L893.0 1276.0L894.0 1276.5L895.0 1276.8L896.0 1276.9L897.0 1276.0L898.0 1275.4L899.0 1275.4L900.0 1275.2L901.0 1275.6L902.0 1276.7L903.0 1276.8L904.0 1276.2L905.0 1276.0L906.0 1275.9L907.0 1275.8L908.0 1276.3L909.0 1276.9L910.0 1277.1L911.0 1276.7L912.0 1276.6L913.0 1276.8L914.0 1276.7L915.0 1276.6L916.0 1276.7L917.0 1276.4L918.0 1276.2L919.0 1276.5L920.0 1277.0L921.0 1277.4L922.0 1277.7L923.0 1276.9L924.0 1275.7L925.0 1275.6L926.0 1275.7L927.0 1276.3L928.0 1276.7L929.0 1276.1L930.0 1276.0L931.0 1276.6L932.0 1277.1L933.0 1277.6L934.0 1277.5L935.0 1277.6L936.0 1277.7L937.0 1277.1L938.0 1276.6L939.0 1276.6L940.0 1277.1L941.0 1277.8L942.0 1277.8L943.0 1277.1L944.0 1276.5L945.0 1276.2L946.0 1276.3L947.0 1277.1L948.0 1277.2L949.0 1275.8L950.0 1275.9L951.0 1276.9L952.0 1276.8L953.0 1276.6L954.0 1276.8L955.0 1277.4L956.0 1277.7L957.0 1277.6L958.0 1277.6L959.0 1277.5L960.0 1277.8L961.0 1278.4L962.0 1277.9L963.0 1277.0L964.0 1276.6L965.0 1276.9L966.0 1277.1L967.0 1277.1L968.0 1277.1L969.0 1277.4L970.0 1277.5L971.0 1277.4L972.0 1277.5L973.0 1277.2L974.0 1277.2L975.0 1277.8L976.0 1277.9L977.0 1277.7L978.0 1277.9L979.0 1278.0L980.0 1277.9L981.0 1277.5L982.0 1276.8L983.0 1276.5L984.0 1276.9L985.0 1277.0L986.0 1277.5L987.0 1277.8L988.0 1276.9L989.0 1277.0L990.0 1277.8L991.0 1278.0L992.0 1277.4L993.0 1276.4L994.0 1276.2L995.0 1276.7L996.0 1276.9L997.0 1277.1L998.0 1276.7L999.0 1276.1L1000.0 1275.8L1001.0 1275.3L1002.0 1274.8L1003.0 1274.3L1004.0 1273.8L1005.0 1273.5L1006.0 1272.9L1007.0 1271.8L1008.0 1271.4L1009.0 1271.8L1010.0 1271.5L1011.0 1270.8L1012.0 1270.5L1013.0 1271.0L1014.0 1271.5L1015.0 1271.6L1016.0 1272.0L1017.0 1272.3L1018.0 1272.6L1019.0 1273.1L1020.0 1273.6L1021.0 1274.6L1022.0 1275.1L1023.0 1274.8L1024.0 1275.3L1025.0 1276.7L1026.0 1277.1L1027.0 1276.5L1028.0 1276.4L1029.0 1276.7L1030.0 1277.1L1031.0 1277.2L1032.0 1276.8L1033.0 1276.7L1034.0 1277.0L1035.0 1277.9L1036.0 1278.2L1037.0 1277.7L1038.0 1277.7L1039.0 1277.8L1040.0 1277.1L1041.0 1276.8L1042.0 1277.3L1043.0 1277.3L1044.0 1277.1L1045.0 1277.3L1046.0 1276.5L1047.0 1275.6L1048.0 1275.7L1049.0 1276.2L1050.0 1276.3L1051.0 1275.6L1052.0 1274.9L1053.0 1274.8L1054.0 1274.2L1055.0 1273.5L1056.0 1273.5L1057.0 1273.9L1058.0 1274.7L1059.0 1274.7L1060.0 1273.5L1061.0 1273.0L1062.0 1273.4L1063.0 1273.8L1064.0 1274.3L1065.0 1275.2L1066.0 1275.6L1067.0 1275.0L1068.0 1274.6L1069.0 1275.4L1070.0 1276.9L1071.0 1277.3L1072.0 1276.2L1073.0 1276.1L1074.0 1277.2L1075.0 1278.1L1076.0 1278.2L1077.0 1278.1L1078.0 1278.1L1079.0 1277.9L1080.0 1278.0L1081.0 1278.6L1082.0 1278.0L1083.0 1277.3L1084.0 1277.1L1085.0 1277.2L1086.0 1277.9L1087.0 1278.2L1088.0 1277.9L1089.0 1278.7L1090.0 1279.3L1091.0 1278.4L1092.0 1277.4L1093.0 1277.4L1094.0 1277.5L1095.0 1277.2L1096.0 1277.2L1097.0 1277.7L1098.0 1278.1L1099.0 1278.1L1100.0 1278.2L1101.0 1279.0L1102.0 1279.3L1103.0 1278.7L1104.0 1278.5L1105.0 1278.7L1106.0 1278.8L1107.0 1279.2L1108.0 1278.9L1109.0 1277.9L1110.0 1278.2L1111.0 1279.1L1112.0 1279.0L1113.0 1278.4L1114.0 1278.3L1115.0 1278.1L1116.0 1277.8L1117.0 1277.8L1118.0 1277.7L1119.0 1277.9L1120.0 1278.1L1121.0 1278.0L1122.0 1278.3L1123.0 1278.5L1124.0 1278.7L1125.0 1279.0L1126.0 1279.0L1127.0 1278.8L1128.0 1278.5L1129.0 1278.3L1130.0 1278.1L1131.0 1277.7L1132.0 1277.9L1133.0 1278.3L1134.0 1278.3L1135.0 1278.0L1136.0 1277.9L1137.0 1278.2L1138.0 1278.1L1139.0 1277.9L1140.0 1278.2L1141.0 1278.2L1142.0 1277.6L1143.0 1276.8L1144.0 1276.6L1145.0 1276.8L1146.0 1277.1L1147.0 1277.9L1148.0 1277.8L1149.0 1276.5L1150.0 1276.4L1151.0 1277.4L1152.0 1277.9L1153.0 1277.6L1154.0 1277.4L1155.0 1277.4L1156.0 1277.5L1157.0 1277.7L1158.0 1276.9L1159.0 1275.8L1160.0 1275.7L1161.0 1275.7L1162.0 1275.3L1163.0 1275.0L1164.0 1274.6L1165.0 1274.4L1166.0 1274.3L1167.0 1273.4L1168.0 1272.3L1169.0 1271.6L1170.0 1271.5L1171.0 1271.0L1172.0 1269.4L1173.0 1267.5L1174.0 1264.6L1175.0 1261.3L1176.0 1258.7L1177.0 1255.3L1178.0 1251.2L1179.0 1248.0L1180.0 1244.7L1181.0 1240.3L1182.0 1237.1L1183.0 1235.7L1184.0 1234.3L1185.0 1233.7L1186.0 1235.4L1187.0 1238.0L1188.0 1241.1L1189.0 1244.3L1190.0 1246.7L1191.0 1249.3L1192.0 1251.3L1193.0 1252.0L1194.0 1253.2L1195.0 1254.2L1196.0 1254.3L1197.0 1254.6L1198.0 1255.5L1199.0 1256.8L1200.0 1258.3L1201.0 1260.4L1202.0 1262.3L1203.0 1263.6L1204.0 1265.2L1205.0 1267.1L1206.0 1268.4L1207.0 1269.8L1208.0 1271.7L1209.0 1273.0L1210.0 1273.6L1211.0 1274.0L1212.0 1275.5L1213.0 1276.8L1214.0 1276.4L1215.0 1275.8L1216.0 1276.3L1217.0 1276.9L1218.0 1277.2L1219.0 1277.4L1220.0 1277.6L1221.0 1277.6L1222.0 1277.6L1223.0 1277.7L1224.0 1278.1L1225.0 1278.5L1226.0 1278.4L1227.0 1278.3L1228.0 1278.1L1229.0 1278.0L1230.0 1278.6L1231.0 1278.9L1232.0 1278.9L1233.0 1278.8L1234.0 1278.4L1235.0 1278.7L1236.0 1279.4L1237.0 1279.3L1238.0 1278.4L1239.0 1278.5L1240.0 1278.9L1241.0 1278.9L1242.0 1279.1L1243.0 1279.1L1244.0 1279.7L1245.0 1280.7L1246.0 1280.8L1247.0 1279.8L1248.0 1279.1L1249.0 1279.3L1250.0 1279.6L1251.0 1279.8L1252.0 1279.8L1253.0 1279.2L1254.0 1279.4L1255.0 1279.6L1256.0 1279.8L1257.0 1280.0L1258.0 1279.6L1259.0 1279.5L1260.0 1279.3L1261.0 1278.5L1262.0 1278.5L1263.0 1279.3L1264.0 1280.3L1265.0 1280.7L1266.0 1280.5L1267.0 1279.7L1268.0 1279.1L1269.0 1279.5L1270.0 1280.1L1271.0 1280.8L1272.0 1281.5L1273.0 1281.6L1274.0 1281.2L1275.0 1280.5L1276.0 1279.9L1277.0 1279.7L1278.0 1279.9L1279.0 1280.1L1280.0 1279.9L1281.0 1279.7L1282.0 1279.8L1283.0 1280.0L1284.0 1280.3L1285.0 1280.3L1286.0 1280.1L1287.0 1280.3L1288.0 1280.7L1289.0 1280.7L1290.0 1281.3L1291.0 1281.1L1292.0 1279.6L1293.0 1279.4L1294.0 1280.5L1295.0 1280.9L1296.0 1280.7L1297.0 1280.4L1298.0 1280.4L1299.0 1280.4L1300.0 1280.3L1301.0 1280.0L1302.0 1279.0L1303.0 1279.4L1304.0 1281.0L1305.0 1280.9L1306.0 1280.7L1307.0 1281.6L1308.0 1281.8L1309.0 1281.2L1310.0 1280.7L1311.0 1280.8L1312.0 1280.5L1313.0 1279.9L1314.0 1280.3L1315.0 1280.7L1316.0 1281.2L1317.0 1281.1L1318.0 1280.2L1319.0 1279.9L1320.0 1280.4L1321.0 1280.5L1322.0 1280.1L1323.0 1280.1L1324.0 1280.5L1325.0 1280.7L1326.0 1280.7L1327.0 1280.2L1328.0 1279.2L1329.0 1279.1L1330.0 1279.8L1331.0 1279.8L1332.0 1279.5L1333.0 1279.2L1334.0 1278.8L1335.0 1278.5L1336.0 1278.3L1337.0 1278.6L1338.0 1279.5L1339.0 1280.3L1340.0 1280.1L1341.0 1279.5L1342.0 1279.6L1343.0 1279.5L1344.0 1279.1L1345.0 1278.9L1346.0 1279.5L1347.0 1280.2L1348.0 1279.2L1349.0 1278.3L1350.0 1279.5L1351.0 1280.1L1352.0 1279.8L1353.0 1280.2L1354.0 1279.8L1355.0 1279.0L1356.0 1278.5L1357.0 1278.0L1358.0 1277.6L1359.0 1277.1L1360.0 1277.4L1361.0 1278.0L1362.0 1278.0L1363.0 1278.1L1364.0 1278.1L1365.0 1277.7L1366.0 1277.6L1367.0 1277.5L1368.0 1277.3L1369.0 1277.3L1370.0 1277.0L1371.0 1276.2L1372.0 1275.7L1373.0 1275.8L1374.0 1276.4L1375.0 1276.8L1376.0 1276.5L1377.0 1275.7L1378.0 1275.0L1379.0 1274.3L1380.0 1273.7L1381.0 1272.8L1382.0 1271.6L1383.0 1270.5L1384.0 1269.9L1385.0 1269.1L1386.0 1267.3L1387.0 1265.8L1388.0 1265.0L1389.0 1264.5L1390.0 1263.7L1391.0 1261.2L1392.0 1259.5L1393.0 1259.7L1394.0 1259.4L1395.0 1258.4L1396.0 1258.6L1397.0 1258.7L1398.0 1258.9L1399.0 1260.5L1400.0 1261.9L1401.0 1262.5L1402.0 1263.1L1403.0 1264.1L1404.0 1265.6L1405.0 1267.0L1406.0 1268.2L1407.0 1269.8L1408.0 1270.2L1409.0 1270.6L1410.0 1272.2L1411.0 1273.0L1412.0 1273.0L1413.0 1273.3L1414.0 1273.4L1415.0 1273.7L1416.0 1273.5L1417.0 1274.4L1418.0 1275.9L1419.0 1276.2L1420.0 1275.2L1421.0 1274.9L1422.0 1275.3L1423.0 1275.1L1424.0 1274.8L1425.0 1274.2L1426.0 1273.5L1427.0 1272.7L1428.0 1271.8L1429.0 1271.3L1430.0 1270.0L1431.0 1268.6L1432.0 1268.0L1433.0 1267.4L1434.0 1266.3L1435.0 1264.7L1436.0 1263.3L1437.0 1261.8L1438.0 1259.8L1439.0 1257.5L1440.0 1256.0L1441.0 1255.8L1442.0 1256.4L1443.0 1257.0L1444.0 1257.4L1445.0 1258.3L1446.0 1259.0L1447.0 1259.6L1448.0 1260.5L1449.0 1262.4L1450.0 1265.2L1451.0 1266.7L1452.0 1267.2L1453.0 1268.7L1454.0 1270.8L1455.0 1272.1L1456.0 1272.5L1457.0 1273.5L1458.0 1274.3L1459.0 1274.1L1460.0 1274.7L1461.0 1275.6L1462.0 1276.6L1463.0 1277.9L1464.0 1278.1L1465.0 1277.5L1466.0 1277.5L1467.0 1278.2L1468.0 1278.4L1469.0 1278.0L1470.0 1277.6L1471.0 1277.6L1472.0 1278.3L1473.0 1279.2L1474.0 1279.5L1475.0 1279.5L1476.0 1279.2L1477.0 1278.7L1478.0 1278.9L1479.0 1279.6L1480.0 1279.4L1481.0 1279.0L1482.0 1279.4L1483.0 1279.9L1484.0 1279.8L1485.0 1279.4L1486.0 1279.2L1487.0 1279.8L1488.0 1280.3L1489.0 1279.7L1490.0 1279.2L1491.0 1279.2L1492.0 1279.0L1493.0 1279.3L1494.0 1279.7L1495.0 1280.0L1496.0 1280.1L1497.0 1280.6L1498.0 1280.9L1499.0 1279.8L1500.0 1279.3L1501.0 1279.6L1502.0 1279.7L1503.0 1279.5L1504.0 1279.5L1505.0 1279.7L1506.0 1279.2L1507.0 1278.5L1508.0 1279.0L1509.0 1279.8L1510.0 1279.9L1511.0 1279.2L1512.0 1279.0L1513.0 1279.4L1514.0 1279.0L1515.0 1278.9L1516.0 1279.1L1517.0 1279.0L1518.0 1278.2L1519.0 1277.8L1520.0 1277.9L1521.0 1277.4L1522.0 1277.3L1523.0 1277.9L1524.0 1277.2L1525.0 1275.9L1526.0 1275.4L1527.0 1275.3L1528.0 1274.6L1529.0 1274.4L1530.0 1275.2L1531.0 1275.6L1532.0 1275.2L1533.0 1275.0L1534.0 1275.4L1535.0 1275.6L1536.0 1275.4L1537.0 1275.6L1538.0 1276.2L1539.0 1277.0L1540.0 1277.1L1541.0 1276.8L1542.0 1277.6L1543.0 1278.6L1544.0 1278.4L1545.0 1278.4L1546.0 1279.0L1547.0 1279.6L1548.0 1279.6L1549.0 1279.1L1550.0 1279.1L1551.0 1279.7L1552.0 1280.5L1553.0 1280.4L1554.0 1280.2L1555.0 1280.7L1556.0 1280.4L1557.0 1280.0L1558.0 1280.2L1559.0 1280.2L1560.0 1280.1L1561.0 1280.3L1562.0 1280.5L1563.0 1280.1L1564.0 1280.0L1565.0 1280.6L1566.0 1281.1L1567.0 1281.5L1568.0 1281.6L1569.0 1281.4L1570.0 1281.5L1571.0 1281.6L1572.0 1281.0L1573.0 1280.6L1574.0 1280.4L1575.0 1279.9L1576.0 1280.4L1577.0 1281.1L1578.0 1281.3L1579.0 1281.9L1580.0 1281.9L1581.0 1281.4L1582.0 1281.4L1583.0 1281.6L1584.0 1281.2L1585.0 1281.2L1586.0 1281.7L1587.0 1282.3L1588.0 1282.4L1589.0 1281.3L1590.0 1280.7L1591.0 1281.6L1592.0 1282.2L1593.0 1282.1L1594.0 1282.6L1595.0 1282.5L1596.0 1281.5L1597.0 1280.9L1598.0 1281.0L1599.0 1281.7L1600.0 1282.2L1601.0 1281.8L1602.0 1281.0L1603.0 1280.7L1604.0 1280.4L1605.0 1280.3L1606.0 1280.3L1607.0 1280.6L1608.0 1281.4L1609.0 1282.0L1610.0 1282.1L1611.0 1281.7L1612.0 1281.4L1613.0 1281.7L1614.0 1282.0L1615.0 1281.8L1616.0 1281.8" stroke="#0134b4"/>
<path d="M166.0 1430.7L167.0 1430.7L168.0 1430.7L169.0 1430.8L170.0 1431.0L171.0 1430.8L172.0 1430.7L173.0 1431.1L174.0 1431.9L175.0 1431.9L176.0 1431.1L177.0 1430.8L178.0 1430.9L179.0 1431.4L180.0 1432.4L181.0 1432.6L182.0 1432.0L183.0 1431.9L184.0 1431.9L185.0 1432.1L186.0 1432.5L187.0 1432.6L188.0 1432.3L189.0 1432.1L190.0 1432.2L191.0 1432.6L192.0 1432.5L193.0 1431.8L194.0 1431.5L195.0 1431.5L196.0 1431.6L197.0 1432.2L198.0 1433.4L199.0 1434.2L200.0 1433.6L201.0 1432.6L202.0 1432.3L203.0 1432.5L204.0 1433.2L205.0 1433.8L206.0 1433.8L207.0 1433.6L208.0 1432.9L209.0 1431.8L210.0 1431.9L211.0 1433.0L212.0 1433.9L213.0 1434.1L214.0 1433.7L215.0 1433.6L216.0 1434.0L217.0 1434.2L218.0 1433.7L219.0 1433.5L220.0 1434.2L221.0 1434.4L222.0 1433.9L223.0 1433.5L224.0 1433.3L225.0 1432.8L226.0 1432.8L227.0 1433.5L228.0 1434.1L229.0 1434.8L230.0 1435.1L231.0 1435.1L232.0 1435.1L233.0 1434.8L234.0 1434.5L235.0 1434.2L236.0 1434.3L237.0 1434.5L238.0 1434.7L239.0 1434.6L240.0 1434.1L241.0 1434.3L242.0 1434.6L243.0 1434.9L244.0 1435.1L245.0 1434.9L246.0 1434.6L247.0 1434.7L248.0 1435.0L249.0 1435.2L250.0 1435.0L251.0 1435.1L252.0 1435.4L253.0 1435.5L254.0 1435.7L255.0 1435.7L256.0 1435.7L257.0 1435.8L258.0 1435.9L259.0 1436.1L260.0 1436.4L261.0 1436.5L262.0 1436.6L263.0 1436.6L264.0 1436.2L265.0 1436.3L266.0 1435.9L267.0 1435.4L268.0 1435.8L269.0 1436.4L270.0 1436.6L271.0 1436.2L272.0 1436.0L273.0 1435.7L274.0 1435.4L275.0 1435.7L276.0 1436.1L277.0 1436.9L278.0 1437.2L279.0 1436.1L280.0 1435.4L281.0 1435.8L282.0 1436.4L283.0 1436.4L284.0 1435.8L285.0 1435.3L286.0 1435.4L287.0 1435.9L288.0 1436.3L289.0 1435.8L290.0 1435.3L291.0 1435.2L292.0 1434.9L293.0 1435.0L294.0 1435.2L295.0 1435.0L296.0 1435.3L297.0 1435.8L298.0 1435.2L299.0 1434.3L300.0 1434.5L301.0 1434.8L302.0 1434.4L303.0 1434.2L304.0 1434.3L305.0 1434.2L306.0 1433.8L307.0 1433.3L308.0 1433.1L309.0 1432.9L310.0 1433.0L311.0 1433.2L312.0 1432.7L313.0 1432.1L314.0 1431.9L315.0 1431.4L316.0 1430.8L317.0 1430.1L318.0 1429.1L319.0 1428.2L320.0 1427.9L321.0 1427.5L322.0 1426.1L323.0 1424.5L324.0 1423.5L325.0 1422.7L326.0 1421.1L327.0 1418.5L328.0 1416.2L329.0 1413.9L330.0 1411.2L331.0 1408.4L332.0 1405.4L333.0 1402.9L334.0 1400.0L335.0 1397.0L336.0 1395.0L337.0 1392.8L338.0 1389.7L339.0 1386.5L340.0 1383.9L341.0 1381.6L342.0 1379.0L343.0 1374.8L344.0 1368.8L345.0 1362.6L346.0 1355.4L347.0 1346.2L348.0 1334.7L349.0 1321.4L350.0 1307.1L351.0 1291.5L352.0 1275.3L353.0 1259.2L354.0 1243.9L355.0 1230.5L356.0 1221.2L357.0 1217.8L358.0 1219.1L359.0 1224.8L360.0 1234.8L361.0 1249.0L362.0 1266.2L363.0 1284.9L364.0 1303.3L365.0 1319.6L366.0 1334.3L367.0 1348.5L368.0 1361.0L369.0 1371.5L370.0 1380.9L371.0 1388.5L372.0 1394.4L373.0 1399.8L374.0 1405.1L375.0 1409.1L376.0 1411.5L377.0 1414.0L378.0 1416.4L379.0 1418.3L380.0 1420.8L381.0 1422.4L382.0 1423.9L383.0 1425.0L384.0 1424.8L385.0 1425.8L386.0 1427.6L387.0 1427.9L388.0 1428.1L389.0 1429.0L390.0 1430.1L391.0 1430.6L392.0 1430.4L393.0 1430.4L394.0 1430.9L395.0 1431.7L396.0 1432.3L397.0 1432.6L398.0 1432.8L399.0 1432.5L400.0 1433.1L401.0 1434.1L402.0 1434.1L403.0 1433.5L404.0 1433.0L405.0 1433.1L406.0 1433.6L407.0 1434.0L408.0 1433.7L409.0 1433.3L410.0 1433.8L411.0 1434.7L412.0 1434.8L413.0 1434.1L414.0 1433.9L415.0 1433.9L416.0 1435.1L417.0 1436.6L418.0 1435.9L419.0 1434.9L420.0 1434.6L421.0 1434.2L422.0 1434.3L423.0 1434.9L424.0 1435.7L425.0 1435.8L426.0 1435.3L427.0 1435.8L428.0 1436.0L429.0 1435.3L430.0 1435.3L431.0 1435.4L432.0 1436.1L433.0 1436.7L434.0 1436.3L435.0 1435.9L436.0 1435.8L437.0 1436.3L438.0 1436.6L439.0 1436.2L440.0 1436.1L441.0 1436.4L442.0 1436.2L443.0 1435.6L444.0 1435.6L445.0 1435.9L446.0 1436.4L447.0 1436.8L448.0 1436.8L449.0 1436.5L450.0 1435.8L451.0 1435.4L452.0 1435.4L453.0 1435.7L454.0 1435.9L455.0 1435.4L456.0 1435.1L457.0 1435.2L458.0 1435.4L459.0 1435.5L460.0 1435.6L461.0 1435.7L462.0 1434.9L463.0 1434.0L464.0 1433.8L465.0 1434.0L466.0 1434.7L467.0 1434.9L468.0 1434.2L469.0 1433.4L470.0 1432.2L471.0 1431.6L472.0 1432.0L473.0 1431.9L474.0 1431.5L475.0 1431.8L476.0 1432.0L477.0 1432.2L478.0 1432.3L479.0 1431.6L480.0 1430.8L481.0 1430.6L482.0 1430.4L483.0 1430.2L484.0 1430.7L485.0 1430.7L486.0 1430.0L487.0 1430.5L488.0 1431.8L489.0 1431.6L490.0 1431.3L491.0 1431.7L492.0 1431.5L493.0 1431.3L494.0 1431.3L495.0 1431.3L496.0 1431.4L497.0 1431.5L498.0 1432.3L499.0 1432.6L500.0 1432.8L501.0 1433.5L502.0 1433.7L503.0 1434.0L504.0 1434.3L505.0 1434.4L506.0 1435.1L507.0 1436.3L508.0 1436.8L509.0 1436.8L510.0 1436.8L511.0 1436.6L512.0 1436.4L513.0 1436.5L514.0 1436.9L515.0 1437.0L516.0 1436.7L517.0 1436.4L518.0 1437.0L519.0 1437.6L520.0 1437.6L521.0 1437.7L522.0 1437.6L523.0 1437.2L524.0 1437.2L525.0 1437.5L526.0 1437.8L527.0 1438.3L528.0 1438.5L529.0 1437.7L530.0 1437.4L531.0 1438.3L532.0 1438.5L533.0 1439.1L534.0 1440.2L535.0 1440.1L536.0 1439.6L537.0 1439.4L538.0 1439.3L539.0 1439.2L540.0 1438.7L541.0 1438.4L542.0 1439.0L543.0 1440.0L544.0 1440.0L545.0 1439.4L546.0 1439.5L547.0 1439.6L548.0 1439.6L549.0 1439.5L550.0 1439.6L551.0 1439.4L552.0 1439.1L553.0 1439.3L554.0 1439.3L555.0 1438.8L556.0 1439.0L557.0 1439.8L558.0 1439.2L559.0 1438.0L560.0 1437.4L561.0 1437.6L562.0 1438.9L563.0 1439.7L564.0 1439.1L565.0 1438.7L566.0 1439.0L567.0 1439.8L568.0 1440.2L569.0 1440.3L570.0 1440.8L571.0 1441.1L572.0 1440.5L573.0 1439.5L574.0 1438.9L575.0 1438.7L576.0 1439.3L577.0 1440.3L578.0 1440.3L579.0 1440.1L580.0 1440.6L581.0 1440.9L582.0 1440.6L583.0 1440.6L584.0 1440.6L585.0 1439.8L586.0 1439.6L587.0 1440.1L588.0 1440.1L589.0 1440.1L590.0 1440.5L591.0 1440.8L592.0 1440.9L593.0 1440.6L594.0 1440.6L595.0 1440.9L596.0 1441.0L597.0 1441.0L598.0 1441.1L599.0 1441.2L600.0 1440.5L601.0 1440.1L602.0 1440.9L603.0 1441.5L604.0 1441.0L605.0 1440.7L606.0 1440.9L607.0 1441.2L608.0 1441.3L609.0 1441.1L610.0 1441.0L611.0 1441.9L612.0 1441.9L613.0 1441.6L614.0 1442.1L615.0 1442.5L616.0 1442.2L617.0 1441.9L618.0 1442.3L619.0 1441.8L620.0 1441.1L621.0 1441.7L622.0 1441.8L623.0 1441.4L624.0 1441.3L625.0 1441.3L626.0 1441.9L627.0 1442.2L628.0 1442.4L629.0 1442.9L630.0 1442.5L631.0 1441.9L632.0 1441.8L633.0 1442.5L634.0 1442.9L635.0 1442.3L636.0 1442.2L637.0 1442.9L638.0 1443.0L639.0 1443.3L640.0 1443.5L641.0 1442.8L642.0 1442.3L643.0 1442.1L644.0 1442.6L645.0 1443.5L646.0 1443.5L647.0 1443.0L648.0 1443.5L649.0 1443.8L650.0 1444.0L651.0 1444.4L652.0 1443.7L653.0 1443.1L654.0 1443.0L655.0 1443.1L656.0 1444.1L657.0 1444.3L658.0 1443.8L659.0 1444.0L660.0 1444.6L661.0 1444.7L662.0 1443.7L663.0 1442.7L664.0 1442.6L665.0 1443.0L666.0 1443.2L667.0 1443.7L668.0 1444.2L669.0 1443.8L670.0 1443.9L671.0 1444.5L672.0 1444.5L673.0 1444.6L674.0 1444.6L675.0 1443.8L676.0 1444.3L677.0 1445.4L678.0 1444.8L679.0 1444.0L680.0 1444.1L681.0 1444.1L682.0 1443.9L683.0 1444.3L684.0 1444.7L685.0 1445.0L686.0 1444.7L687.0 1443.9L688.0 1444.1L689.0 1444.9L690.0 1445.3L691.0 1445.6L692.0 1445.2L693.0 1444.7L694.0 1444.9L695.0 1445.0L696.0 1445.5L697.0 1446.5L698.0 1446.7L699.0 1446.1L700.0 1445.9L701.0 1446.0L702.0 1445.4L703.0 1444.5L704.0 1444.9L705.0 1445.8L706.0 1445.8L707.0 1445.7L708.0 1446.3L709.0 1446.6L710.0 1446.1L711.0 1445.8L712.0 1445.8L713.0 1446.3L714.0 1447.0L715.0 1446.9L716.0 1446.0L717.0 1445.4L718.0 1445.8L719.0 1446.5L720.0 1446.7L721.0 1446.6L722.0 1446.7L723.0 1446.6L724.0 1446.2L725.0 1445.8L726.0 1446.0L727.0 1446.5L728.0 1446.6L729.0 1446.4L730.0 1446.6L731.0 1447.0L732.0 1446.8L733.0 1446.6L734.0 1446.4L735.0 1445.9L736.0 1445.7L737.0 1445.9L738.0 1446.4L739.0 1446.7L740.0 1446.3L741.0 1446.5L742.0 1446.9L743.0 1447.0L744.0 1447.2L745.0 1446.9L746.0 1446.1L747.0 1445.9L748.0 1446.5L749.0 1447.0L750.0 1447.0L751.0 1447.2L752.0 1447.3L753.0 1446.7L754.0 1446.4L755.0 1446.4L756.0 1446.4L757.0 1446.8L758.0 1446.8L759.0 1446.4L760.0 1445.7L761.0 1445.1L762.0 1444.7L763.0 1444.1L764.0 1443.6L765.0 1443.9L766.0 1443.9L767.0 1443.0L768.0 1442.2L769.0 1441.7L770.0 1441.2L771.0 1440.9L772.0 1440.2L773.0 1438.8L774.0 1438.0L775.0 1437.4L776.0 1436.3L777.0 1435.0L778.0 1434.0L779.0 1433.7L780.0 1434.0L781.0 1433.9L782.0 1433.2L783.0 1433.2L784.0 1433.8L785.0 1434.1L786.0 1434.4L787.0 1434.9L788.0 1435.2L789.0 1435.2L790.0 1435.3L791.0 1435.2L792.0 1435.3L793.0 1435.9L794.0 1436.5L795.0 1437.4L796.0 1437.6L797.0 1436.8L798.0 1436.0L799.0 1435.2L800.0 1434.2L801.0 1433.1L802.0 1431.5L803.0 1429.3L804.0 1426.9L805.0 1424.9L806.0 1422.7L807.0 1420.2L808.0 1417.7L809.0 1415.1L810.0 1412.5L811.0 1410.0L812.0 1408.8L813.0 1409.2L814.0 1409.9L815.0 1411.5L816.0 1413.8L817.0 1415.8L818.0 1417.8L819.0 1420.5L820.0 1423.6L821.0 1425.8L822.0 1427.0L823.0 1428.1L824.0 1429.8L825.0 1431.3L826.0 1432.5L827.0 1433.2L828.0 1433.3L829.0 1433.8L830.0 1434.3L831.0 1434.1L832.0 1433.5L833.0 1433.1L834.0 1433.0L835.0 1433.4L836.0 1434.3L837.0 1434.4L838.0 1434.3L839.0 1434.8L840.0 1434.7L841.0 1435.2L842.0 1437.6L843.0 1438.8L844.0 1438.5L845.0 1439.3L846.0 1440.5L847.0 1441.1L848.0 1441.5L849.0 1442.3L850.0 1443.0L851.0 1443.7L852.0 1444.3L853.0 1444.6L854.0 1444.9L855.0 1445.1L856.0 1445.5L857.0 1446.1L858.0 1446.0L859.0 1446.3L860.0 1447.1L861.0 1447.4L862.0 1447.7L863.0 1447.7L864.0 1447.2L865.0 1447.3L866.0 1447.6L867.0 1447.4L868.0 1447.7L869.0 1448.2L870.0 1447.8L871.0 1447.6L872.0 1447.8L873.0 1448.0L874.0 1448.2L875.0 1448.3L876.0 1448.5L877.0 1448.6L878.0 1449.0L879.0 1449.0L880.0 1448.8L881.0 1449.0L882.0 1448.9L883.0 1448.8L884.0 1448.8L885.0 1448.2L886.0 1448.1L887.0 1448.9L888.0 1448.6L889.0 1448.6L890.0 1449.2L891.0 1449.6L892.0 1450.2L893.0 1450.3L894.0 1449.8L895.0 1449.5L896.0 1449.2L897.0 1448.7L898.0 1448.9L899.0 1449.1L900.0 1449.1L901.0 1448.9L902.0 1448.8L903.0 1449.6L904.0 1449.8L905.0 1449.0L906.0 1449.5L907.0 1450.2L908.0 1449.7L909.0 1448.8L910.0 1448.9L911.0 1450.0L912.0 1450.2L913.0 1449.4L914.0 1449.1L915.0 1449.1L916.0 1449.3L917.0 1449.7L918.0 1449.5L919.0 1449.8L920.0 1450.4L921.0 1450.0L922.0 1449.8L923.0 1450.2L924.0 1449.9L925.0 1449.9L926.0 1449.9L927.0 1449.7L928.0 1450.1L929.0 1450.6L930.0 1450.3L931.0 1449.9L932.0 1449.5L933.0 1449.1L934.0 1449.6L935.0 1450.2L936.0 1450.5L937.0 1450.2L938.0 1449.7L939.0 1449.6L940.0 1449.9L941.0 1450.4L942.0 1450.6L943.0 1450.3L944.0 1449.9L945.0 1449.9L946.0 1449.9L947.0 1449.5L948.0 1448.8L949.0 1448.7L950.0 1449.4L951.0 1450.2L952.0 1450.3L953.0 1450.6L954.0 1450.6L955.0 1450.3L956.0 1450.7L957.0 1450.6L958.0 1450.4L959.0 1450.5L960.0 1449.8L961.0 1449.5L962.0 1450.1L963.0 1450.5L964.0 1450.0L965.0 1449.4L966.0 1449.8L967.0 1450.9L968.0 1451.9L969.0 1451.7L970.0 1450.6L971.0 1450.1L972.0 1450.2L973.0 1450.1L974.0 1450.4L975.0 1450.7L976.0 1450.5L977.0 1450.5L978.0 1450.3L979.0 1450.6L980.0 1451.3L981.0 1451.1L982.0 1450.4L983.0 1450.2L984.0 1450.6L985.0 1451.1L986.0 1451.4L987.0 1451.5L988.0 1450.8L989.0 1450.6L990.0 1451.4L991.0 1451.6L992.0 1451.4L993.0 1450.9L994.0 1449.9L995.0 1449.7L996.0 1450.2L997.0 1450.3L998.0 1449.7L999.0 1449.8L1000.0 1450.5L1001.0 1450.0L1002.0 1449.6L1003.0 1449.4L1004.0 1448.5L1005.0 1448.1L1006.0 1447.9L1007.0 1447.4L1008.0 1446.6L1009.0 1445.8L1010.0 1445.2L1011.0 1444.6L1012.0 1444.3L1013.0 1444.1L1014.0 1443.8L1015.0 1443.1L1016.0 1442.7L1017.0 1443.3L1018.0 1443.4L1019.0 1442.9L1020.0 1443.7L1021.0 1444.4L1022.0 1444.3L1023.0 1445.0L1024.0 1446.1L1025.0 1446.4L1026.0 1447.2L1027.0 1448.2L1028.0 1448.0L1029.0 1447.6L1030.0 1447.6L1031.0 1448.1L1032.0 1449.2L1033.0 1450.6L1034.0 1450.6L1035.0 1450.3L1036.0 1451.0L1037.0 1451.0L1038.0 1450.6L1039.0 1450.8L1040.0 1450.6L1041.0 1449.7L1042.0 1449.1L1043.0 1449.4L1044.0 1449.8L1045.0 1449.6L1046.0 1449.6L1047.0 1449.6L1048.0 1449.2L1049.0 1449.1L1050.0 1448.7L1051.0 1448.1L1052.0 1447.6L1053.0 1447.3L1054.0 1446.7L1055.0 1446.2L1056.0 1446.5L1057.0 1446.9L1058.0 1447.1L1059.0 1446.8L1060.0 1446.3L1061.0 1446.0L1062.0 1445.8L1063.0 1446.9L1064.0 1448.7L1065.0 1449.5L1066.0 1449.5L1067.0 1449.5L1068.0 1449.9L1069.0 1449.7L1070.0 1449.2L1071.0 1449.8L1072.0 1451.1L1073.0 1451.5L1074.0 1451.1L1075.0 1450.8L1076.0 1450.7L1077.0 1450.7L1078.0 1450.3L1079.0 1450.3L1080.0 1451.0L1081.0 1451.3L1082.0 1451.7L1083.0 1452.4L1084.0 1452.1L1085.0 1451.6L1086.0 1451.4L1087.0 1451.4L1088.0 1451.9L1089.0 1452.0L1090.0 1451.8L1091.0 1452.3L1092.0 1452.4L1093.0 1451.7L1094.0 1451.7L1095.0 1452.5L1096.0 1452.6L1097.0 1452.4L1098.0 1452.0L1099.0 1451.7L1100.0 1451.8L1101.0 1452.0L1102.0 1451.8L1103.0 1451.9L1104.0 1452.5L1105.0 1452.0L1106.0 1451.0L1107.0 1451.2L1108.0 1451.2L1109.0 1451.1L1110.0 1451.3L1111.0 1451.6L1112.0 1451.7L1113.0 1451.2L1114.0 1450.8L1115.0 1451.5L1116.0 1451.9L1117.0 1451.7L1118.0 1452.0L1119.0 1452.2L1120.0 1451.9L1121.0 1451.8L1122.0 1451.6L1123.0 1451.3L1124.0 1451.4L1125.0 1452.2L1126.0 1452.4L1127.0 1452.1L1128.0 1451.7L1129.0 1450.9L1130.0 1450.7L1131.0 1451.5L1132.0 1452.2L1133.0 1452.0L1134.0 1451.5L1135.0 1451.0L1136.0 1451.4L1137.0 1451.9L1138.0 1451.1L1139.0 1450.3L1140.0 1451.1L1141.0 1452.1L1142.0 1452.3L1143.0 1451.4L1144.0 1450.6L1145.0 1450.9L1146.0 1451.3L1147.0 1451.0L1148.0 1451.0L1149.0 1450.8L1150.0 1450.9L1151.0 1450.9L1152.0 1451.1L1153.0 1451.6L1154.0 1451.1L1155.0 1450.2L1156.0 1449.8L1157.0 1449.7L1158.0 1449.2L1159.0 1448.4L1160.0 1448.3L1161.0 1448.7L1162.0 1448.1L1163.0 1446.6L1164.0 1446.3L1165.0 1446.8L1166.0 1447.0L1167.0 1446.3L1168.0 1445.3L1169.0 1444.6L1170.0 1443.5L1171.0 1442.0L1172.0 1440.7L1173.0 1439.3L1174.0 1437.1L1175.0 1433.9L1176.0 1430.0L1177.0 1425.8L1178.0 1421.1L1179.0 1416.3L1180.0 1411.0L1181.0 1405.6L1182.0 1400.4L1183.0 1395.5L1184.0 1391.3L1185.0 1388.7L1186.0 1388.1L1187.0 1389.2L1188.0 1391.9L1189.0 1395.5L1190.0 1399.1L1191.0 1402.3L1192.0 1404.8L1193.0 1408.0L1194.0 1411.3L1195.0 1413.2L1196.0 1414.2L1197.0 1415.2L1198.0 1417.2L1199.0 1419.5L1200.0 1420.9L1201.0 1423.1L1202.0 1425.8L1203.0 1428.2L1204.0 1430.8L1205.0 1433.8L1206.0 1436.5L1207.0 1439.0L1208.0 1441.0L1209.0 1442.5L1210.0 1444.4L1211.0 1446.3L1212.0 1446.8L1213.0 1446.2L1214.0 1446.5L1215.0 1448.2L1216.0 1449.2L1217.0 1449.4L1218.0 1449.9L1219.0 1450.0L1220.0 1449.8L1221.0 1449.9L1222.0 1450.3L1223.0 1450.4L1224.0 1450.7L1225.0 1451.4L1226.0 1451.1L1227.0 1450.7L1228.0 1451.4L1229.0 1451.7L1230.0 1451.2L1231.0 1451.2L1232.0 1451.5L1233.0 1451.6L1234.0 1451.9L1235.0 1452.1L1236.0 1452.3L1237.0 1452.6L1238.0 1452.0L1239.0 1452.1L1240.0 1453.4L1241.0 1453.7L1242.0 1452.7L1243.0 1451.9L1244.0 1452.0L1245.0 1452.6L1246.0 1452.5L1247.0 1452.1L1248.0 1452.7L1249.0 1453.3L1250.0 1453.6L1251.0 1453.9L1252.0 1453.7L1253.0 1453.0L1254.0 1452.8L1255.0 1453.1L1256.0 1453.5L1257.0 1453.6L1258.0 1453.4L1259.0 1453.2L1260.0 1453.4L1261.0 1453.4L1262.0 1452.7L1263.0 1452.6L1264.0 1453.4L1265.0 1453.4L1266.0 1452.8L1267.0 1452.8L1268.0 1452.4L1269.0 1452.0L1270.0 1452.1L1271.0 1452.3L1272.0 1452.7L1273.0 1453.2L1274.0 1453.4L1275.0 1453.2L1276.0 1453.0L1277.0 1452.8L1278.0 1452.4L1279.0 1452.5L1280.0 1453.2L1281.0 1453.2L1282.0 1452.8L1283.0 1452.9L1284.0 1452.7L1285.0 1452.7L1286.0 1453.3L1287.0 1453.6L1288.0 1452.9L1289.0 1452.2L1290.0 1452.9L1291.0 1453.6L1292.0 1453.4L1293.0 1453.4L1294.0 1453.4L1295.0 1453.4L1296.0 1452.9L1297.0 1452.3L1298.0 1453.0L1299.0 1453.9L1300.0 1453.6L1301.0 1453.2L1302.0 1453.0L1303.0 1453.0L1304.0 1453.3L1305.0 1453.8L1306.0 1454.1L1307.0 1453.4L1308.0 1452.7L1309.0 1452.3L1310.0 1451.8L1311.0 1452.0L1312.0 1452.4L1313.0 1452.4L1314.0 1453.2L1315.0 1453.4L1316.0 1452.5L1317.0 1452.1L1318.0 1452.4L1319.0 1452.8L1320.0 1452.9L1321.0 1452.3L1322.0 1452.1L1323.0 1452.2L1324.0 1452.0L1325.0 1451.5L1326.0 1450.9L1327.0 1450.9L1328.0 1451.4L1329.0 1452.0L1330.0 1452.9L1331.0 1453.6L1332.0 1453.3L1333.0 1452.8L1334.0 1452.7L1335.0 1452.0L1336.0 1451.9L1337.0 1452.3L1338.0 1451.5L1339.0 1451.0L1340.0 1451.6L1341.0 1451.8L1342.0 1451.5L1343.0 1451.4L1344.0 1450.9L1345.0 1450.5L1346.0 1450.9L1347.0 1450.9L1348.0 1450.2L1349.0 1450.0L1350.0 1450.4L1351.0 1451.1L1352.0 1451.1L1353.0 1450.9L1354.0 1450.6L1355.0 1450.4L1356.0 1450.3L1357.0 1449.7L1358.0 1449.2L1359.0 1449.4L1360.0 1449.9L1361.0 1450.1L1362.0 1449.8L1363.0 1449.0L1364.0 1449.1L1365.0 1449.3L1366.0 1448.9L1367.0 1448.9L1368.0 1448.5L1369.0 1448.4L1370.0 1448.4L1371.0 1448.1L1372.0 1448.1L1373.0 1447.5L1374.0 1446.6L1375.0 1446.2L1376.0 1445.8L1377.0 1445.4L1378.0 1444.8L1379.0 1444.1L1380.0 1444.1L1381.0 1443.8L1382.0 1442.4L1383.0 1440.0L1384.0 1438.0L1385.0 1437.2L1386.0 1436.4L1387.0 1435.0L1388.0 1433.2L1389.0 1431.6L1390.0 1429.7L1391.0 1428.1L1392.0 1427.0L1393.0 1425.4L1394.0 1424.3L1395.0 1423.7L1396.0 1422.6L1397.0 1422.7L1398.0 1423.4L1399.0 1423.7L1400.0 1424.6L1401.0 1425.7L1402.0 1427.0L1403.0 1428.5L1404.0 1429.8L1405.0 1431.5L1406.0 1433.5L1407.0 1435.0L1408.0 1436.1L1409.0 1437.0L1410.0 1438.7L1411.0 1440.6L1412.0 1441.7L1413.0 1442.1L1414.0 1442.3L1415.0 1443.0L1416.0 1444.2L1417.0 1445.0L1418.0 1445.2L1419.0 1445.3L1420.0 1445.3L1421.0 1445.1L1422.0 1444.6L1423.0 1444.1L1424.0 1443.8L1425.0 1443.8L1426.0 1443.2L1427.0 1441.8L1428.0 1440.7L1429.0 1439.5L1430.0 1438.0L1431.0 1436.7L1432.0 1435.7L1433.0 1435.0L1434.0 1433.4L1435.0 1431.0L1436.0 1428.9L1437.0 1427.2L1438.0 1425.4L1439.0 1424.1L1440.0 1423.3L1441.0 1422.3L1442.0 1421.5L1443.0 1421.8L1444.0 1422.6L1445.0 1423.3L1446.0 1424.2L1447.0 1425.5L1448.0 1427.4L1449.0 1429.5L1450.0 1431.6L1451.0 1433.6L1452.0 1435.1L1453.0 1435.9L1454.0 1437.5L1455.0 1439.9L1456.0 1441.7L1457.0 1443.1L1458.0 1443.8L1459.0 1444.3L1460.0 1445.3L1461.0 1446.0L1462.0 1446.3L1463.0 1446.7L1464.0 1447.8L1465.0 1448.3L1466.0 1448.5L1467.0 1448.9L1468.0 1448.7L1469.0 1448.3L1470.0 1447.8L1471.0 1448.3L1472.0 1450.0L1473.0 1450.6L1474.0 1449.8L1475.0 1449.0L1476.0 1449.3L1477.0 1449.9L1478.0 1449.9L1479.0 1449.7L1480.0 1449.4L1481.0 1449.3L1482.0 1449.3L1483.0 1449.6L1484.0 1449.9L1485.0 1449.7L1486.0 1449.7L1487.0 1449.9L1488.0 1450.3L1489.0 1450.7L1490.0 1450.6L1491.0 1450.2L1492.0 1449.7L1493.0 1450.0L1494.0 1450.4L1495.0 1450.1L1496.0 1449.8L1497.0 1450.2L1498.0 1450.7L1499.0 1450.3L1500.0 1450.1L1501.0 1450.8L1502.0 1451.1L1503.0 1451.1L1504.0 1451.0L1505.0 1450.6L1506.0 1450.2L1507.0 1449.9L1508.0 1449.7L1509.0 1449.8L1510.0 1450.1L1511.0 1450.0L1512.0 1450.0L1513.0 1450.0L1514.0 1449.5L1515.0 1448.7L1516.0 1448.5L1517.0 1448.1L1518.0 1448.0L1519.0 1448.2L1520.0 1447.9L1521.0 1447.4L1522.0 1447.7L1523.0 1448.2L1524.0 1448.2L1525.0 1448.0L1526.0 1447.6L1527.0 1447.2L1528.0 1447.4L1529.0 1447.4L1530.0 1446.8L1531.0 1446.2L1532.0 1446.0L1533.0 1446.0L1534.0 1446.4L1535.0 1447.1L1536.0 1447.9L1537.0 1448.1L1538.0 1448.0L1539.0 1448.0L1540.0 1448.5L1541.0 1449.4L1542.0 1449.9L1543.0 1449.9L1544.0 1449.4L1545.0 1449.3L1546.0 1449.6L1547.0 1449.6L1548.0 1449.4L1549.0 1449.5L1550.0 1450.1L1551.0 1450.6L1552.0 1450.6L1553.0 1450.1L1554.0 1449.9L1555.0 1450.9L1556.0 1451.3L1557.0 1450.5L1558.0 1450.4L1559.0 1450.9L1560.0 1450.8L1561.0 1451.0L1562.0 1452.2L1563.0 1452.3L1564.0 1451.2L1565.0 1450.9L1566.0 1452.0L1567.0 1453.0L1568.0 1453.0L1569.0 1452.4L1570.0 1451.9L1571.0 1451.6L1572.0 1451.9L1573.0 1452.8L1574.0 1452.4L1575.0 1450.9L1576.0 1451.0L1577.0 1452.1L1578.0 1452.4L1579.0 1452.3L1580.0 1453.0L1581.0 1453.5L1582.0 1452.6L1583.0 1451.6L1584.0 1451.6L1585.0 1451.6L1586.0 1451.9L1587.0 1452.4L1588.0 1452.3L1589.0 1452.0L1590.0 1452.1L1591.0 1452.3L1592.0 1452.6L1593.0 1452.7L1594.0 1452.7L1595.0 1452.8L1596.0 1452.9L1597.0 1452.8L1598.0 1452.5L1599.0 1452.5L1600.0 1452.3L1601.0 1452.6L1602.0 1453.4L1603.0 1453.1L1604.0 1452.6L1605.0 1452.5L1606.0 1452.6L1607.0 1452.8L1608.0 1452.6L1609.0 1452.3L1610.0 1452.0L1611.0 1451.9L1612.0 1452.6L1613.0 1453.2L1614.0 1452.5L1615.0 1452.2L1616.0 1452.8" stroke="#0134b4"/>
<path d="M166.0 1610.0L167.0 1608.9L168.0 1608.7L169.0 1609.5L170.0 1609.6L171.0 1608.8L172.0 1608.5L173.0 1609.2L174.0 1610.0L175.0 1610.2L176.0 1610.2L177.0 1610.0L178.0 1610.1L179.0 1610.2L180.0 1610.2L181.0 1609.9L182.0 1609.6L183.0 1609.7L184.0 1610.2L185.0 1610.0L186.0 1610.0L187.0 1610.5L188.0 1610.7L189.0 1610.2L190.0 1610.2L191.0 1611.1L192.0 1611.5L193.0 1610.3L194.0 1609.4L195.0 1609.6L196.0 1609.6L197.0 1609.5L198.0 1609.9L199.0 1610.9L200.0 1611.5L201.0 1611.7L202.0 1611.3L203.0 1610.9L204.0 1611.0L205.0 1610.7L206.0 1610.3L207.0 1610.5L208.0 1611.4L209.0 1611.5L210.0 1610.9L211.0 1610.7L212.0 1611.0L213.0 1611.3L214.0 1611.5L215.0 1611.4L216.0 1611.0L217.0 1610.5L218.0 1610.3L219.0 1610.7L220.0 1611.9L221.0 1612.4L222.0 1612.2L223.0 1612.4L224.0 1612.7L225.0 1611.9L226.0 1610.8L227.0 1610.4L228.0 1610.1L229.0 1610.3L230.0 1610.7L231.0 1611.3L232.0 1611.5L233.0 1611.2L234.0 1611.3L235.0 1611.6L236.0 1611.6L237.0 1611.0L238.0 1610.5L239.0 1611.2L240.0 1612.1L241.0 1611.7L242.0 1611.1L243.0 1611.4L244.0 1611.7L245.0 1611.6L246.0 1611.8L247.0 1611.6L248.0 1611.6L249.0 1612.3L250.0 1612.9L251.0 1612.2L252.0 1611.8L253.0 1612.1L254.0 1612.0L255.0 1611.5L256.0 1611.2L257.0 1611.7L258.0 1611.9L259.0 1611.9L260.0 1612.4L261.0 1612.3L262.0 1611.7L263.0 1611.2L264.0 1611.1L265.0 1611.3L266.0 1611.5L267.0 1612.3L268.0 1612.6L269.0 1611.8L270.0 1611.3L271.0 1611.5L272.0 1611.7L273.0 1612.1L274.0 1612.3L275.0 1612.1L276.0 1612.4L277.0 1613.1L278.0 1613.1L279.0 1612.5L280.0 1612.3L281.0 1612.0L282.0 1611.9L283.0 1612.5L284.0 1612.5L285.0 1612.2L286.0 1612.1L287.0 1611.6L288.0 1611.7L289.0 1612.5L290.0 1612.5L291.0 1612.1L292.0 1612.2L293.0 1612.1L294.0 1611.6L295.0 1611.3L296.0 1611.1L297.0 1611.0L298.0 1611.3L299.0 1611.6L300.0 1611.0L301.0 1610.6L302.0 1610.4L303.0 1610.2L304.0 1610.1L305.0 1609.7L306.0 1609.2L307.0 1609.0L308.0 1608.9L309.0 1609.3L310.0 1609.3L311.0 1608.6L312.0 1607.7L313.0 1607.3L314.0 1607.1L315.0 1607.1L316.0 1607.2L317.0 1606.4L318.0 1605.7L319.0 1605.6L320.0 1605.3L321.0 1604.0L322.0 1602.1L323.0 1601.0L324.0 1599.8L325.0 1598.3L326.0 1596.8L327.0 1594.5L328.0 1592.1L329.0 1590.5L330.0 1589.4L331.0 1587.5L332.0 1584.3L333.0 1580.8L334.0 1578.2L335.0 1576.3L336.0 1574.5L337.0 1572.1L338.0 1569.6L339.0 1567.2L340.0 1565.2L341.0 1563.2L342.0 1559.9L343.0 1556.4L344.0 1553.3L345.0 1548.4L346.0 1541.4L347.0 1532.9L348.0 1523.2L349.0 1512.5L350.0 1500.7L351.0 1488.5L352.0 1475.0L353.0 1462.0L354.0 1452.6L355.0 1445.8L356.0 1442.0L357.0 1443.2L358.0 1448.7L359.0 1457.4L360.0 1469.5L361.0 1484.0L362.0 1498.2L363.0 1511.4L364.0 1523.7L365.0 1535.6L366.0 1546.6L367.0 1555.4L368.0 1562.7L369.0 1569.3L370.0 1575.4L371.0 1580.4L372.0 1583.8L373.0 1586.5L374.0 1589.3L375.0 1591.9L376.0 1593.4L377.0 1595.1L378.0 1596.8L379.0 1597.1L380.0 1597.1L381.0 1598.0L382.0 1599.5L383.0 1600.9L384.0 1601.1L385.0 1601.3L386.0 1602.2L387.0 1602.6L388.0 1602.6L389.0 1603.3L390.0 1603.8L391.0 1603.1L392.0 1602.6L393.0 1603.6L394.0 1604.6L395.0 1604.9L396.0 1605.3L397.0 1604.8L398.0 1604.4L399.0 1604.9L400.0 1605.4L401.0 1605.5L402.0 1605.6L403.0 1605.8L404.0 1605.6L405.0 1605.3L406.0 1605.0L407.0 1605.2L408.0 1605.7L409.0 1605.7L410.0 1605.7L411.0 1606.1L412.0 1606.6L413.0 1607.0L414.0 1607.3L415.0 1607.3L416.0 1606.9L417.0 1606.2L418.0 1605.9L419.0 1606.2L420.0 1606.1L421.0 1606.4L422.0 1607.0L423.0 1606.7L424.0 1607.0L425.0 1607.5L426.0 1607.9L427.0 1608.5L428.0 1607.8L429.0 1607.5L430.0 1607.9L431.0 1607.2L432.0 1606.5L433.0 1606.6L434.0 1607.1L435.0 1607.6L436.0 1607.5L437.0 1607.1L438.0 1608.0L439.0 1608.6L440.0 1607.9L441.0 1607.7L442.0 1608.3L443.0 1608.3L444.0 1607.5L445.0 1606.9L446.0 1607.3L447.0 1608.1L448.0 1607.8L449.0 1606.3L450.0 1605.8L451.0 1606.1L452.0 1606.5L453.0 1607.2L454.0 1607.9L455.0 1608.3L456.0 1607.9L457.0 1607.4L458.0 1607.2L459.0 1606.2L460.0 1605.7L461.0 1606.3L462.0 1606.2L463.0 1605.7L464.0 1606.0L465.0 1606.0L466.0 1605.3L467.0 1605.0L468.0 1604.8L469.0 1604.8L470.0 1604.6L471.0 1604.2L472.0 1604.4L473.0 1604.5L474.0 1603.5L475.0 1602.0L476.0 1601.8L477.0 1602.4L478.0 1602.2L479.0 1601.7L480.0 1601.4L481.0 1601.2L482.0 1601.4L483.0 1601.4L484.0 1601.6L485.0 1601.8L486.0 1601.9L487.0 1602.0L488.0 1602.2L489.0 1602.9L490.0 1602.9L491.0 1603.2L492.0 1603.9L493.0 1604.0L494.0 1604.2L495.0 1603.9L496.0 1603.7L497.0 1604.8L498.0 1605.6L499.0 1605.0L500.0 1604.7L501.0 1605.4L502.0 1606.4L503.0 1607.0L504.0 1607.5L505.0 1607.7L506.0 1607.2L507.0 1607.3L508.0 1608.4L509.0 1608.7L510.0 1608.5L511.0 1608.4L512.0 1608.4L513.0 1609.1L514.0 1610.0L515.0 1610.2L516.0 1610.3L517.0 1610.3L518.0 1609.8L519.0 1609.6L520.0 1609.8L521.0 1610.2L522.0 1610.4L523.0 1610.8L524.0 1610.5L525.0 1610.0L526.0 1610.7L527.0 1610.8L528.0 1609.7L529.0 1609.3L530.0 1609.2L531.0 1609.3L532.0 1609.9L533.0 1610.9L534.0 1611.3L535.0 1611.1L536.0 1611.3L537.0 1611.9L538.0 1611.9L539.0 1611.3L540.0 1610.7L541.0 1610.0L542.0 1609.9L543.0 1610.5L544.0 1610.6L545.0 1610.3L546.0 1610.7L547.0 1611.1L548.0 1611.0L549.0 1610.7L550.0 1611.0L551.0 1612.0L552.0 1612.4L553.0 1611.7L554.0 1611.6L555.0 1612.1L556.0 1611.7L557.0 1610.8L558.0 1610.4L559.0 1611.3L560.0 1612.1L561.0 1612.3L562.0 1612.6L563.0 1612.1L564.0 1611.7L565.0 1612.0L566.0 1611.8L567.0 1611.5L568.0 1610.9L569.0 1610.7L570.0 1611.1L571.0 1611.5L572.0 1611.0L573.0 1610.8L574.0 1611.5L575.0 1611.8L576.0 1611.5L577.0 1611.0L578.0 1611.1L579.0 1612.1L580.0 1612.3L581.0 1612.5L582.0 1613.1L583.0 1613.0L584.0 1612.5L585.0 1612.3L586.0 1612.6L587.0 1612.9L588.0 1612.7L589.0 1612.4L590.0 1612.6L591.0 1612.9L592.0 1613.0L593.0 1613.1L594.0 1613.4L595.0 1613.3L596.0 1613.2L597.0 1612.9L598.0 1612.4L599.0 1612.3L600.0 1612.8L601.0 1613.5L602.0 1613.7L603.0 1613.2L604.0 1612.7L605.0 1613.1L606.0 1613.7L607.0 1613.5L608.0 1613.3L609.0 1613.3L610.0 1613.0L611.0 1613.2L612.0 1613.5L613.0 1613.2L614.0 1613.3L615.0 1614.3L616.0 1614.4L617.0 1613.6L618.0 1613.7L619.0 1614.7L620.0 1615.0L621.0 1614.1L622.0 1613.5L623.0 1614.3L624.0 1615.1L625.0 1614.7L626.0 1614.8L627.0 1614.7L628.0 1613.2L629.0 1613.1L630.0 1614.5L631.0 1614.7L632.0 1614.2L633.0 1614.5L634.0 1614.8L635.0 1614.6L636.0 1614.3L637.0 1614.2L638.0 1614.3L639.0 1614.6L640.0 1615.2L641.0 1615.8L642.0 1615.3L643.0 1614.6L644.0 1615.3L645.0 1616.0L646.0 1615.9L647.0 1615.8L648.0 1615.7L649.0 1615.5L650.0 1615.3L651.0 1615.3L652.0 1615.3L653.0 1615.5L654.0 1614.7L655.0 1614.4L656.0 1615.4L657.0 1615.8L658.0 1615.9L659.0 1616.0L660.0 1615.8L661.0 1615.6L662.0 1615.9L663.0 1616.3L664.0 1616.8L665.0 1617.0L666.0 1616.3L667.0 1616.2L668.0 1616.4L669.0 1616.0L670.0 1615.6L671.0 1616.1L672.0 1616.7L673.0 1616.8L674.0 1616.6L675.0 1616.5L676.0 1616.5L677.0 1616.3L678.0 1616.2L679.0 1616.6L680.0 1617.2L681.0 1617.2L682.0 1616.6L683.0 1617.2L684.0 1618.2L685.0 1618.0L686.0 1617.1L687.0 1616.6L688.0 1616.9L689.0 1617.3L690.0 1617.5L691.0 1617.7L692.0 1617.5L693.0 1616.8L694.0 1616.4L695.0 1616.4L696.0 1616.6L697.0 1617.3L698.0 1618.4L699.0 1619.1L700.0 1618.6L701.0 1618.2L702.0 1618.3L703.0 1617.9L704.0 1618.1L705.0 1618.7L706.0 1618.7L707.0 1618.3L708.0 1617.7L709.0 1617.4L710.0 1617.7L711.0 1618.1L712.0 1618.4L713.0 1618.5L714.0 1618.2L715.0 1618.0L716.0 1618.3L717.0 1617.9L718.0 1617.3L719.0 1617.4L720.0 1618.2L721.0 1619.2L722.0 1619.0L723.0 1618.3L724.0 1618.5L725.0 1618.4L726.0 1617.8L727.0 1617.5L728.0 1617.5L729.0 1617.4L730.0 1617.3L731.0 1617.8L732.0 1618.2L733.0 1618.3L734.0 1618.8L735.0 1619.3L736.0 1619.3L737.0 1619.3L738.0 1619.8L739.0 1619.9L740.0 1619.6L741.0 1618.8L742.0 1618.4L743.0 1618.5L744.0 1618.8L745.0 1619.1L746.0 1619.4L747.0 1619.6L748.0 1619.8L749.0 1620.2L750.0 1619.9L751.0 1619.3L752.0 1618.7L753.0 1618.2L754.0 1619.0L755.0 1619.4L756.0 1618.6L757.0 1618.5L758.0 1619.2L759.0 1618.8L760.0 1618.3L761.0 1618.4L762.0 1617.7L763.0 1617.1L764.0 1617.0L765.0 1616.6L766.0 1616.4L767.0 1616.3L768.0 1615.6L769.0 1614.7L770.0 1614.5L771.0 1614.4L772.0 1613.7L773.0 1612.7L774.0 1612.3L775.0 1611.7L776.0 1610.4L777.0 1609.4L778.0 1609.2L779.0 1608.7L780.0 1607.7L781.0 1607.1L782.0 1607.7L783.0 1608.6L784.0 1608.9L785.0 1609.2L786.0 1609.4L787.0 1609.7L788.0 1610.0L789.0 1610.5L790.0 1611.3L791.0 1611.5L792.0 1611.2L793.0 1611.0L794.0 1611.3L795.0 1611.2L796.0 1611.1L797.0 1611.0L798.0 1610.0L799.0 1609.3L800.0 1609.0L801.0 1607.9L802.0 1606.0L803.0 1604.4L804.0 1602.4L805.0 1599.6L806.0 1596.7L807.0 1595.1L808.0 1594.2L809.0 1592.5L810.0 1590.6L811.0 1589.9L812.0 1590.0L813.0 1590.7L814.0 1592.5L815.0 1594.5L816.0 1595.7L817.0 1597.2L818.0 1599.0L819.0 1600.7L820.0 1602.6L821.0 1604.3L822.0 1605.9L823.0 1607.3L824.0 1608.1L825.0 1608.9L826.0 1609.8L827.0 1609.7L828.0 1610.3L829.0 1610.9L830.0 1610.4L831.0 1610.5L832.0 1610.6L833.0 1609.5L834.0 1608.8L835.0 1609.4L836.0 1609.3L837.0 1609.2L838.0 1609.6L839.0 1609.8L840.0 1610.2L841.0 1610.6L842.0 1610.9L843.0 1611.2L844.0 1611.7L845.0 1612.3L846.0 1613.2L847.0 1614.2L848.0 1615.0L849.0 1615.9L850.0 1616.7L851.0 1616.4L852.0 1616.1L853.0 1617.0L854.0 1618.1L855.0 1619.0L856.0 1619.5L857.0 1619.4L858.0 1619.3L859.0 1619.2L860.0 1619.2L861.0 1620.0L862.0 1620.3L863.0 1620.1L864.0 1619.9L865.0 1619.9L866.0 1620.0L867.0 1620.0L868.0 1620.1L869.0 1620.6L870.0 1621.4L871.0 1621.5L872.0 1621.0L873.0 1620.6L874.0 1620.7L875.0 1620.7L876.0 1620.5L877.0 1620.0L878.0 1619.9L879.0 1620.3L880.0 1620.4L881.0 1620.1L882.0 1620.1L883.0 1620.8L884.0 1621.3L885.0 1621.4L886.0 1621.6L887.0 1622.0L888.0 1621.7L889.0 1621.1L890.0 1620.6L891.0 1620.2L892.0 1620.7L893.0 1621.2L894.0 1621.3L895.0 1622.1L896.0 1622.4L897.0 1621.9L898.0 1621.5L899.0 1620.9L900.0 1620.7L901.0 1621.2L902.0 1621.5L903.0 1621.4L904.0 1621.7L905.0 1622.5L906.0 1622.4L907.0 1622.1L908.0 1622.2L909.0 1622.0L910.0 1621.6L911.0 1621.2L912.0 1621.3L913.0 1622.0L914.0 1621.5L915.0 1620.8L916.0 1620.9L917.0 1621.5L918.0 1622.7L919.0 1623.0L920.0 1623.1L921.0 1623.2L922.0 1622.8L923.0 1622.4L924.0 1621.9L925.0 1621.8L926.0 1621.9L927.0 1621.9L928.0 1622.2L929.0 1622.9L930.0 1622.9L931.0 1622.0L932.0 1621.7L933.0 1622.5L934.0 1622.9L935.0 1622.3L936.0 1621.9L937.0 1622.6L938.0 1622.6L939.0 1621.9L940.0 1621.9L941.0 1621.8L942.0 1622.5L943.0 1623.4L944.0 1623.1L945.0 1622.7L946.0 1622.5L947.0 1623.1L948.0 1624.0L949.0 1623.7L950.0 1622.7L951.0 1622.4L952.0 1623.1L953.0 1623.8L954.0 1623.6L955.0 1623.2L956.0 1622.6L957.0 1622.4L958.0 1623.1L959.0 1622.9L960.0 1622.3L961.0 1622.2L962.0 1622.2L963.0 1622.1L964.0 1622.3L965.0 1623.2L966.0 1623.6L967.0 1623.4L968.0 1623.1L969.0 1623.1L970.0 1623.4L971.0 1623.7L972.0 1623.7L973.0 1623.2L974.0 1622.5L975.0 1622.1L976.0 1622.2L977.0 1622.4L978.0 1622.4L979.0 1622.7L980.0 1623.6L981.0 1623.1L982.0 1622.0L983.0 1621.8L984.0 1622.3L985.0 1623.1L986.0 1623.4L987.0 1623.0L988.0 1623.0L989.0 1623.3L990.0 1623.8L991.0 1623.9L992.0 1623.6L993.0 1623.3L994.0 1622.9L995.0 1622.3L996.0 1622.1L997.0 1622.4L998.0 1622.4L999.0 1622.0L1000.0 1621.9L1001.0 1621.4L1002.0 1620.9L1003.0 1621.0L1004.0 1621.2L1005.0 1620.9L1006.0 1620.3L1007.0 1619.0L1008.0 1618.1L1009.0 1618.4L1010.0 1618.3L1011.0 1617.6L1012.0 1617.5L1013.0 1617.7L1014.0 1617.4L1015.0 1616.9L1016.0 1616.4L1017.0 1616.3L1018.0 1617.1L1019.0 1618.3L1020.0 1618.7L1021.0 1618.3L1022.0 1618.4L1023.0 1619.3L1024.0 1619.9L1025.0 1619.5L1026.0 1620.5L1027.0 1622.3L1028.0 1622.2L1029.0 1621.5L1030.0 1622.1L1031.0 1622.9L1032.0 1622.9L1033.0 1622.5L1034.0 1622.5L1035.0 1622.9L1036.0 1623.1L1037.0 1623.2L1038.0 1623.0L1039.0 1622.8L1040.0 1623.0L1041.0 1622.6L1042.0 1622.1L1043.0 1621.8L1044.0 1621.5L1045.0 1621.2L1046.0 1620.9L1047.0 1621.1L1048.0 1621.6L1049.0 1621.7L1050.0 1620.9L1051.0 1620.2L1052.0 1620.0L1053.0 1620.1L1054.0 1619.6L1055.0 1619.2L1056.0 1619.3L1057.0 1619.6L1058.0 1619.8L1059.0 1620.1L1060.0 1620.4L1061.0 1620.2L1062.0 1619.8L1063.0 1620.4L1064.0 1621.3L1065.0 1621.4L1066.0 1621.0L1067.0 1621.3L1068.0 1622.1L1069.0 1622.8L1070.0 1623.0L1071.0 1622.6L1072.0 1622.6L1073.0 1623.3L1074.0 1623.8L1075.0 1623.9L1076.0 1623.9L1077.0 1623.8L1078.0 1623.7L1079.0 1623.9L1080.0 1624.2L1081.0 1624.0L1082.0 1623.7L1083.0 1623.6L1084.0 1623.6L1085.0 1624.0L1086.0 1625.0L1087.0 1625.6L1088.0 1625.0L1089.0 1624.5L1090.0 1624.7L1091.0 1624.8L1092.0 1624.9L1093.0 1624.9L1094.0 1625.2L1095.0 1625.7L1096.0 1625.0L1097.0 1623.9L1098.0 1624.0L1099.0 1623.9L1100.0 1623.1L1101.0 1623.3L1102.0 1623.7L1103.0 1623.9L1104.0 1623.8L1105.0 1623.7L1106.0 1624.4L1107.0 1624.9L1108.0 1624.6L1109.0 1624.2L1110.0 1624.1L1111.0 1624.3L1112.0 1624.8L1113.0 1625.2L1114.0 1625.2L1115.0 1624.9L1116.0 1624.7L1117.0 1624.3L1118.0 1623.8L1119.0 1623.8L1120.0 1624.2L1121.0 1624.4L1122.0 1624.8L1123.0 1625.0L1124.0 1624.5L1125.0 1624.5L1126.0 1624.6L1127.0 1624.1L1128.0 1623.9L1129.0 1624.2L1130.0 1624.5L1131.0 1624.6L1132.0 1624.4L1133.0 1623.9L1134.0 1624.2L1135.0 1624.4L1136.0 1624.0L1137.0 1623.7L1138.0 1623.6L1139.0 1624.0L1140.0 1624.5L1141.0 1623.9L1142.0 1623.2L1143.0 1623.5L1144.0 1623.9L1145.0 1623.6L1146.0 1622.7L1147.0 1622.5L1148.0 1622.6L1149.0 1622.6L1150.0 1622.7L1151.0 1622.0L1152.0 1621.6L1153.0 1621.6L1154.0 1622.0L1155.0 1622.7L1156.0 1622.8L1157.0 1622.7L1158.0 1621.8L1159.0 1620.9L1160.0 1620.6L1161.0 1620.2L1162.0 1620.0L1163.0 1620.0L1164.0 1619.7L1165.0 1619.4L1166.0 1619.0L1167.0 1618.9L1168.0 1618.3L1169.0 1617.2L1170.0 1615.9L1171.0 1614.2L1172.0 1612.4L1173.0 1610.2L1174.0 1607.0L1175.0 1603.8L1176.0 1600.3L1177.0 1596.2L1178.0 1591.7L1179.0 1586.9L1180.0 1582.5L1181.0 1577.9L1182.0 1573.7L1183.0 1570.5L1184.0 1568.3L1185.0 1568.1L1186.0 1570.3L1187.0 1574.1L1188.0 1578.1L1189.0 1581.1L1190.0 1584.1L1191.0 1587.1L1192.0 1589.2L1193.0 1590.1L1194.0 1590.6L1195.0 1590.7L1196.0 1590.5L1197.0 1590.8L1198.0 1592.0L1199.0 1594.0L1200.0 1595.5L1201.0 1597.2L1202.0 1599.5L1203.0 1602.0L1204.0 1604.7L1205.0 1607.5L1206.0 1610.2L1207.0 1612.0L1208.0 1613.2L1209.0 1615.3L1210.0 1617.1L1211.0 1617.6L1212.0 1618.5L1213.0 1619.8L1214.0 1620.9L1215.0 1621.2L1216.0 1621.3L1217.0 1621.9L1218.0 1622.4L1219.0 1622.8L1220.0 1623.3L1221.0 1622.8L1222.0 1622.0L1223.0 1622.1L1224.0 1622.6L1225.0 1623.0L1226.0 1623.4L1227.0 1623.9L1228.0 1624.3L1229.0 1624.4L1230.0 1624.1L1231.0 1623.4L1232.0 1623.4L1233.0 1623.9L1234.0 1624.0L1235.0 1624.1L1236.0 1623.9L1237.0 1624.0L1238.0 1624.8L1239.0 1624.5L1240.0 1623.4L1241.0 1623.4L1242.0 1624.1L1243.0 1624.4L1244.0 1623.9L1245.0 1623.7L1246.0 1624.2L1247.0 1624.6L1248.0 1624.8L1249.0 1624.9L1250.0 1625.0L1251.0 1625.1L1252.0 1624.8L1253.0 1624.5L1254.0 1624.7L1255.0 1624.4L1256.0 1623.7L1257.0 1623.8L1258.0 1624.2L1259.0 1624.6L1260.0 1624.5L1261.0 1624.1L1262.0 1624.4L1263.0 1624.2L1264.0 1624.0L1265.0 1624.3L1266.0 1623.9L1267.0 1623.7L1268.0 1624.5L1269.0 1624.7L1270.0 1624.4L1271.0 1624.8L1272.0 1624.8L1273.0 1624.6L1274.0 1625.0L1275.0 1624.7L1276.0 1623.7L1277.0 1623.3L1278.0 1623.7L1279.0 1624.1L1280.0 1623.8L1281.0 1623.7L1282.0 1624.5L1283.0 1625.4L1284.0 1624.5L1285.0 1623.2L1286.0 1623.7L1287.0 1623.6L1288.0 1622.5L1289.0 1622.9L1290.0 1624.0L1291.0 1624.3L1292.0 1623.9L1293.0 1623.8L1294.0 1623.9L1295.0 1623.9L1296.0 1623.9L1297.0 1624.3L1298.0 1624.1L1299.0 1623.6L1300.0 1623.7L1301.0 1623.6L1302.0 1623.6L1303.0 1624.1L1304.0 1624.1L1305.0 1624.1L1306.0 1624.2L1307.0 1623.9L1308.0 1623.2L1309.0 1623.1L1310.0 1623.8L1311.0 1624.0L1312.0 1623.7L1313.0 1623.6L1314.0 1623.7L1315.0 1623.3L1316.0 1622.8L1317.0 1623.3L1318.0 1623.8L1319.0 1623.5L1320.0 1622.9L1321.0 1622.8L1322.0 1623.1L1323.0 1623.0L1324.0 1623.2L1325.0 1623.6L1326.0 1623.9L1327.0 1624.0L1328.0 1624.0L1329.0 1624.1L1330.0 1624.4L1331.0 1624.3L1332.0 1623.5L1333.0 1623.2L1334.0 1623.3L1335.0 1622.8L1336.0 1622.5L1337.0 1622.9L1338.0 1622.7L1339.0 1622.2L1340.0 1622.4L1341.0 1622.6L1342.0 1622.6L1343.0 1622.6L1344.0 1622.7L1345.0 1623.1L1346.0 1622.9L1347.0 1622.5L1348.0 1622.6L1349.0 1623.0L1350.0 1623.2L1351.0 1623.0L1352.0 1622.5L1353.0 1622.7L1354.0 1623.0L1355.0 1622.9L1356.0 1623.0L1357.0 1622.6L1358.0 1621.6L1359.0 1621.3L1360.0 1621.6L1361.0 1621.4L1362.0 1620.8L1363.0 1620.9L1364.0 1621.7L1365.0 1621.8L1366.0 1621.5L1367.0 1621.5L1368.0 1621.4L1369.0 1621.2L1370.0 1621.1L1371.0 1620.2L1372.0 1619.5L1373.0 1620.3L1374.0 1620.6L1375.0 1620.4L1376.0 1620.1L1377.0 1618.4L1378.0 1617.7L1379.0 1618.6L1380.0 1618.1L1381.0 1616.7L1382.0 1616.3L1383.0 1615.9L1384.0 1614.9L1385.0 1614.7L1386.0 1614.6L1387.0 1613.2L1388.0 1611.3L1389.0 1609.6L1390.0 1608.1L1391.0 1606.9L1392.0 1605.4L1393.0 1603.7L1394.0 1602.9L1395.0 1602.7L1396.0 1601.5L1397.0 1600.0L1398.0 1600.0L1399.0 1600.9L1400.0 1601.1L1401.0 1600.7L1402.0 1601.5L1403.0 1602.6L1404.0 1603.1L1405.0 1603.6L1406.0 1605.0L1407.0 1606.5L1408.0 1607.4L1409.0 1608.4L1410.0 1610.1L1411.0 1611.8L1412.0 1612.7L1413.0 1613.5L1414.0 1614.4L1415.0 1614.4L1416.0 1614.3L1417.0 1614.7L1418.0 1615.4L1419.0 1615.3L1420.0 1614.6L1421.0 1615.1L1422.0 1615.9L1423.0 1615.5L1424.0 1614.6L1425.0 1613.6L1426.0 1612.1L1427.0 1610.9L1428.0 1609.9L1429.0 1608.9L1430.0 1608.1L1431.0 1607.4L1432.0 1606.4L1433.0 1605.4L1434.0 1604.0L1435.0 1601.7L1436.0 1600.1L1437.0 1599.2L1438.0 1598.1L1439.0 1597.8L1440.0 1598.0L1441.0 1598.2L1442.0 1599.4L1443.0 1600.5L1444.0 1600.6L1445.0 1601.5L1446.0 1603.5L1447.0 1605.3L1448.0 1606.9L1449.0 1608.5L1450.0 1610.3L1451.0 1612.0L1452.0 1612.9L1453.0 1613.2L1454.0 1613.2L1455.0 1613.3L1456.0 1614.2L1457.0 1615.7L1458.0 1616.8L1459.0 1617.1L1460.0 1617.1L1461.0 1617.0L1462.0 1617.0L1463.0 1617.7L1464.0 1618.4L1465.0 1618.5L1466.0 1618.9L1467.0 1619.3L1468.0 1619.6L1469.0 1620.0L1470.0 1620.4L1471.0 1620.3L1472.0 1619.6L1473.0 1619.2L1474.0 1619.4L1475.0 1619.8L1476.0 1620.2L1477.0 1620.3L1478.0 1620.3L1479.0 1620.4L1480.0 1620.5L1481.0 1620.4L1482.0 1620.0L1483.0 1620.4L1484.0 1620.7L1485.0 1620.3L1486.0 1620.4L1487.0 1620.9L1488.0 1620.4L1489.0 1619.6L1490.0 1620.1L1491.0 1620.9L1492.0 1621.1L1493.0 1621.7L1494.0 1621.9L1495.0 1621.4L1496.0 1621.1L1497.0 1620.8L1498.0 1620.6L1499.0 1620.9L1500.0 1621.0L1501.0 1620.7L1502.0 1620.9L1503.0 1621.3L1504.0 1621.0L1505.0 1620.0L1506.0 1619.7L1507.0 1620.3L1508.0 1620.9L1509.0 1621.1L1510.0 1621.6L1511.0 1622.1L1512.0 1621.8L1513.0 1621.1L1514.0 1620.8L1515.0 1621.1L1516.0 1621.2L1517.0 1620.9L1518.0 1620.6L1519.0 1620.8L1520.0 1620.8L1521.0 1619.5L1522.0 1618.9L1523.0 1619.8L1524.0 1620.1L1525.0 1619.5L1526.0 1619.8L1527.0 1620.3L1528.0 1619.4L1529.0 1618.4L1530.0 1618.8L1531.0 1619.2L1532.0 1619.0L1533.0 1619.0L1534.0 1619.3L1535.0 1619.4L1536.0 1619.6L1537.0 1619.5L1538.0 1619.5L1539.0 1619.6L1540.0 1620.0L1541.0 1620.4L1542.0 1620.4L1543.0 1620.2L1544.0 1620.1L1545.0 1620.4L1546.0 1621.1L1547.0 1622.0L1548.0 1622.2L1549.0 1621.8L1550.0 1621.2L1551.0 1621.3L1552.0 1621.8L1553.0 1622.2L1554.0 1622.8L1555.0 1622.9L1556.0 1623.0L1557.0 1623.1L1558.0 1623.3L1559.0 1623.4L1560.0 1623.2L1561.0 1623.6L1562.0 1624.1L1563.0 1623.9L1564.0 1623.6L1565.0 1623.5L1566.0 1623.8L1567.0 1624.0L1568.0 1623.4L1569.0 1623.1L1570.0 1623.5L1571.0 1624.0L1572.0 1624.2L1573.0 1624.5L1574.0 1624.5L1575.0 1623.7L1576.0 1623.6L1577.0 1624.0L1578.0 1624.0L1579.0 1624.2L1580.0 1623.9L1581.0 1623.6L1582.0 1624.5L1583.0 1625.2L1584.0 1624.5L1585.0 1624.1L1586.0 1624.3L1587.0 1624.3L1588.0 1624.4L1589.0 1624.6L1590.0 1624.0L1591.0 1623.8L1592.0 1624.3L1593.0 1624.5L1594.0 1624.3L1595.0 1624.5L1596.0 1625.0L1597.0 1624.9L1598.0 1624.6L1599.0 1624.7L1600.0 1625.0L1601.0 1625.1L1602.0 1624.7L1603.0 1624.4L1604.0 1624.6L1605.0 1624.8L1606.0 1625.4L1607.0 1626.0L1608.0 1626.1L1609.0 1625.8L1610.0 1625.5L1611.0 1625.3L1612.0 1625.4L1613.0 1625.2L1614.0 1625.0L1615.0 1625.0L1616.0 1625.3" stroke="#fe1b14"/>
<path d="M166.0 1774.0L167.0 1774.6L168.0 1774.3L169.0 1773.9L170.0 1773.9L171.0 1774.0L172.0 1774.3L173.0 1775.1L174.0 1775.1L175.0 1774.1L176.0 1773.7L177.0 1774.0L178.0 1774.3L179.0 1774.3L180.0 1773.7L181.0 1773.7L182.0 1774.4L183.0 1774.5L184.0 1773.7L185.0 1773.7L186.0 1774.8L187.0 1775.3L188.0 1775.0L189.0 1774.3L190.0 1774.3L191.0 1774.8L192.0 1774.9L193.0 1774.8L194.0 1775.0L195.0 1775.2L196.0 1774.8L197.0 1774.5L198.0 1774.5L199.0 1774.7L200.0 1774.9L201.0 1774.9L202.0 1775.2L203.0 1775.8L204.0 1775.6L205.0 1775.5L206.0 1775.7L207.0 1775.4L208.0 1775.3L209.0 1775.3L210.0 1775.1L211.0 1775.3L212.0 1775.2L213.0 1774.9L214.0 1775.2L215.0 1775.8L216.0 1776.0L217.0 1776.5L218.0 1777.0L219.0 1776.6L220.0 1776.0L221.0 1775.9L222.0 1776.1L223.0 1776.2L224.0 1776.4L225.0 1776.5L226.0 1776.1L227.0 1776.3L228.0 1776.3L229.0 1776.0L230.0 1776.5L231.0 1776.6L232.0 1776.7L233.0 1777.4L234.0 1777.2L235.0 1776.4L236.0 1776.1L237.0 1776.2L238.0 1776.6L239.0 1776.4L240.0 1775.9L241.0 1775.8L242.0 1776.1L243.0 1776.4L244.0 1776.4L245.0 1776.6L246.0 1777.2L247.0 1777.5L248.0 1776.7L249.0 1776.0L250.0 1776.6L251.0 1777.2L252.0 1777.2L253.0 1777.2L254.0 1776.9L255.0 1776.0L256.0 1775.9L257.0 1776.8L258.0 1777.3L259.0 1777.3L260.0 1777.2L261.0 1777.5L262.0 1777.6L263.0 1777.2L264.0 1776.9L265.0 1777.0L266.0 1777.3L267.0 1777.8L268.0 1777.9L269.0 1777.4L270.0 1777.0L271.0 1777.5L272.0 1778.2L273.0 1778.6L274.0 1778.8L275.0 1778.0L276.0 1777.1L277.0 1777.1L278.0 1777.7L279.0 1777.7L280.0 1777.4L281.0 1777.8L282.0 1777.7L283.0 1777.3L284.0 1777.3L285.0 1777.2L286.0 1777.1L287.0 1777.2L288.0 1777.0L289.0 1776.8L290.0 1776.6L291.0 1776.1L292.0 1776.2L293.0 1776.9L294.0 1777.5L295.0 1777.2L296.0 1776.3L297.0 1776.0L298.0 1776.1L299.0 1776.5L300.0 1776.3L301.0 1775.3L302.0 1774.7L303.0 1774.9L304.0 1775.3L305.0 1775.5L306.0 1775.5L307.0 1775.3L308.0 1775.1L309.0 1775.0L310.0 1774.8L311.0 1773.6L312.0 1772.2L313.0 1772.0L314.0 1772.3L315.0 1772.7L316.0 1772.5L317.0 1771.7L318.0 1771.1L319.0 1770.2L320.0 1769.5L321.0 1769.2L322.0 1767.8L323.0 1765.7L324.0 1763.8L325.0 1762.4L326.0 1761.0L327.0 1758.9L328.0 1756.6L329.0 1754.0L330.0 1751.2L331.0 1748.3L332.0 1745.1L333.0 1742.1L334.0 1739.7L335.0 1737.4L336.0 1734.7L337.0 1731.6L338.0 1728.7L339.0 1726.8L340.0 1725.2L341.0 1722.5L342.0 1718.6L343.0 1714.7L344.0 1710.4L345.0 1704.4L346.0 1697.0L347.0 1687.6L348.0 1676.8L349.0 1664.6L350.0 1650.5L351.0 1635.3L352.0 1619.9L353.0 1604.2L354.0 1589.1L355.0 1576.2L356.0 1566.8L357.0 1562.0L358.0 1563.3L359.0 1569.9L360.0 1580.0L361.0 1593.8L362.0 1610.8L363.0 1629.1L364.0 1646.3L365.0 1662.0L366.0 1677.0L367.0 1691.0L368.0 1702.9L369.0 1712.6L370.0 1721.8L371.0 1730.1L372.0 1737.0L373.0 1742.4L374.0 1746.9L375.0 1750.3L376.0 1753.5L377.0 1757.5L378.0 1759.9L379.0 1761.0L380.0 1762.2L381.0 1764.0L382.0 1766.1L383.0 1767.0L384.0 1766.9L385.0 1767.1L386.0 1768.0L387.0 1769.0L388.0 1769.6L389.0 1769.7L390.0 1770.3L391.0 1771.1L392.0 1771.6L393.0 1772.0L394.0 1771.8L395.0 1771.8L396.0 1772.7L397.0 1773.5L398.0 1773.4L399.0 1773.6L400.0 1774.3L401.0 1774.4L402.0 1774.3L403.0 1774.5L404.0 1774.9L405.0 1775.2L406.0 1775.2L407.0 1774.9L408.0 1775.0L409.0 1775.4L410.0 1775.8L411.0 1775.9L412.0 1775.6L413.0 1775.8L414.0 1776.4L415.0 1776.8L416.0 1777.1L417.0 1777.3L418.0 1777.0L419.0 1776.8L420.0 1776.4L421.0 1776.2L422.0 1776.7L423.0 1777.1L424.0 1777.1L425.0 1777.0L426.0 1776.7L427.0 1776.5L428.0 1776.9L429.0 1777.4L430.0 1777.0L431.0 1776.1L432.0 1777.0L433.0 1778.1L434.0 1778.2L435.0 1777.9L436.0 1777.7L437.0 1777.4L438.0 1777.4L439.0 1777.5L440.0 1777.0L441.0 1777.0L442.0 1777.2L443.0 1777.1L444.0 1777.0L445.0 1777.0L446.0 1777.4L447.0 1777.6L448.0 1777.2L449.0 1777.0L450.0 1776.7L451.0 1776.5L452.0 1777.0L453.0 1777.8L454.0 1778.0L455.0 1777.5L456.0 1777.6L457.0 1778.4L458.0 1778.3L459.0 1777.7L460.0 1777.8L461.0 1778.0L462.0 1777.3L463.0 1776.4L464.0 1776.3L465.0 1777.2L466.0 1777.6L467.0 1777.1L468.0 1777.2L469.0 1776.8L470.0 1775.5L471.0 1775.3L472.0 1776.1L473.0 1776.0L474.0 1775.3L475.0 1774.9L476.0 1774.5L477.0 1774.6L478.0 1774.6L479.0 1773.3L480.0 1772.5L481.0 1773.2L482.0 1773.6L483.0 1772.9L484.0 1772.3L485.0 1772.1L486.0 1772.0L487.0 1771.7L488.0 1771.4L489.0 1771.4L490.0 1772.3L491.0 1773.2L492.0 1773.1L493.0 1773.3L494.0 1773.8L495.0 1773.2L496.0 1773.0L497.0 1773.4L498.0 1773.6L499.0 1774.4L500.0 1774.9L501.0 1774.5L502.0 1775.1L503.0 1775.9L504.0 1775.6L505.0 1775.6L506.0 1776.3L507.0 1776.4L508.0 1776.9L509.0 1777.6L510.0 1777.6L511.0 1777.7L512.0 1777.8L513.0 1777.7L514.0 1778.0L515.0 1778.6L516.0 1779.1L517.0 1779.2L518.0 1778.8L519.0 1778.9L520.0 1779.6L521.0 1779.6L522.0 1779.4L523.0 1779.4L524.0 1779.4L525.0 1779.2L526.0 1779.1L527.0 1780.0L528.0 1781.2L529.0 1781.3L530.0 1781.0L531.0 1780.7L532.0 1780.7L533.0 1780.6L534.0 1780.6L535.0 1780.0L536.0 1779.6L537.0 1780.7L538.0 1781.5L539.0 1781.3L540.0 1781.0L541.0 1781.3L542.0 1781.0L543.0 1780.0L544.0 1780.0L545.0 1780.8L546.0 1781.0L547.0 1781.1L548.0 1781.4L549.0 1781.5L550.0 1780.7L551.0 1780.3L552.0 1780.5L553.0 1780.6L554.0 1781.1L555.0 1781.2L556.0 1781.2L557.0 1781.9L558.0 1782.6L559.0 1783.0L560.0 1783.2L561.0 1782.8L562.0 1782.5L563.0 1782.8L564.0 1783.0L565.0 1782.9L566.0 1781.9L567.0 1780.8L568.0 1781.2L569.0 1782.1L570.0 1782.4L571.0 1782.4L572.0 1782.3L573.0 1781.8L574.0 1781.9L575.0 1782.6L576.0 1782.6L577.0 1782.7L578.0 1783.3L579.0 1783.1L580.0 1782.4L581.0 1782.1L582.0 1781.9L583.0 1782.3L584.0 1782.4L585.0 1782.4L586.0 1783.5L587.0 1784.1L588.0 1783.7L589.0 1783.7L590.0 1783.7L591.0 1783.4L592.0 1783.5L593.0 1783.1L594.0 1782.3L595.0 1782.3L596.0 1782.9L597.0 1783.6L598.0 1783.7L599.0 1783.6L600.0 1783.1L601.0 1783.2L602.0 1784.6L603.0 1785.2L604.0 1784.2L605.0 1783.8L606.0 1783.8L607.0 1783.4L608.0 1783.0L609.0 1783.2L610.0 1783.7L611.0 1783.9L612.0 1783.6L613.0 1783.2L614.0 1783.0L615.0 1783.6L616.0 1784.3L617.0 1784.4L618.0 1784.4L619.0 1784.0L620.0 1783.9L621.0 1784.0L622.0 1784.2L623.0 1784.1L624.0 1783.8L625.0 1784.4L626.0 1784.9L627.0 1784.7L628.0 1784.5L629.0 1784.6L630.0 1784.9L631.0 1784.6L632.0 1784.4L633.0 1784.8L634.0 1785.3L635.0 1785.2L636.0 1785.0L637.0 1784.9L638.0 1784.7L639.0 1784.3L640.0 1784.1L641.0 1784.8L642.0 1785.4L643.0 1785.0L644.0 1784.9L645.0 1785.5L646.0 1785.6L647.0 1785.5L648.0 1785.7L649.0 1785.8L650.0 1785.4L651.0 1785.5L652.0 1786.1L653.0 1785.8L654.0 1785.3L655.0 1785.8L656.0 1785.9L657.0 1785.7L658.0 1786.0L659.0 1786.5L660.0 1786.8L661.0 1786.6L662.0 1786.3L663.0 1786.8L664.0 1786.7L665.0 1786.2L666.0 1786.0L667.0 1786.2L668.0 1786.1L669.0 1785.8L670.0 1785.4L671.0 1785.5L672.0 1785.6L673.0 1785.3L674.0 1785.5L675.0 1786.3L676.0 1786.3L677.0 1786.0L678.0 1785.9L679.0 1785.8L680.0 1785.9L681.0 1786.6L682.0 1787.3L683.0 1787.2L684.0 1787.2L685.0 1787.4L686.0 1787.5L687.0 1787.5L688.0 1787.3L689.0 1786.9L690.0 1786.1L691.0 1785.9L692.0 1786.8L693.0 1787.6L694.0 1787.6L695.0 1787.0L696.0 1787.0L697.0 1787.1L698.0 1786.9L699.0 1787.0L700.0 1787.3L701.0 1787.7L702.0 1787.9L703.0 1787.9L704.0 1788.0L705.0 1788.3L706.0 1788.1L707.0 1788.0L708.0 1788.2L709.0 1788.0L710.0 1787.8L711.0 1787.6L712.0 1786.8L713.0 1786.6L714.0 1787.3L715.0 1787.7L716.0 1788.4L717.0 1788.6L718.0 1788.0L719.0 1788.1L720.0 1788.3L721.0 1788.0L722.0 1787.7L723.0 1787.9L724.0 1788.6L725.0 1789.3L726.0 1789.5L727.0 1788.8L728.0 1788.7L729.0 1789.2L730.0 1788.8L731.0 1788.3L732.0 1788.5L733.0 1788.8L734.0 1788.7L735.0 1788.3L736.0 1788.7L737.0 1789.6L738.0 1789.7L739.0 1789.1L740.0 1788.7L741.0 1788.7L742.0 1788.8L743.0 1788.6L744.0 1788.4L745.0 1788.2L746.0 1788.2L747.0 1788.4L748.0 1788.4L749.0 1788.2L750.0 1788.3L751.0 1788.3L752.0 1788.0L753.0 1787.9L754.0 1788.2L755.0 1788.7L756.0 1788.7L757.0 1788.2L758.0 1787.8L759.0 1788.0L760.0 1788.5L761.0 1787.9L762.0 1786.9L763.0 1786.5L764.0 1786.2L765.0 1785.5L766.0 1785.0L767.0 1784.7L768.0 1784.1L769.0 1784.1L770.0 1784.4L771.0 1783.6L772.0 1782.0L773.0 1780.8L774.0 1779.9L775.0 1779.0L776.0 1778.6L777.0 1778.2L778.0 1777.8L779.0 1777.7L780.0 1777.2L781.0 1777.0L782.0 1777.5L783.0 1777.4L784.0 1777.4L785.0 1778.2L786.0 1778.2L787.0 1777.9L788.0 1778.2L789.0 1778.3L790.0 1778.8L791.0 1780.3L792.0 1780.6L793.0 1779.8L794.0 1779.6L795.0 1779.6L796.0 1779.8L797.0 1779.5L798.0 1778.9L799.0 1778.4L800.0 1777.0L801.0 1775.6L802.0 1774.2L803.0 1772.3L804.0 1770.3L805.0 1768.0L806.0 1765.5L807.0 1763.0L808.0 1759.9L809.0 1757.2L810.0 1755.3L811.0 1753.7L812.0 1752.5L813.0 1751.7L814.0 1751.9L815.0 1753.6L816.0 1755.8L817.0 1757.9L818.0 1760.0L819.0 1762.1L820.0 1764.7L821.0 1767.4L822.0 1769.0L823.0 1770.4L824.0 1772.2L825.0 1773.8L826.0 1775.2L827.0 1776.1L828.0 1776.9L829.0 1777.0L830.0 1776.5L831.0 1776.2L832.0 1776.3L833.0 1776.1L834.0 1775.8L835.0 1776.2L836.0 1776.3L837.0 1776.0L838.0 1776.2L839.0 1777.6L840.0 1779.0L841.0 1779.6L842.0 1780.1L843.0 1780.7L844.0 1781.8L845.0 1782.8L846.0 1783.3L847.0 1784.1L848.0 1784.9L849.0 1785.3L850.0 1785.9L851.0 1786.4L852.0 1787.2L853.0 1788.2L854.0 1788.4L855.0 1789.0L856.0 1788.8L857.0 1788.1L858.0 1788.8L859.0 1789.8L860.0 1789.7L861.0 1789.4L862.0 1789.3L863.0 1789.1L864.0 1789.2L865.0 1789.7L866.0 1790.5L867.0 1791.0L868.0 1791.0L869.0 1790.7L870.0 1789.9L871.0 1789.6L872.0 1790.5L873.0 1791.0L874.0 1790.2L875.0 1789.8L876.0 1790.7L877.0 1791.0L878.0 1790.4L879.0 1790.2L880.0 1790.7L881.0 1791.5L882.0 1791.8L883.0 1791.4L884.0 1791.1L885.0 1791.1L886.0 1791.1L887.0 1790.8L888.0 1790.5L889.0 1790.7L890.0 1791.0L891.0 1791.3L892.0 1791.2L893.0 1790.9L894.0 1791.4L895.0 1792.2L896.0 1792.2L897.0 1791.4L898.0 1790.7L899.0 1791.2L900.0 1791.9L901.0 1791.7L902.0 1791.4L903.0 1791.4L904.0 1791.6L905.0 1791.4L906.0 1791.0L907.0 1791.5L908.0 1792.5L909.0 1792.7L910.0 1792.1L911.0 1792.0L912.0 1792.4L913.0 1792.0L914.0 1791.4L915.0 1791.9L916.0 1792.7L917.0 1792.8L918.0 1792.4L919.0 1792.2L920.0 1792.4L921.0 1792.7L922.0 1792.6L923.0 1792.2L924.0 1791.8L925.0 1791.8L926.0 1791.3L927.0 1790.8L928.0 1791.9L929.0 1792.5L930.0 1792.2L931.0 1792.2L932.0 1792.4L933.0 1792.2L934.0 1791.9L935.0 1792.3L936.0 1792.6L937.0 1792.2L938.0 1791.8L939.0 1791.9L940.0 1792.0L941.0 1792.7L942.0 1793.4L943.0 1793.2L944.0 1792.5L945.0 1792.2L946.0 1792.4L947.0 1792.6L948.0 1792.4L949.0 1791.8L950.0 1791.3L951.0 1791.6L952.0 1792.1L953.0 1792.6L954.0 1792.9L955.0 1792.2L956.0 1792.1L957.0 1792.6L958.0 1792.5L959.0 1792.6L960.0 1792.9L961.0 1792.8L962.0 1792.8L963.0 1793.5L964.0 1793.6L965.0 1792.8L966.0 1792.8L967.0 1793.3L968.0 1792.9L969.0 1792.4L970.0 1792.8L971.0 1793.1L972.0 1792.8L973.0 1793.0L974.0 1793.1L975.0 1793.0L976.0 1793.3L977.0 1793.7L978.0 1793.9L979.0 1793.4L980.0 1792.8L981.0 1793.3L982.0 1793.7L983.0 1793.4L984.0 1793.1L985.0 1793.4L986.0 1793.2L987.0 1792.9L988.0 1793.2L989.0 1792.7L990.0 1792.5L991.0 1792.8L992.0 1792.8L993.0 1792.9L994.0 1792.9L995.0 1793.0L996.0 1793.1L997.0 1793.0L998.0 1793.0L999.0 1792.7L1000.0 1792.2L1001.0 1792.2L1002.0 1792.1L1003.0 1791.8L1004.0 1791.9L1005.0 1791.7L1006.0 1790.5L1007.0 1789.2L1008.0 1788.8L1009.0 1788.4L1010.0 1787.7L1011.0 1787.2L1012.0 1786.9L1013.0 1786.7L1014.0 1786.0L1015.0 1785.5L1016.0 1785.6L1017.0 1785.8L1018.0 1786.0L1019.0 1786.0L1020.0 1786.1L1021.0 1786.1L1022.0 1785.9L1023.0 1786.9L1024.0 1788.5L1025.0 1789.5L1026.0 1790.7L1027.0 1791.0L1028.0 1790.5L1029.0 1791.5L1030.0 1792.6L1031.0 1792.1L1032.0 1792.0L1033.0 1792.2L1034.0 1792.2L1035.0 1792.4L1036.0 1792.8L1037.0 1793.0L1038.0 1792.8L1039.0 1792.8L1040.0 1792.9L1041.0 1793.1L1042.0 1793.0L1043.0 1792.7L1044.0 1792.6L1045.0 1792.3L1046.0 1792.4L1047.0 1792.4L1048.0 1791.9L1049.0 1792.1L1050.0 1792.2L1051.0 1791.7L1052.0 1791.8L1053.0 1791.2L1054.0 1790.2L1055.0 1790.1L1056.0 1789.8L1057.0 1789.2L1058.0 1789.1L1059.0 1788.8L1060.0 1787.7L1061.0 1787.1L1062.0 1787.6L1063.0 1787.5L1064.0 1787.3L1065.0 1787.5L1066.0 1787.7L1067.0 1789.0L1068.0 1789.7L1069.0 1789.4L1070.0 1790.1L1071.0 1790.7L1072.0 1790.9L1073.0 1791.5L1074.0 1792.3L1075.0 1792.5L1076.0 1792.1L1077.0 1792.2L1078.0 1793.0L1079.0 1793.5L1080.0 1793.3L1081.0 1793.6L1082.0 1793.5L1083.0 1793.2L1084.0 1793.9L1085.0 1794.6L1086.0 1795.3L1087.0 1795.2L1088.0 1794.3L1089.0 1793.7L1090.0 1793.3L1091.0 1793.5L1092.0 1794.1L1093.0 1794.1L1094.0 1793.9L1095.0 1794.2L1096.0 1794.7L1097.0 1794.8L1098.0 1794.4L1099.0 1794.2L1100.0 1794.7L1101.0 1794.8L1102.0 1793.6L1103.0 1793.4L1104.0 1794.3L1105.0 1794.8L1106.0 1795.2L1107.0 1795.6L1108.0 1795.3L1109.0 1794.6L1110.0 1794.4L1111.0 1794.6L1112.0 1794.7L1113.0 1794.8L1114.0 1794.6L1115.0 1794.2L1116.0 1794.1L1117.0 1794.1L1118.0 1794.0L1119.0 1793.8L1120.0 1794.0L1121.0 1794.6L1122.0 1794.9L1123.0 1794.6L1124.0 1793.6L1125.0 1793.0L1126.0 1793.5L1127.0 1794.2L1128.0 1794.7L1129.0 1795.1L1130.0 1795.3L1131.0 1795.2L1132.0 1794.8L1133.0 1794.1L1134.0 1793.9L1135.0 1794.1L1136.0 1793.8L1137.0 1793.6L1138.0 1794.1L1139.0 1794.3L1140.0 1794.1L1141.0 1793.9L1142.0 1794.2L1143.0 1794.1L1144.0 1793.5L1145.0 1793.0L1146.0 1792.6L1147.0 1792.9L1148.0 1793.4L1149.0 1793.1L1150.0 1793.1L1151.0 1793.0L1152.0 1792.6L1153.0 1792.5L1154.0 1792.8L1155.0 1793.1L1156.0 1792.9L1157.0 1792.1L1158.0 1791.1L1159.0 1791.2L1160.0 1791.8L1161.0 1791.0L1162.0 1790.4L1163.0 1790.5L1164.0 1790.1L1165.0 1790.1L1166.0 1790.0L1167.0 1789.3L1168.0 1788.2L1169.0 1786.4L1170.0 1785.1L1171.0 1784.4L1172.0 1783.1L1173.0 1781.2L1174.0 1778.8L1175.0 1775.3L1176.0 1771.6L1177.0 1768.4L1178.0 1764.5L1179.0 1760.1L1180.0 1755.0L1181.0 1748.9L1182.0 1742.7L1183.0 1737.4L1184.0 1733.6L1185.0 1731.2L1186.0 1730.5L1187.0 1731.5L1188.0 1733.7L1189.0 1737.5L1190.0 1741.9L1191.0 1745.4L1192.0 1747.8L1193.0 1751.1L1194.0 1754.1L1195.0 1755.3L1196.0 1756.6L1197.0 1759.1L1198.0 1760.9L1199.0 1761.7L1200.0 1763.0L1201.0 1765.5L1202.0 1768.2L1203.0 1770.9L1204.0 1773.8L1205.0 1776.9L1206.0 1779.6L1207.0 1781.8L1208.0 1783.4L1209.0 1784.9L1210.0 1786.8L1211.0 1788.0L1212.0 1788.6L1213.0 1789.5L1214.0 1790.5L1215.0 1791.0L1216.0 1791.5L1217.0 1792.3L1218.0 1792.6L1219.0 1792.4L1220.0 1792.3L1221.0 1792.3L1222.0 1792.8L1223.0 1793.5L1224.0 1793.8L1225.0 1793.7L1226.0 1793.4L1227.0 1793.4L1228.0 1793.5L1229.0 1793.5L1230.0 1793.8L1231.0 1793.9L1232.0 1793.8L1233.0 1794.1L1234.0 1794.4L1235.0 1794.5L1236.0 1794.4L1237.0 1794.9L1238.0 1795.4L1239.0 1795.2L1240.0 1794.9L1241.0 1794.5L1242.0 1794.0L1243.0 1793.8L1244.0 1794.1L1245.0 1794.3L1246.0 1794.2L1247.0 1793.9L1248.0 1794.1L1249.0 1794.9L1250.0 1794.8L1251.0 1794.3L1252.0 1795.1L1253.0 1796.3L1254.0 1796.1L1255.0 1794.8L1256.0 1793.8L1257.0 1794.3L1258.0 1795.3L1259.0 1795.6L1260.0 1795.7L1261.0 1795.8L1262.0 1795.8L1263.0 1795.3L1264.0 1795.3L1265.0 1796.0L1266.0 1795.7L1267.0 1795.4L1268.0 1796.1L1269.0 1796.2L1270.0 1795.9L1271.0 1795.5L1272.0 1795.6L1273.0 1795.6L1274.0 1795.1L1275.0 1795.1L1276.0 1795.3L1277.0 1795.2L1278.0 1794.9L1279.0 1795.0L1280.0 1795.5L1281.0 1796.0L1282.0 1796.1L1283.0 1795.7L1284.0 1795.0L1285.0 1794.9L1286.0 1795.3L1287.0 1796.0L1288.0 1797.0L1289.0 1797.5L1290.0 1796.7L1291.0 1795.3L1292.0 1794.8L1293.0 1795.1L1294.0 1795.6L1295.0 1796.1L1296.0 1796.0L1297.0 1795.5L1298.0 1795.9L1299.0 1796.0L1300.0 1795.6L1301.0 1795.4L1302.0 1795.1L1303.0 1795.1L1304.0 1795.3L1305.0 1795.6L1306.0 1795.9L1307.0 1796.2L1308.0 1795.9L1309.0 1795.0L1310.0 1794.4L1311.0 1794.5L1312.0 1794.8L1313.0 1794.8L1314.0 1795.0L1315.0 1795.6L1316.0 1795.6L1317.0 1794.9L1318.0 1794.5L1319.0 1794.6L1320.0 1794.6L1321.0 1794.3L1322.0 1793.7L1323.0 1793.5L1324.0 1793.5L1325.0 1794.1L1326.0 1794.3L1327.0 1793.9L1328.0 1793.8L1329.0 1793.6L1330.0 1793.9L1331.0 1794.8L1332.0 1794.7L1333.0 1794.0L1334.0 1793.6L1335.0 1793.6L1336.0 1793.5L1337.0 1793.3L1338.0 1792.9L1339.0 1792.8L1340.0 1792.6L1341.0 1792.7L1342.0 1793.5L1343.0 1793.4L1344.0 1792.2L1345.0 1791.6L1346.0 1791.7L1347.0 1791.8L1348.0 1791.5L1349.0 1791.3L1350.0 1791.5L1351.0 1792.0L1352.0 1791.7L1353.0 1791.0L1354.0 1791.1L1355.0 1790.9L1356.0 1790.8L1357.0 1790.9L1358.0 1791.1L1359.0 1791.5L1360.0 1791.4L1361.0 1790.8L1362.0 1790.8L1363.0 1791.7L1364.0 1791.8L1365.0 1790.9L1366.0 1790.5L1367.0 1790.8L1368.0 1790.6L1369.0 1790.2L1370.0 1790.1L1371.0 1789.8L1372.0 1789.3L1373.0 1788.7L1374.0 1788.2L1375.0 1787.8L1376.0 1787.7L1377.0 1787.3L1378.0 1786.2L1379.0 1785.6L1380.0 1785.1L1381.0 1784.6L1382.0 1783.7L1383.0 1782.5L1384.0 1781.7L1385.0 1780.2L1386.0 1779.0L1387.0 1778.0L1388.0 1775.7L1389.0 1773.3L1390.0 1771.9L1391.0 1770.9L1392.0 1769.8L1393.0 1768.9L1394.0 1768.0L1395.0 1766.8L1396.0 1765.7L1397.0 1765.2L1398.0 1765.1L1399.0 1765.5L1400.0 1766.1L1401.0 1767.2L1402.0 1769.3L1403.0 1771.1L1404.0 1772.3L1405.0 1773.0L1406.0 1774.3L1407.0 1776.2L1408.0 1777.8L1409.0 1779.1L1410.0 1780.2L1411.0 1781.1L1412.0 1782.3L1413.0 1783.7L1414.0 1784.0L1415.0 1784.3L1416.0 1785.4L1417.0 1786.0L1418.0 1786.1L1419.0 1786.0L1420.0 1785.9L1421.0 1785.3L1422.0 1784.4L1423.0 1783.9L1424.0 1784.1L1425.0 1784.5L1426.0 1784.2L1427.0 1782.9L1428.0 1781.8L1429.0 1780.9L1430.0 1779.4L1431.0 1778.1L1432.0 1776.2L1433.0 1774.1L1434.0 1772.7L1435.0 1770.9L1436.0 1768.6L1437.0 1766.7L1438.0 1765.8L1439.0 1765.9L1440.0 1765.8L1441.0 1765.2L1442.0 1764.7L1443.0 1764.7L1444.0 1766.4L1445.0 1768.5L1446.0 1769.5L1447.0 1770.4L1448.0 1772.3L1449.0 1774.3L1450.0 1776.0L1451.0 1777.4L1452.0 1778.9L1453.0 1780.5L1454.0 1782.2L1455.0 1783.7L1456.0 1785.2L1457.0 1786.2L1458.0 1786.7L1459.0 1787.1L1460.0 1787.6L1461.0 1788.4L1462.0 1789.2L1463.0 1789.5L1464.0 1789.7L1465.0 1789.9L1466.0 1789.9L1467.0 1789.6L1468.0 1789.6L1469.0 1790.6L1470.0 1791.0L1471.0 1791.1L1472.0 1791.4L1473.0 1791.3L1474.0 1791.5L1475.0 1791.8L1476.0 1791.9L1477.0 1792.3L1478.0 1792.3L1479.0 1791.6L1480.0 1791.0L1481.0 1791.0L1482.0 1792.0L1483.0 1792.8L1484.0 1792.7L1485.0 1792.3L1486.0 1792.3L1487.0 1792.9L1488.0 1792.9L1489.0 1792.4L1490.0 1792.4L1491.0 1792.4L1492.0 1791.8L1493.0 1792.0L1494.0 1792.8L1495.0 1792.8L1496.0 1792.4L1497.0 1792.6L1498.0 1792.9L1499.0 1793.1L1500.0 1793.1L1501.0 1792.5L1502.0 1792.0L1503.0 1792.0L1504.0 1791.9L1505.0 1792.3L1506.0 1793.2L1507.0 1793.5L1508.0 1793.0L1509.0 1792.3L1510.0 1791.6L1511.0 1791.5L1512.0 1792.0L1513.0 1791.9L1514.0 1791.5L1515.0 1791.7L1516.0 1792.4L1517.0 1792.2L1518.0 1791.5L1519.0 1791.5L1520.0 1791.6L1521.0 1791.2L1522.0 1790.3L1523.0 1789.3L1524.0 1788.6L1525.0 1788.2L1526.0 1788.3L1527.0 1789.1L1528.0 1789.3L1529.0 1789.0L1530.0 1789.2L1531.0 1789.3L1532.0 1788.7L1533.0 1788.6L1534.0 1789.7L1535.0 1789.9L1536.0 1789.7L1537.0 1790.1L1538.0 1789.8L1539.0 1789.3L1540.0 1789.2L1541.0 1789.2L1542.0 1789.5L1543.0 1790.1L1544.0 1791.1L1545.0 1791.3L1546.0 1791.0L1547.0 1791.2L1548.0 1791.3L1549.0 1791.9L1550.0 1792.6L1551.0 1792.5L1552.0 1792.2L1553.0 1792.6L1554.0 1793.0L1555.0 1793.6L1556.0 1794.5L1557.0 1795.0L1558.0 1794.6L1559.0 1793.7L1560.0 1793.4L1561.0 1794.0L1562.0 1793.8L1563.0 1793.2L1564.0 1793.9L1565.0 1794.7L1566.0 1794.1L1567.0 1793.7L1568.0 1794.1L1569.0 1794.6L1570.0 1794.6L1571.0 1794.2L1572.0 1794.1L1573.0 1794.7L1574.0 1794.8L1575.0 1794.6L1576.0 1794.9L1577.0 1795.0L1578.0 1794.1L1579.0 1793.7L1580.0 1794.0L1581.0 1793.8L1582.0 1793.4L1583.0 1794.4L1584.0 1795.5L1585.0 1795.5L1586.0 1795.0L1587.0 1794.2L1588.0 1794.9L1589.0 1796.3L1590.0 1796.3L1591.0 1795.3L1592.0 1795.0L1593.0 1795.2L1594.0 1794.9L1595.0 1794.7L1596.0 1794.7L1597.0 1795.2L1598.0 1796.0L1599.0 1796.4L1600.0 1796.0L1601.0 1795.4L1602.0 1795.2L1603.0 1795.1L1604.0 1795.4L1605.0 1795.8L1606.0 1796.2L1607.0 1795.9L1608.0 1795.2L1609.0 1795.7L1610.0 1796.0L1611.0 1796.0L1612.0 1796.4L1613.0 1796.6L1614.0 1797.1L1615.0 1797.1L1616.0 1796.6" stroke="#fe1b14"/>
</g>
<g fill="#000">
<circle cx="312.6" cy="267.3" r="15.2"/>
<path d="M340.4 179.7L376.4 179.7L358.4 215.7Z"/>
<path d="M406.1 221.2L425.6 240.7L406.1 260.2L386.6 240.7Z"/>
<path d="M483.0 229.3L502.5 248.8L483.0 268.3L463.5 248.8Z"/>
<circle cx="530.8" cy="258.0" r="15.4"/>
<path d="M795.8 239.4L831.8 239.4L813.8 275.4Z"/>
<path d="M1165.5 220.0L1201.5 220.0L1183.5 256.0Z"/>
<path d="M1382.5 249.5L1418.5 249.5L1400.5 285.5Z"/>
<path d="M1428.3 249.5L1464.3 249.5L1446.3 285.5Z"/>
</g>
<g stroke="#000" stroke-width="7.2" stroke-linecap="round" fill="none">
<path d="M163 1835V28.7H1619V1835Z" stroke-linejoin="round"/>
<line x1="163.0" y1="1835" x2="163.0" y2="1857"/>
<line x1="345.0" y1="1835" x2="345.0" y2="1845"/>
<line x1="527.0" y1="1835" x2="527.0" y2="1857"/>
<line x1="709.0" y1="1835" x2="709.0" y2="1845"/>
<line x1="891.0" y1="1835" x2="891.0" y2="1857"/>
<line x1="1073.0" y1="1835" x2="1073.0" y2="1845"/>
<line x1="1255.0" y1="1835" x2="1255.0" y2="1857"/>
<line x1="1437.0" y1="1835" x2="1437.0" y2="1845"/>
<line x1="1619.0" y1="1835" x2="1619.0" y2="1857"/>
</g>
<text x="129.92" y="1919.80" font-size="62.0" textLength="66.53" lengthAdjust="spacingAndGlyphs">20</text>
<text x="494.65" y="1919.80" font-size="62.0" textLength="65.78" lengthAdjust="spacingAndGlyphs">30</text>
<text x="859.11" y="1919.80" font-size="62.0" textLength="65.29" lengthAdjust="spacingAndGlyphs">40</text>
<text x="1222.16" y="1919.80" font-size="62.0" textLength="66.28" lengthAdjust="spacingAndGlyphs">50</text>
<text x="1585.81" y="1919.80" font-size="62.0" textLength="66.65" lengthAdjust="spacingAndGlyphs">60</text>
<text x="804" y="2024.5" font-size="63.5">2&#952;<tspan font-weight="normal" stroke="#000" stroke-width="0.9"> /(&#176;<tspan dx="3.5">)</tspan></tspan></text>
<text transform="translate(72.3 1195.6) rotate(-90)" x="-4.48" y="0" font-size="71" textLength="454.22" lengthAdjust="spacingAndGlyphs">Intensity (a.u.)</text>
<path d="M525.7 89.9L545.4 109.6L525.7 129.3L506.0 109.6Z"/>
<path d="M880.4 91.8L916.0 91.8L898.2 128.6Z"/>
<circle cx="1218.9" cy="105.4" r="15.8"/>
<text x="558.30" y="130.30" font-size="56.0" textLength="234.16" lengthAdjust="spacingAndGlyphs">β-NiMoO</text>
<text x="793.00" y="154.50" font-size="33.0">4</text>
<text x="931.91" y="127.70" font-size="56.0" textLength="216.59" lengthAdjust="spacingAndGlyphs">Anatase</text>
<text x="1271.45" y="132.00" font-size="56.0">K</text>
<text x="1311.75" y="155.20" font-size="33.0">2</text>
<text x="1332.07" y="132.00" font-size="56.0">Ti</text>
<text x="1379.89" y="155.20" font-size="33.0">6</text>
<text x="1398.50" y="132.00" font-size="56.0">O</text>
<text x="1442.72" y="155.2" font-size="33">13</text>
<text x="1312.72" y="235.80" font-size="51.5" textLength="221.70" lengthAdjust="spacingAndGlyphs">NiMo/TiO</text>
<text x="1535.59" y="260.80" font-size="29.0" style="font-weight:normal" stroke="#000" stroke-width="0.7">2</text>
<text x="1551.69" y="235.80" font-size="51.5">-8</text>
<text x="1438.24" y="416.80" font-size="51.5" textLength="82.84" lengthAdjust="spacingAndGlyphs">TiO</text>
<text x="1521.49" y="441.80" font-size="29.0" style="font-weight:normal" stroke="#000" stroke-width="0.7">2</text>
<text x="1539.29" y="416.80" font-size="51.5">-8</text>
<text x="1296.52" y="582.00" font-size="51.5" textLength="221.70" lengthAdjust="spacingAndGlyphs">NiMo/TiO</text>
<text x="1519.39" y="607.00" font-size="29.0" style="font-weight:normal" stroke="#000" stroke-width="0.7">2</text>
<text x="1535.49" y="582.00" font-size="51.5">-6</text>
<text x="1431.64" y="741.30" font-size="51.5" textLength="82.84" lengthAdjust="spacingAndGlyphs">TiO</text>
<text x="1514.89" y="766.30" font-size="29.0" style="font-weight:normal" stroke="#000" stroke-width="0.7">2</text>
<text x="1532.69" y="741.30" font-size="51.5">-6</text>
<text x="1296.32" y="918.80" font-size="51.5" textLength="221.70" lengthAdjust="spacingAndGlyphs">NiMo/TiO</text>
<text x="1519.19" y="943.80" font-size="29.0" style="font-weight:normal" stroke="#000" stroke-width="0.7">2</text>
<text x="1535.29" y="918.80" font-size="51.5">-4</text>
<text x="1429.84" y="1076.60" font-size="51.5" textLength="82.84" lengthAdjust="spacingAndGlyphs">TiO</text>
<text x="1513.09" y="1101.60" font-size="29.0" style="font-weight:normal" stroke="#000" stroke-width="0.7">2</text>
<text x="1530.89" y="1076.60" font-size="51.5">-4</text>
<text x="1297.72" y="1247.40" font-size="51.5" textLength="221.70" lengthAdjust="spacingAndGlyphs">NiMo/TiO</text>
<text x="1520.59" y="1272.40" font-size="29.0" style="font-weight:normal" stroke="#000" stroke-width="0.7">2</text>
<text x="1536.69" y="1247.40" font-size="51.5">-2</text>
<text x="1425.94" y="1412.70" font-size="51.5" textLength="82.84" lengthAdjust="spacingAndGlyphs">TiO</text>
<text x="1509.19" y="1437.70" font-size="29.0" style="font-weight:normal" stroke="#000" stroke-width="0.7">2</text>
<text x="1526.99" y="1412.70" font-size="51.5">-2</text>
<text x="1298.62" y="1592.00" font-size="51.5" textLength="221.70" lengthAdjust="spacingAndGlyphs">NiMo/TiO</text>
<text x="1521.49" y="1617.00" font-size="29.0" style="font-weight:normal" stroke="#000" stroke-width="0.7">2</text>
<text x="1537.59" y="1592.00" font-size="51.5">-1</text>
<text x="1423.24" y="1757.40" font-size="51.5" textLength="82.84" lengthAdjust="spacingAndGlyphs">TiO</text>
<text x="1506.49" y="1782.40" font-size="29.0" style="font-weight:normal" stroke="#000" stroke-width="0.7">2</text>
<text x="1524.29" y="1757.40" font-size="51.5">-1</text>
</svg>
</body></html>
